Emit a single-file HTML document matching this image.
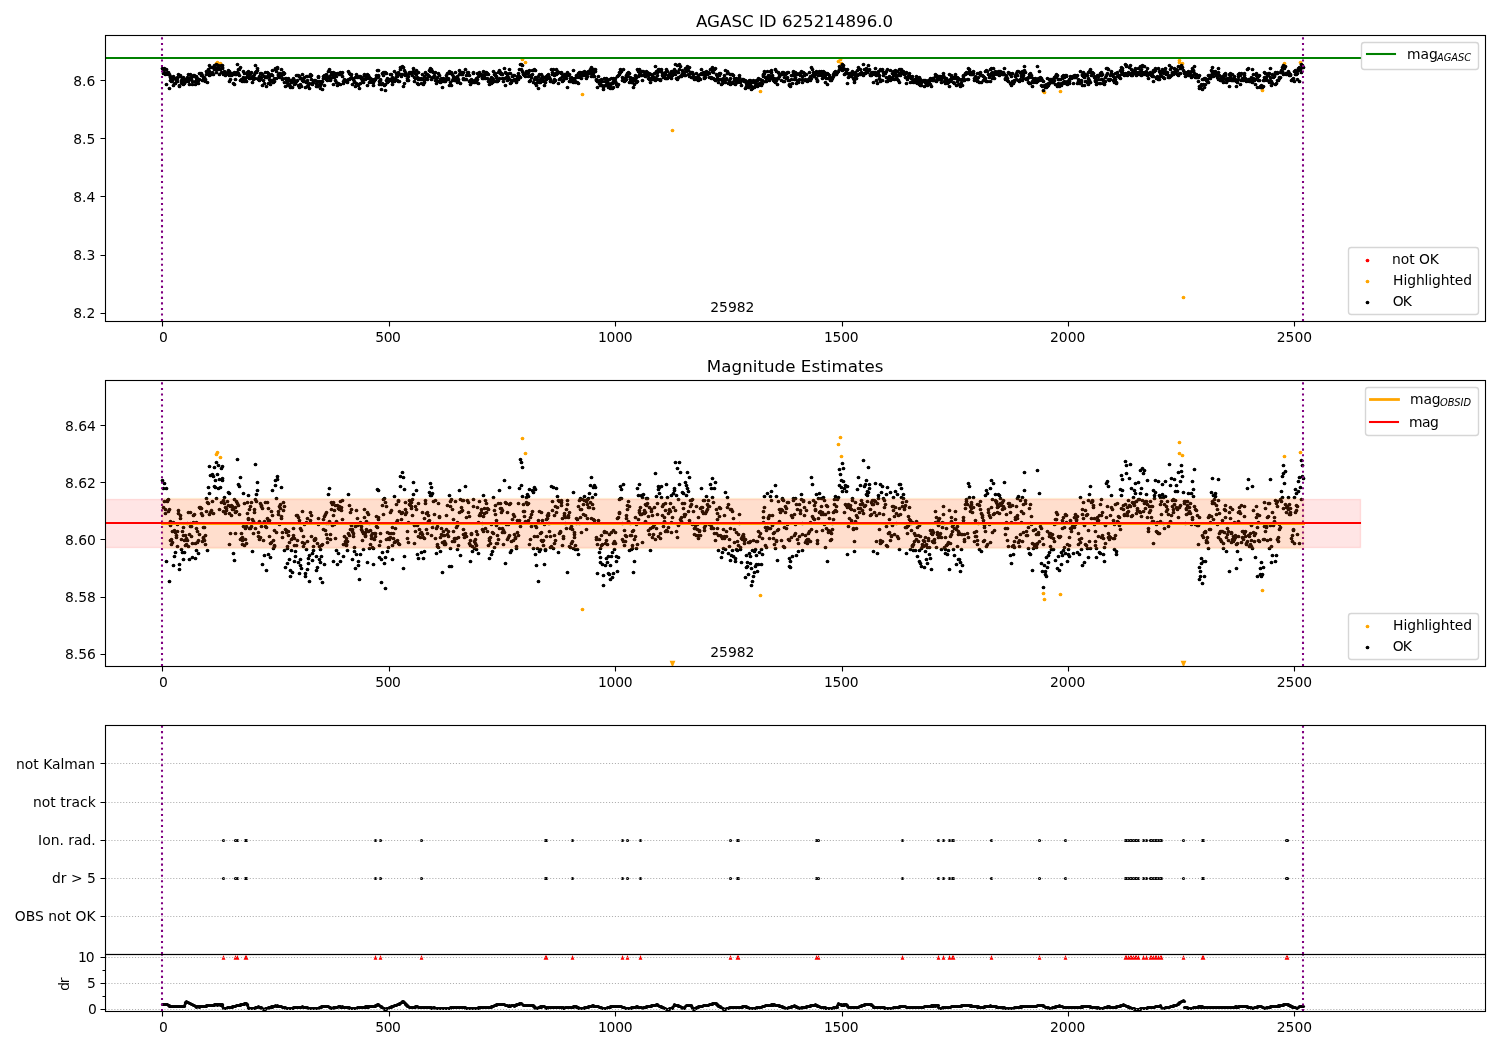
<!DOCTYPE html>
<html lang="en"><head><meta charset="utf-8"><title>AGASC ID 625214896.0 - Magnitude Estimates</title>
<style>
html,body{margin:0;padding:0;background:#fff;}
body{width:1500px;height:1050px;overflow:hidden;}
svg{display:block;}
text{font-family:"DejaVu Sans", "Liberation Sans", sans-serif;font-size:13.889px;fill:#000;}
.t12{font-size:16.667px;}
.sub{font-size:9.9px;font-style:italic;}
</style></head><body>
<svg width="1500" height="1050" viewBox="0 0 1500 1050">
<rect x="0" y="0" width="1500" height="1050" fill="#fff"/>
<clipPath id="c1"><rect x="105.1" y="35.3" width="1379.9" height="285.98"/></clipPath>
<g clip-path="url(#c1)">
<g fill="#ffa500"><circle cx="216.5" cy="63.5" r="1.86"/><circle cx="217.5" cy="62.5" r="1.86"/><circle cx="220.5" cy="63.5" r="1.86"/><circle cx="522.5" cy="59.5" r="1.86"/><circle cx="525.5" cy="62.5" r="1.86"/><circle cx="582.5" cy="94.5" r="1.86"/><circle cx="672.5" cy="130.5" r="1.86"/><circle cx="760.5" cy="91.5" r="1.86"/><circle cx="838.5" cy="61.5" r="1.86"/><circle cx="840.5" cy="59.5" r="1.86"/><circle cx="841.5" cy="63.5" r="1.86"/><circle cx="1043.5" cy="91.5" r="1.86"/><circle cx="1044.5" cy="92.5" r="1.86"/><circle cx="1060.5" cy="91.5" r="1.86"/><circle cx="1179.5" cy="60.5" r="1.86"/><circle cx="1179.5" cy="62.5" r="1.86"/><circle cx="1182.5" cy="63.5" r="1.86"/><circle cx="1183.5" cy="297.5" r="1.86"/><circle cx="1262.5" cy="90.5" r="1.86"/><circle cx="1284.5" cy="63.5" r="1.86"/><circle cx="1300.5" cy="62.5" r="1.86"/></g>
<g fill="#000"><circle cx="162.5" cy="68.5" r="1.86"/><circle cx="163.5" cy="73.5" r="1.86"/><circle cx="163.5" cy="69.5" r="1.86"/><circle cx="164.5" cy="72.5" r="1.86"/><circle cx="164.5" cy="68.5" r="1.86"/><circle cx="165.5" cy="74.5" r="1.86"/><circle cx="166.5" cy="69.5" r="1.86"/><circle cx="166.5" cy="84.5" r="1.86"/><circle cx="167.5" cy="72.5" r="1.86"/><circle cx="168.5" cy="74.5" r="1.86"/><circle cx="168.5" cy="72.5" r="1.86"/><circle cx="169.5" cy="74.5" r="1.86"/><circle cx="169.5" cy="88.5" r="1.86"/><circle cx="170.5" cy="76.5" r="1.86"/><circle cx="170.5" cy="80.5" r="1.86"/><circle cx="170.5" cy="77.5" r="1.86"/><circle cx="171.5" cy="80.5" r="1.86"/><circle cx="171.5" cy="81.5" r="1.86"/><circle cx="172.5" cy="78.5" r="1.86"/><circle cx="172.5" cy="80.5" r="1.86"/><circle cx="173.5" cy="76.5" r="1.86"/><circle cx="173.5" cy="85.5" r="1.86"/><circle cx="174.5" cy="78.5" r="1.86"/><circle cx="174.5" cy="83.5" r="1.86"/><circle cx="175.5" cy="78.5" r="1.86"/><circle cx="175.5" cy="83.5" r="1.86"/><circle cx="176.5" cy="80.5" r="1.86"/><circle cx="176.5" cy="79.5" r="1.86"/><circle cx="177.5" cy="77.5" r="1.86"/><circle cx="177.5" cy="81.5" r="1.86"/><circle cx="177.5" cy="78.5" r="1.86"/><circle cx="178.5" cy="74.5" r="1.86"/><circle cx="179.5" cy="86.5" r="1.86"/><circle cx="179.5" cy="85.5" r="1.86"/><circle cx="180.5" cy="75.5" r="1.86"/><circle cx="180.5" cy="76.5" r="1.86"/><circle cx="181.5" cy="82.5" r="1.86"/><circle cx="181.5" cy="80.5" r="1.86"/><circle cx="182.5" cy="78.5" r="1.86"/><circle cx="182.5" cy="83.5" r="1.86"/><circle cx="183.5" cy="79.5" r="1.86"/><circle cx="183.5" cy="77.5" r="1.86"/><circle cx="183.5" cy="84.5" r="1.86"/><circle cx="184.5" cy="83.5" r="1.86"/><circle cx="184.5" cy="80.5" r="1.86"/><circle cx="185.5" cy="79.5" r="1.86"/><circle cx="185.5" cy="81.5" r="1.86"/><circle cx="186.5" cy="80.5" r="1.86"/><circle cx="186.5" cy="81.5" r="1.86"/><circle cx="187.5" cy="80.5" r="1.86"/><circle cx="187.5" cy="77.5" r="1.86"/><circle cx="188.5" cy="81.5" r="1.86"/><circle cx="188.5" cy="74.5" r="1.86"/><circle cx="189.5" cy="79.5" r="1.86"/><circle cx="189.5" cy="84.5" r="1.86"/><circle cx="190.5" cy="74.5" r="1.86"/><circle cx="190.5" cy="77.5" r="1.86"/><circle cx="191.5" cy="79.5" r="1.86"/><circle cx="191.5" cy="77.5" r="1.86"/><circle cx="192.5" cy="81.5" r="1.86"/><circle cx="192.5" cy="84.5" r="1.86"/><circle cx="193.5" cy="75.5" r="1.86"/><circle cx="193.5" cy="76.5" r="1.86"/><circle cx="194.5" cy="75.5" r="1.86"/><circle cx="195.5" cy="81.5" r="1.86"/><circle cx="195.5" cy="84.5" r="1.86"/><circle cx="196.5" cy="78.5" r="1.86"/><circle cx="196.5" cy="76.5" r="1.86"/><circle cx="196.5" cy="82.5" r="1.86"/><circle cx="197.5" cy="81.5" r="1.86"/><circle cx="197.5" cy="78.5" r="1.86"/><circle cx="198.5" cy="80.5" r="1.86"/><circle cx="198.5" cy="83.5" r="1.86"/><circle cx="199.5" cy="79.5" r="1.86"/><circle cx="199.5" cy="73.5" r="1.86"/><circle cx="200.5" cy="73.5" r="1.86"/><circle cx="201.5" cy="73.5" r="1.86"/><circle cx="201.5" cy="75.5" r="1.86"/><circle cx="202.5" cy="80.5" r="1.86"/><circle cx="202.5" cy="75.5" r="1.86"/><circle cx="203.5" cy="77.5" r="1.86"/><circle cx="203.5" cy="80.5" r="1.86"/><circle cx="203.5" cy="79.5" r="1.86"/><circle cx="204.5" cy="77.5" r="1.86"/><circle cx="204.5" cy="80.5" r="1.86"/><circle cx="205.5" cy="81.5" r="1.86"/><circle cx="205.5" cy="79.5" r="1.86"/><circle cx="206.5" cy="71.5" r="1.86"/><circle cx="206.5" cy="74.5" r="1.86"/><circle cx="207.5" cy="72.5" r="1.86"/><circle cx="207.5" cy="82.5" r="1.86"/><circle cx="208.5" cy="73.5" r="1.86"/><circle cx="208.5" cy="69.5" r="1.86"/><circle cx="209.5" cy="71.5" r="1.86"/><circle cx="209.5" cy="75.5" r="1.86"/><circle cx="209.5" cy="65.5" r="1.86"/><circle cx="210.5" cy="74.5" r="1.86"/><circle cx="210.5" cy="67.5" r="1.86"/><circle cx="211.5" cy="74.5" r="1.86"/><circle cx="212.5" cy="67.5" r="1.86"/><circle cx="212.5" cy="72.5" r="1.86"/><circle cx="213.5" cy="74.5" r="1.86"/><circle cx="213.5" cy="67.5" r="1.86"/><circle cx="214.5" cy="69.5" r="1.86"/><circle cx="214.5" cy="65.5" r="1.86"/><circle cx="215.5" cy="69.5" r="1.86"/><circle cx="215.5" cy="68.5" r="1.86"/><circle cx="216.5" cy="72.5" r="1.86"/><circle cx="216.5" cy="64.5" r="1.86"/><circle cx="217.5" cy="67.5" r="1.86"/><circle cx="218.5" cy="65.5" r="1.86"/><circle cx="218.5" cy="69.5" r="1.86"/><circle cx="219.5" cy="68.5" r="1.86"/><circle cx="219.5" cy="74.5" r="1.86"/><circle cx="220.5" cy="69.5" r="1.86"/><circle cx="221.5" cy="72.5" r="1.86"/><circle cx="221.5" cy="65.5" r="1.86"/><circle cx="222.5" cy="68.5" r="1.86"/><circle cx="222.5" cy="67.5" r="1.86"/><circle cx="222.5" cy="65.5" r="1.86"/><circle cx="223.5" cy="72.5" r="1.86"/><circle cx="223.5" cy="74.5" r="1.86"/><circle cx="224.5" cy="73.5" r="1.86"/><circle cx="224.5" cy="71.5" r="1.86"/><circle cx="225.5" cy="73.5" r="1.86"/><circle cx="225.5" cy="75.5" r="1.86"/><circle cx="226.5" cy="74.5" r="1.86"/><circle cx="227.5" cy="72.5" r="1.86"/><circle cx="228.5" cy="73.5" r="1.86"/><circle cx="228.5" cy="70.5" r="1.86"/><circle cx="229.5" cy="71.5" r="1.86"/><circle cx="229.5" cy="75.5" r="1.86"/><circle cx="229.5" cy="81.5" r="1.86"/><circle cx="230.5" cy="79.5" r="1.86"/><circle cx="230.5" cy="73.5" r="1.86"/><circle cx="231.5" cy="73.5" r="1.86"/><circle cx="231.5" cy="75.5" r="1.86"/><circle cx="232.5" cy="74.5" r="1.86"/><circle cx="232.5" cy="73.5" r="1.86"/><circle cx="233.5" cy="74.5" r="1.86"/><circle cx="233.5" cy="83.5" r="1.86"/><circle cx="234.5" cy="84.5" r="1.86"/><circle cx="234.5" cy="72.5" r="1.86"/><circle cx="235.5" cy="74.5" r="1.86"/><circle cx="235.5" cy="73.5" r="1.86"/><circle cx="235.5" cy="79.5" r="1.86"/><circle cx="236.5" cy="74.5" r="1.86"/><circle cx="236.5" cy="72.5" r="1.86"/><circle cx="237.5" cy="72.5" r="1.86"/><circle cx="237.5" cy="64.5" r="1.86"/><circle cx="238.5" cy="69.5" r="1.86"/><circle cx="238.5" cy="73.5" r="1.86"/><circle cx="239.5" cy="75.5" r="1.86"/><circle cx="239.5" cy="69.5" r="1.86"/><circle cx="240.5" cy="80.5" r="1.86"/><circle cx="240.5" cy="67.5" r="1.86"/><circle cx="241.5" cy="79.5" r="1.86"/><circle cx="241.5" cy="80.5" r="1.86"/><circle cx="242.5" cy="81.5" r="1.86"/><circle cx="242.5" cy="80.5" r="1.86"/><circle cx="242.5" cy="79.5" r="1.86"/><circle cx="243.5" cy="77.5" r="1.86"/><circle cx="243.5" cy="71.5" r="1.86"/><circle cx="244.5" cy="73.5" r="1.86"/><circle cx="244.5" cy="81.5" r="1.86"/><circle cx="245.5" cy="80.5" r="1.86"/><circle cx="245.5" cy="78.5" r="1.86"/><circle cx="246.5" cy="81.5" r="1.86"/><circle cx="246.5" cy="77.5" r="1.86"/><circle cx="247.5" cy="72.5" r="1.86"/><circle cx="247.5" cy="74.5" r="1.86"/><circle cx="248.5" cy="75.5" r="1.86"/><circle cx="248.5" cy="71.5" r="1.86"/><circle cx="248.5" cy="76.5" r="1.86"/><circle cx="249.5" cy="78.5" r="1.86"/><circle cx="249.5" cy="74.5" r="1.86"/><circle cx="250.5" cy="78.5" r="1.86"/><circle cx="250.5" cy="73.5" r="1.86"/><circle cx="251.5" cy="77.5" r="1.86"/><circle cx="251.5" cy="72.5" r="1.86"/><circle cx="252.5" cy="76.5" r="1.86"/><circle cx="252.5" cy="82.5" r="1.86"/><circle cx="253.5" cy="76.5" r="1.86"/><circle cx="253.5" cy="79.5" r="1.86"/><circle cx="254.5" cy="74.5" r="1.86"/><circle cx="255.5" cy="72.5" r="1.86"/><circle cx="255.5" cy="65.5" r="1.86"/><circle cx="255.5" cy="78.5" r="1.86"/><circle cx="256.5" cy="72.5" r="1.86"/><circle cx="256.5" cy="71.5" r="1.86"/><circle cx="257.5" cy="70.5" r="1.86"/><circle cx="257.5" cy="68.5" r="1.86"/><circle cx="258.5" cy="78.5" r="1.86"/><circle cx="258.5" cy="79.5" r="1.86"/><circle cx="259.5" cy="80.5" r="1.86"/><circle cx="259.5" cy="76.5" r="1.86"/><circle cx="260.5" cy="79.5" r="1.86"/><circle cx="260.5" cy="73.5" r="1.86"/><circle cx="261.5" cy="77.5" r="1.86"/><circle cx="261.5" cy="73.5" r="1.86"/><circle cx="262.5" cy="74.5" r="1.86"/><circle cx="262.5" cy="85.5" r="1.86"/><circle cx="263.5" cy="80.5" r="1.86"/><circle cx="264.5" cy="76.5" r="1.86"/><circle cx="264.5" cy="83.5" r="1.86"/><circle cx="265.5" cy="72.5" r="1.86"/><circle cx="265.5" cy="77.5" r="1.86"/><circle cx="266.5" cy="77.5" r="1.86"/><circle cx="266.5" cy="86.5" r="1.86"/><circle cx="267.5" cy="72.5" r="1.86"/><circle cx="267.5" cy="76.5" r="1.86"/><circle cx="268.5" cy="73.5" r="1.86"/><circle cx="268.5" cy="76.5" r="1.86"/><circle cx="268.5" cy="83.5" r="1.86"/><circle cx="269.5" cy="76.5" r="1.86"/><circle cx="269.5" cy="79.5" r="1.86"/><circle cx="270.5" cy="81.5" r="1.86"/><circle cx="270.5" cy="84.5" r="1.86"/><circle cx="271.5" cy="80.5" r="1.86"/><circle cx="271.5" cy="74.5" r="1.86"/><circle cx="272.5" cy="70.5" r="1.86"/><circle cx="272.5" cy="75.5" r="1.86"/><circle cx="273.5" cy="80.5" r="1.86"/><circle cx="273.5" cy="82.5" r="1.86"/><circle cx="274.5" cy="81.5" r="1.86"/><circle cx="274.5" cy="78.5" r="1.86"/><circle cx="275.5" cy="69.5" r="1.86"/><circle cx="275.5" cy="68.5" r="1.86"/><circle cx="276.5" cy="78.5" r="1.86"/><circle cx="276.5" cy="71.5" r="1.86"/><circle cx="277.5" cy="67.5" r="1.86"/><circle cx="277.5" cy="68.5" r="1.86"/><circle cx="278.5" cy="75.5" r="1.86"/><circle cx="278.5" cy="74.5" r="1.86"/><circle cx="279.5" cy="77.5" r="1.86"/><circle cx="279.5" cy="73.5" r="1.86"/><circle cx="280.5" cy="73.5" r="1.86"/><circle cx="281.5" cy="69.5" r="1.86"/><circle cx="281.5" cy="75.5" r="1.86"/><circle cx="282.5" cy="78.5" r="1.86"/><circle cx="282.5" cy="79.5" r="1.86"/><circle cx="283.5" cy="74.5" r="1.86"/><circle cx="283.5" cy="72.5" r="1.86"/><circle cx="284.5" cy="73.5" r="1.86"/><circle cx="284.5" cy="82.5" r="1.86"/><circle cx="285.5" cy="78.5" r="1.86"/><circle cx="285.5" cy="86.5" r="1.86"/><circle cx="286.5" cy="78.5" r="1.86"/><circle cx="286.5" cy="79.5" r="1.86"/><circle cx="287.5" cy="81.5" r="1.86"/><circle cx="287.5" cy="82.5" r="1.86"/><circle cx="287.5" cy="85.5" r="1.86"/><circle cx="288.5" cy="79.5" r="1.86"/><circle cx="288.5" cy="78.5" r="1.86"/><circle cx="289.5" cy="80.5" r="1.86"/><circle cx="289.5" cy="84.5" r="1.86"/><circle cx="290.5" cy="87.5" r="1.86"/><circle cx="290.5" cy="86.5" r="1.86"/><circle cx="291.5" cy="80.5" r="1.86"/><circle cx="291.5" cy="82.5" r="1.86"/><circle cx="292.5" cy="80.5" r="1.86"/><circle cx="292.5" cy="87.5" r="1.86"/><circle cx="293.5" cy="79.5" r="1.86"/><circle cx="293.5" cy="78.5" r="1.86"/><circle cx="294.5" cy="84.5" r="1.86"/><circle cx="294.5" cy="80.5" r="1.86"/><circle cx="294.5" cy="81.5" r="1.86"/><circle cx="295.5" cy="82.5" r="1.86"/><circle cx="295.5" cy="83.5" r="1.86"/><circle cx="296.5" cy="81.5" r="1.86"/><circle cx="296.5" cy="75.5" r="1.86"/><circle cx="297.5" cy="75.5" r="1.86"/><circle cx="297.5" cy="80.5" r="1.86"/><circle cx="298.5" cy="75.5" r="1.86"/><circle cx="298.5" cy="85.5" r="1.86"/><circle cx="299.5" cy="76.5" r="1.86"/><circle cx="299.5" cy="87.5" r="1.86"/><circle cx="300.5" cy="78.5" r="1.86"/><circle cx="300.5" cy="84.5" r="1.86"/><circle cx="300.5" cy="85.5" r="1.86"/><circle cx="301.5" cy="78.5" r="1.86"/><circle cx="301.5" cy="86.5" r="1.86"/><circle cx="302.5" cy="74.5" r="1.86"/><circle cx="302.5" cy="80.5" r="1.86"/><circle cx="303.5" cy="79.5" r="1.86"/><circle cx="303.5" cy="81.5" r="1.86"/><circle cx="304.5" cy="81.5" r="1.86"/><circle cx="304.5" cy="77.5" r="1.86"/><circle cx="305.5" cy="87.5" r="1.86"/><circle cx="306.5" cy="76.5" r="1.86"/><circle cx="306.5" cy="82.5" r="1.86"/><circle cx="307.5" cy="86.5" r="1.86"/><circle cx="307.5" cy="76.5" r="1.86"/><circle cx="307.5" cy="80.5" r="1.86"/><circle cx="308.5" cy="85.5" r="1.86"/><circle cx="308.5" cy="84.5" r="1.86"/><circle cx="309.5" cy="83.5" r="1.86"/><circle cx="309.5" cy="88.5" r="1.86"/><circle cx="310.5" cy="74.5" r="1.86"/><circle cx="310.5" cy="76.5" r="1.86"/><circle cx="311.5" cy="79.5" r="1.86"/><circle cx="311.5" cy="75.5" r="1.86"/><circle cx="312.5" cy="83.5" r="1.86"/><circle cx="312.5" cy="84.5" r="1.86"/><circle cx="313.5" cy="82.5" r="1.86"/><circle cx="313.5" cy="81.5" r="1.86"/><circle cx="314.5" cy="80.5" r="1.86"/><circle cx="315.5" cy="80.5" r="1.86"/><circle cx="316.5" cy="83.5" r="1.86"/><circle cx="316.5" cy="86.5" r="1.86"/><circle cx="317.5" cy="86.5" r="1.86"/><circle cx="317.5" cy="81.5" r="1.86"/><circle cx="318.5" cy="76.5" r="1.86"/><circle cx="318.5" cy="77.5" r="1.86"/><circle cx="319.5" cy="81.5" r="1.86"/><circle cx="319.5" cy="84.5" r="1.86"/><circle cx="320.5" cy="82.5" r="1.86"/><circle cx="320.5" cy="85.5" r="1.86"/><circle cx="320.5" cy="88.5" r="1.86"/><circle cx="321.5" cy="81.5" r="1.86"/><circle cx="321.5" cy="83.5" r="1.86"/><circle cx="322.5" cy="89.5" r="1.86"/><circle cx="322.5" cy="81.5" r="1.86"/><circle cx="323.5" cy="78.5" r="1.86"/><circle cx="323.5" cy="76.5" r="1.86"/><circle cx="324.5" cy="75.5" r="1.86"/><circle cx="324.5" cy="85.5" r="1.86"/><circle cx="325.5" cy="75.5" r="1.86"/><circle cx="325.5" cy="78.5" r="1.86"/><circle cx="326.5" cy="74.5" r="1.86"/><circle cx="326.5" cy="79.5" r="1.86"/><circle cx="326.5" cy="77.5" r="1.86"/><circle cx="327.5" cy="80.5" r="1.86"/><circle cx="328.5" cy="77.5" r="1.86"/><circle cx="328.5" cy="71.5" r="1.86"/><circle cx="329.5" cy="76.5" r="1.86"/><circle cx="329.5" cy="69.5" r="1.86"/><circle cx="330.5" cy="80.5" r="1.86"/><circle cx="330.5" cy="79.5" r="1.86"/><circle cx="331.5" cy="74.5" r="1.86"/><circle cx="331.5" cy="72.5" r="1.86"/><circle cx="332.5" cy="77.5" r="1.86"/><circle cx="332.5" cy="73.5" r="1.86"/><circle cx="333.5" cy="75.5" r="1.86"/><circle cx="333.5" cy="72.5" r="1.86"/><circle cx="333.5" cy="84.5" r="1.86"/><circle cx="334.5" cy="74.5" r="1.86"/><circle cx="334.5" cy="77.5" r="1.86"/><circle cx="335.5" cy="73.5" r="1.86"/><circle cx="335.5" cy="80.5" r="1.86"/><circle cx="336.5" cy="82.5" r="1.86"/><circle cx="336.5" cy="76.5" r="1.86"/><circle cx="337.5" cy="73.5" r="1.86"/><circle cx="337.5" cy="85.5" r="1.86"/><circle cx="338.5" cy="73.5" r="1.86"/><circle cx="338.5" cy="83.5" r="1.86"/><circle cx="339.5" cy="73.5" r="1.86"/><circle cx="339.5" cy="74.5" r="1.86"/><circle cx="340.5" cy="72.5" r="1.86"/><circle cx="340.5" cy="84.5" r="1.86"/><circle cx="341.5" cy="73.5" r="1.86"/><circle cx="341.5" cy="74.5" r="1.86"/><circle cx="342.5" cy="72.5" r="1.86"/><circle cx="342.5" cy="76.5" r="1.86"/><circle cx="343.5" cy="83.5" r="1.86"/><circle cx="343.5" cy="81.5" r="1.86"/><circle cx="344.5" cy="81.5" r="1.86"/><circle cx="344.5" cy="79.5" r="1.86"/><circle cx="345.5" cy="80.5" r="1.86"/><circle cx="346.5" cy="81.5" r="1.86"/><circle cx="346.5" cy="80.5" r="1.86"/><circle cx="347.5" cy="82.5" r="1.86"/><circle cx="347.5" cy="80.5" r="1.86"/><circle cx="348.5" cy="79.5" r="1.86"/><circle cx="348.5" cy="71.5" r="1.86"/><circle cx="349.5" cy="79.5" r="1.86"/><circle cx="349.5" cy="73.5" r="1.86"/><circle cx="350.5" cy="78.5" r="1.86"/><circle cx="350.5" cy="74.5" r="1.86"/><circle cx="351.5" cy="74.5" r="1.86"/><circle cx="351.5" cy="77.5" r="1.86"/><circle cx="352.5" cy="78.5" r="1.86"/><circle cx="352.5" cy="84.5" r="1.86"/><circle cx="353.5" cy="79.5" r="1.86"/><circle cx="354.5" cy="81.5" r="1.86"/><circle cx="354.5" cy="82.5" r="1.86"/><circle cx="355.5" cy="77.5" r="1.86"/><circle cx="355.5" cy="86.5" r="1.86"/><circle cx="356.5" cy="74.5" r="1.86"/><circle cx="356.5" cy="83.5" r="1.86"/><circle cx="357.5" cy="77.5" r="1.86"/><circle cx="357.5" cy="76.5" r="1.86"/><circle cx="358.5" cy="84.5" r="1.86"/><circle cx="358.5" cy="85.5" r="1.86"/><circle cx="359.5" cy="77.5" r="1.86"/><circle cx="359.5" cy="76.5" r="1.86"/><circle cx="359.5" cy="88.5" r="1.86"/><circle cx="360.5" cy="76.5" r="1.86"/><circle cx="360.5" cy="83.5" r="1.86"/><circle cx="361.5" cy="77.5" r="1.86"/><circle cx="361.5" cy="78.5" r="1.86"/><circle cx="362.5" cy="78.5" r="1.86"/><circle cx="362.5" cy="80.5" r="1.86"/><circle cx="363.5" cy="79.5" r="1.86"/><circle cx="363.5" cy="82.5" r="1.86"/><circle cx="364.5" cy="74.5" r="1.86"/><circle cx="364.5" cy="75.5" r="1.86"/><circle cx="365.5" cy="78.5" r="1.86"/><circle cx="365.5" cy="79.5" r="1.86"/><circle cx="366.5" cy="76.5" r="1.86"/><circle cx="366.5" cy="78.5" r="1.86"/><circle cx="367.5" cy="74.5" r="1.86"/><circle cx="367.5" cy="85.5" r="1.86"/><circle cx="368.5" cy="75.5" r="1.86"/><circle cx="368.5" cy="78.5" r="1.86"/><circle cx="369.5" cy="82.5" r="1.86"/><circle cx="369.5" cy="77.5" r="1.86"/><circle cx="370.5" cy="78.5" r="1.86"/><circle cx="370.5" cy="81.5" r="1.86"/><circle cx="371.5" cy="79.5" r="1.86"/><circle cx="371.5" cy="80.5" r="1.86"/><circle cx="372.5" cy="79.5" r="1.86"/><circle cx="372.5" cy="80.5" r="1.86"/><circle cx="372.5" cy="82.5" r="1.86"/><circle cx="373.5" cy="85.5" r="1.86"/><circle cx="373.5" cy="82.5" r="1.86"/><circle cx="374.5" cy="79.5" r="1.86"/><circle cx="374.5" cy="80.5" r="1.86"/><circle cx="375.5" cy="79.5" r="1.86"/><circle cx="376.5" cy="75.5" r="1.86"/><circle cx="376.5" cy="77.5" r="1.86"/><circle cx="377.5" cy="77.5" r="1.86"/><circle cx="377.5" cy="70.5" r="1.86"/><circle cx="378.5" cy="76.5" r="1.86"/><circle cx="378.5" cy="70.5" r="1.86"/><circle cx="378.5" cy="75.5" r="1.86"/><circle cx="379.5" cy="81.5" r="1.86"/><circle cx="379.5" cy="84.5" r="1.86"/><circle cx="380.5" cy="79.5" r="1.86"/><circle cx="380.5" cy="80.5" r="1.86"/><circle cx="381.5" cy="84.5" r="1.86"/><circle cx="381.5" cy="89.5" r="1.86"/><circle cx="382.5" cy="73.5" r="1.86"/><circle cx="382.5" cy="83.5" r="1.86"/><circle cx="383.5" cy="75.5" r="1.86"/><circle cx="383.5" cy="72.5" r="1.86"/><circle cx="384.5" cy="72.5" r="1.86"/><circle cx="384.5" cy="85.5" r="1.86"/><circle cx="385.5" cy="90.5" r="1.86"/><circle cx="385.5" cy="72.5" r="1.86"/><circle cx="385.5" cy="84.5" r="1.86"/><circle cx="386.5" cy="80.5" r="1.86"/><circle cx="386.5" cy="73.5" r="1.86"/><circle cx="387.5" cy="78.5" r="1.86"/><circle cx="387.5" cy="82.5" r="1.86"/><circle cx="388.5" cy="81.5" r="1.86"/><circle cx="388.5" cy="80.5" r="1.86"/><circle cx="389.5" cy="80.5" r="1.86"/><circle cx="389.5" cy="79.5" r="1.86"/><circle cx="390.5" cy="79.5" r="1.86"/><circle cx="390.5" cy="74.5" r="1.86"/><circle cx="391.5" cy="74.5" r="1.86"/><circle cx="391.5" cy="79.5" r="1.86"/><circle cx="392.5" cy="81.5" r="1.86"/><circle cx="392.5" cy="84.5" r="1.86"/><circle cx="392.5" cy="77.5" r="1.86"/><circle cx="393.5" cy="79.5" r="1.86"/><circle cx="393.5" cy="80.5" r="1.86"/><circle cx="394.5" cy="81.5" r="1.86"/><circle cx="394.5" cy="71.5" r="1.86"/><circle cx="395.5" cy="80.5" r="1.86"/><circle cx="395.5" cy="78.5" r="1.86"/><circle cx="396.5" cy="76.5" r="1.86"/><circle cx="396.5" cy="73.5" r="1.86"/><circle cx="397.5" cy="76.5" r="1.86"/><circle cx="397.5" cy="80.5" r="1.86"/><circle cx="398.5" cy="81.5" r="1.86"/><circle cx="398.5" cy="72.5" r="1.86"/><circle cx="399.5" cy="81.5" r="1.86"/><circle cx="399.5" cy="74.5" r="1.86"/><circle cx="400.5" cy="69.5" r="1.86"/><circle cx="400.5" cy="67.5" r="1.86"/><circle cx="401.5" cy="76.5" r="1.86"/><circle cx="401.5" cy="74.5" r="1.86"/><circle cx="402.5" cy="74.5" r="1.86"/><circle cx="402.5" cy="66.5" r="1.86"/><circle cx="403.5" cy="67.5" r="1.86"/><circle cx="403.5" cy="86.5" r="1.86"/><circle cx="404.5" cy="70.5" r="1.86"/><circle cx="404.5" cy="83.5" r="1.86"/><circle cx="405.5" cy="75.5" r="1.86"/><circle cx="405.5" cy="72.5" r="1.86"/><circle cx="405.5" cy="74.5" r="1.86"/><circle cx="406.5" cy="74.5" r="1.86"/><circle cx="407.5" cy="78.5" r="1.86"/><circle cx="407.5" cy="80.5" r="1.86"/><circle cx="408.5" cy="80.5" r="1.86"/><circle cx="408.5" cy="76.5" r="1.86"/><circle cx="409.5" cy="72.5" r="1.86"/><circle cx="409.5" cy="73.5" r="1.86"/><circle cx="410.5" cy="73.5" r="1.86"/><circle cx="410.5" cy="72.5" r="1.86"/><circle cx="411.5" cy="73.5" r="1.86"/><circle cx="411.5" cy="72.5" r="1.86"/><circle cx="412.5" cy="72.5" r="1.86"/><circle cx="412.5" cy="75.5" r="1.86"/><circle cx="413.5" cy="71.5" r="1.86"/><circle cx="413.5" cy="68.5" r="1.86"/><circle cx="414.5" cy="77.5" r="1.86"/><circle cx="414.5" cy="81.5" r="1.86"/><circle cx="415.5" cy="78.5" r="1.86"/><circle cx="415.5" cy="73.5" r="1.86"/><circle cx="416.5" cy="74.5" r="1.86"/><circle cx="416.5" cy="70.5" r="1.86"/><circle cx="417.5" cy="77.5" r="1.86"/><circle cx="417.5" cy="83.5" r="1.86"/><circle cx="418.5" cy="72.5" r="1.86"/><circle cx="418.5" cy="79.5" r="1.86"/><circle cx="418.5" cy="84.5" r="1.86"/><circle cx="419.5" cy="78.5" r="1.86"/><circle cx="420.5" cy="79.5" r="1.86"/><circle cx="421.5" cy="83.5" r="1.86"/><circle cx="421.5" cy="78.5" r="1.86"/><circle cx="422.5" cy="79.5" r="1.86"/><circle cx="422.5" cy="74.5" r="1.86"/><circle cx="423.5" cy="84.5" r="1.86"/><circle cx="423.5" cy="79.5" r="1.86"/><circle cx="424.5" cy="76.5" r="1.86"/><circle cx="424.5" cy="80.5" r="1.86"/><circle cx="424.5" cy="82.5" r="1.86"/><circle cx="425.5" cy="72.5" r="1.86"/><circle cx="426.5" cy="74.5" r="1.86"/><circle cx="426.5" cy="78.5" r="1.86"/><circle cx="427.5" cy="74.5" r="1.86"/><circle cx="427.5" cy="79.5" r="1.86"/><circle cx="428.5" cy="76.5" r="1.86"/><circle cx="428.5" cy="75.5" r="1.86"/><circle cx="429.5" cy="76.5" r="1.86"/><circle cx="429.5" cy="70.5" r="1.86"/><circle cx="430.5" cy="71.5" r="1.86"/><circle cx="430.5" cy="68.5" r="1.86"/><circle cx="431.5" cy="69.5" r="1.86"/><circle cx="431.5" cy="79.5" r="1.86"/><circle cx="431.5" cy="71.5" r="1.86"/><circle cx="432.5" cy="77.5" r="1.86"/><circle cx="432.5" cy="71.5" r="1.86"/><circle cx="433.5" cy="77.5" r="1.86"/><circle cx="433.5" cy="72.5" r="1.86"/><circle cx="434.5" cy="75.5" r="1.86"/><circle cx="435.5" cy="72.5" r="1.86"/><circle cx="435.5" cy="80.5" r="1.86"/><circle cx="436.5" cy="78.5" r="1.86"/><circle cx="436.5" cy="83.5" r="1.86"/><circle cx="437.5" cy="81.5" r="1.86"/><circle cx="437.5" cy="77.5" r="1.86"/><circle cx="438.5" cy="81.5" r="1.86"/><circle cx="438.5" cy="73.5" r="1.86"/><circle cx="439.5" cy="75.5" r="1.86"/><circle cx="440.5" cy="79.5" r="1.86"/><circle cx="440.5" cy="82.5" r="1.86"/><circle cx="441.5" cy="79.5" r="1.86"/><circle cx="441.5" cy="78.5" r="1.86"/><circle cx="442.5" cy="81.5" r="1.86"/><circle cx="442.5" cy="87.5" r="1.86"/><circle cx="443.5" cy="79.5" r="1.86"/><circle cx="443.5" cy="78.5" r="1.86"/><circle cx="444.5" cy="80.5" r="1.86"/><circle cx="444.5" cy="79.5" r="1.86"/><circle cx="444.5" cy="81.5" r="1.86"/><circle cx="445.5" cy="81.5" r="1.86"/><circle cx="446.5" cy="78.5" r="1.86"/><circle cx="446.5" cy="75.5" r="1.86"/><circle cx="447.5" cy="79.5" r="1.86"/><circle cx="447.5" cy="73.5" r="1.86"/><circle cx="448.5" cy="78.5" r="1.86"/><circle cx="448.5" cy="79.5" r="1.86"/><circle cx="449.5" cy="85.5" r="1.86"/><circle cx="449.5" cy="71.5" r="1.86"/><circle cx="450.5" cy="82.5" r="1.86"/><circle cx="450.5" cy="73.5" r="1.86"/><circle cx="450.5" cy="72.5" r="1.86"/><circle cx="451.5" cy="72.5" r="1.86"/><circle cx="451.5" cy="85.5" r="1.86"/><circle cx="452.5" cy="74.5" r="1.86"/><circle cx="452.5" cy="80.5" r="1.86"/><circle cx="453.5" cy="76.5" r="1.86"/><circle cx="453.5" cy="78.5" r="1.86"/><circle cx="454.5" cy="80.5" r="1.86"/><circle cx="455.5" cy="72.5" r="1.86"/><circle cx="455.5" cy="80.5" r="1.86"/><circle cx="456.5" cy="77.5" r="1.86"/><circle cx="456.5" cy="80.5" r="1.86"/><circle cx="457.5" cy="76.5" r="1.86"/><circle cx="457.5" cy="77.5" r="1.86"/><circle cx="457.5" cy="82.5" r="1.86"/><circle cx="458.5" cy="79.5" r="1.86"/><circle cx="458.5" cy="81.5" r="1.86"/><circle cx="459.5" cy="74.5" r="1.86"/><circle cx="459.5" cy="70.5" r="1.86"/><circle cx="460.5" cy="72.5" r="1.86"/><circle cx="460.5" cy="83.5" r="1.86"/><circle cx="461.5" cy="73.5" r="1.86"/><circle cx="461.5" cy="74.5" r="1.86"/><circle cx="462.5" cy="72.5" r="1.86"/><circle cx="462.5" cy="74.5" r="1.86"/><circle cx="463.5" cy="72.5" r="1.86"/><circle cx="463.5" cy="78.5" r="1.86"/><circle cx="463.5" cy="79.5" r="1.86"/><circle cx="464.5" cy="79.5" r="1.86"/><circle cx="465.5" cy="79.5" r="1.86"/><circle cx="465.5" cy="69.5" r="1.86"/><circle cx="466.5" cy="79.5" r="1.86"/><circle cx="466.5" cy="75.5" r="1.86"/><circle cx="467.5" cy="72.5" r="1.86"/><circle cx="468.5" cy="72.5" r="1.86"/><circle cx="468.5" cy="74.5" r="1.86"/><circle cx="469.5" cy="75.5" r="1.86"/><circle cx="469.5" cy="81.5" r="1.86"/><circle cx="470.5" cy="81.5" r="1.86"/><circle cx="470.5" cy="80.5" r="1.86"/><circle cx="470.5" cy="84.5" r="1.86"/><circle cx="471.5" cy="79.5" r="1.86"/><circle cx="472.5" cy="81.5" r="1.86"/><circle cx="472.5" cy="82.5" r="1.86"/><circle cx="473.5" cy="72.5" r="1.86"/><circle cx="473.5" cy="73.5" r="1.86"/><circle cx="474.5" cy="82.5" r="1.86"/><circle cx="474.5" cy="80.5" r="1.86"/><circle cx="475.5" cy="81.5" r="1.86"/><circle cx="475.5" cy="80.5" r="1.86"/><circle cx="476.5" cy="81.5" r="1.86"/><circle cx="476.5" cy="78.5" r="1.86"/><circle cx="476.5" cy="82.5" r="1.86"/><circle cx="477.5" cy="73.5" r="1.86"/><circle cx="477.5" cy="79.5" r="1.86"/><circle cx="478.5" cy="76.5" r="1.86"/><circle cx="478.5" cy="83.5" r="1.86"/><circle cx="479.5" cy="72.5" r="1.86"/><circle cx="479.5" cy="75.5" r="1.86"/><circle cx="480.5" cy="75.5" r="1.86"/><circle cx="481.5" cy="74.5" r="1.86"/><circle cx="482.5" cy="78.5" r="1.86"/><circle cx="482.5" cy="77.5" r="1.86"/><circle cx="483.5" cy="78.5" r="1.86"/><circle cx="483.5" cy="75.5" r="1.86"/><circle cx="483.5" cy="71.5" r="1.86"/><circle cx="484.5" cy="75.5" r="1.86"/><circle cx="484.5" cy="74.5" r="1.86"/><circle cx="485.5" cy="78.5" r="1.86"/><circle cx="485.5" cy="72.5" r="1.86"/><circle cx="486.5" cy="74.5" r="1.86"/><circle cx="486.5" cy="72.5" r="1.86"/><circle cx="487.5" cy="73.5" r="1.86"/><circle cx="487.5" cy="78.5" r="1.86"/><circle cx="488.5" cy="81.5" r="1.86"/><circle cx="488.5" cy="74.5" r="1.86"/><circle cx="489.5" cy="80.5" r="1.86"/><circle cx="489.5" cy="84.5" r="1.86"/><circle cx="490.5" cy="81.5" r="1.86"/><circle cx="490.5" cy="79.5" r="1.86"/><circle cx="491.5" cy="77.5" r="1.86"/><circle cx="491.5" cy="83.5" r="1.86"/><circle cx="492.5" cy="78.5" r="1.86"/><circle cx="492.5" cy="82.5" r="1.86"/><circle cx="493.5" cy="79.5" r="1.86"/><circle cx="493.5" cy="71.5" r="1.86"/><circle cx="494.5" cy="81.5" r="1.86"/><circle cx="494.5" cy="74.5" r="1.86"/><circle cx="495.5" cy="75.5" r="1.86"/><circle cx="495.5" cy="73.5" r="1.86"/><circle cx="496.5" cy="77.5" r="1.86"/><circle cx="496.5" cy="81.5" r="1.86"/><circle cx="496.5" cy="76.5" r="1.86"/><circle cx="497.5" cy="81.5" r="1.86"/><circle cx="497.5" cy="79.5" r="1.86"/><circle cx="498.5" cy="80.5" r="1.86"/><circle cx="498.5" cy="72.5" r="1.86"/><circle cx="499.5" cy="78.5" r="1.86"/><circle cx="499.5" cy="70.5" r="1.86"/><circle cx="500.5" cy="72.5" r="1.86"/><circle cx="500.5" cy="73.5" r="1.86"/><circle cx="501.5" cy="74.5" r="1.86"/><circle cx="501.5" cy="73.5" r="1.86"/><circle cx="502.5" cy="74.5" r="1.86"/><circle cx="502.5" cy="78.5" r="1.86"/><circle cx="503.5" cy="78.5" r="1.86"/><circle cx="503.5" cy="81.5" r="1.86"/><circle cx="504.5" cy="78.5" r="1.86"/><circle cx="504.5" cy="68.5" r="1.86"/><circle cx="505.5" cy="72.5" r="1.86"/><circle cx="505.5" cy="85.5" r="1.86"/><circle cx="506.5" cy="73.5" r="1.86"/><circle cx="506.5" cy="77.5" r="1.86"/><circle cx="507.5" cy="80.5" r="1.86"/><circle cx="507.5" cy="74.5" r="1.86"/><circle cx="508.5" cy="79.5" r="1.86"/><circle cx="508.5" cy="77.5" r="1.86"/><circle cx="509.5" cy="79.5" r="1.86"/><circle cx="509.5" cy="73.5" r="1.86"/><circle cx="509.5" cy="69.5" r="1.86"/><circle cx="510.5" cy="73.5" r="1.86"/><circle cx="510.5" cy="83.5" r="1.86"/><circle cx="511.5" cy="80.5" r="1.86"/><circle cx="511.5" cy="82.5" r="1.86"/><circle cx="512.5" cy="76.5" r="1.86"/><circle cx="513.5" cy="75.5" r="1.86"/><circle cx="513.5" cy="80.5" r="1.86"/><circle cx="514.5" cy="79.5" r="1.86"/><circle cx="514.5" cy="75.5" r="1.86"/><circle cx="515.5" cy="79.5" r="1.86"/><circle cx="515.5" cy="80.5" r="1.86"/><circle cx="516.5" cy="81.5" r="1.86"/><circle cx="516.5" cy="82.5" r="1.86"/><circle cx="517.5" cy="78.5" r="1.86"/><circle cx="517.5" cy="76.5" r="1.86"/><circle cx="518.5" cy="79.5" r="1.86"/><circle cx="518.5" cy="73.5" r="1.86"/><circle cx="519.5" cy="76.5" r="1.86"/><circle cx="519.5" cy="69.5" r="1.86"/><circle cx="520.5" cy="77.5" r="1.86"/><circle cx="520.5" cy="64.5" r="1.86"/><circle cx="521.5" cy="69.5" r="1.86"/><circle cx="521.5" cy="64.5" r="1.86"/><circle cx="522.5" cy="71.5" r="1.86"/><circle cx="522.5" cy="65.5" r="1.86"/><circle cx="523.5" cy="74.5" r="1.86"/><circle cx="523.5" cy="73.5" r="1.86"/><circle cx="524.5" cy="74.5" r="1.86"/><circle cx="524.5" cy="75.5" r="1.86"/><circle cx="525.5" cy="76.5" r="1.86"/><circle cx="526.5" cy="72.5" r="1.86"/><circle cx="526.5" cy="71.5" r="1.86"/><circle cx="527.5" cy="71.5" r="1.86"/><circle cx="527.5" cy="73.5" r="1.86"/><circle cx="528.5" cy="72.5" r="1.86"/><circle cx="528.5" cy="76.5" r="1.86"/><circle cx="528.5" cy="71.5" r="1.86"/><circle cx="529.5" cy="81.5" r="1.86"/><circle cx="529.5" cy="70.5" r="1.86"/><circle cx="530.5" cy="75.5" r="1.86"/><circle cx="530.5" cy="80.5" r="1.86"/><circle cx="531.5" cy="75.5" r="1.86"/><circle cx="531.5" cy="77.5" r="1.86"/><circle cx="532.5" cy="74.5" r="1.86"/><circle cx="532.5" cy="70.5" r="1.86"/><circle cx="533.5" cy="82.5" r="1.86"/><circle cx="533.5" cy="70.5" r="1.86"/><circle cx="534.5" cy="79.5" r="1.86"/><circle cx="534.5" cy="69.5" r="1.86"/><circle cx="535.5" cy="77.5" r="1.86"/><circle cx="535.5" cy="83.5" r="1.86"/><circle cx="535.5" cy="70.5" r="1.86"/><circle cx="536.5" cy="77.5" r="1.86"/><circle cx="536.5" cy="85.5" r="1.86"/><circle cx="537.5" cy="82.5" r="1.86"/><circle cx="537.5" cy="79.5" r="1.86"/><circle cx="538.5" cy="76.5" r="1.86"/><circle cx="538.5" cy="88.5" r="1.86"/><circle cx="539.5" cy="74.5" r="1.86"/><circle cx="539.5" cy="82.5" r="1.86"/><circle cx="540.5" cy="79.5" r="1.86"/><circle cx="540.5" cy="82.5" r="1.86"/><circle cx="541.5" cy="78.5" r="1.86"/><circle cx="541.5" cy="80.5" r="1.86"/><circle cx="541.5" cy="74.5" r="1.86"/><circle cx="542.5" cy="80.5" r="1.86"/><circle cx="542.5" cy="76.5" r="1.86"/><circle cx="543.5" cy="80.5" r="1.86"/><circle cx="543.5" cy="81.5" r="1.86"/><circle cx="544.5" cy="85.5" r="1.86"/><circle cx="544.5" cy="77.5" r="1.86"/><circle cx="545.5" cy="82.5" r="1.86"/><circle cx="546.5" cy="76.5" r="1.86"/><circle cx="546.5" cy="79.5" r="1.86"/><circle cx="547.5" cy="76.5" r="1.86"/><circle cx="547.5" cy="75.5" r="1.86"/><circle cx="548.5" cy="77.5" r="1.86"/><circle cx="548.5" cy="74.5" r="1.86"/><circle cx="548.5" cy="75.5" r="1.86"/><circle cx="549.5" cy="77.5" r="1.86"/><circle cx="549.5" cy="78.5" r="1.86"/><circle cx="550.5" cy="81.5" r="1.86"/><circle cx="550.5" cy="79.5" r="1.86"/><circle cx="551.5" cy="81.5" r="1.86"/><circle cx="551.5" cy="69.5" r="1.86"/><circle cx="552.5" cy="74.5" r="1.86"/><circle cx="552.5" cy="72.5" r="1.86"/><circle cx="553.5" cy="82.5" r="1.86"/><circle cx="553.5" cy="69.5" r="1.86"/><circle cx="554.5" cy="81.5" r="1.86"/><circle cx="554.5" cy="79.5" r="1.86"/><circle cx="554.5" cy="75.5" r="1.86"/><circle cx="555.5" cy="80.5" r="1.86"/><circle cx="555.5" cy="73.5" r="1.86"/><circle cx="556.5" cy="74.5" r="1.86"/><circle cx="556.5" cy="69.5" r="1.86"/><circle cx="557.5" cy="73.5" r="1.86"/><circle cx="557.5" cy="71.5" r="1.86"/><circle cx="558.5" cy="72.5" r="1.86"/><circle cx="558.5" cy="83.5" r="1.86"/><circle cx="559.5" cy="72.5" r="1.86"/><circle cx="559.5" cy="79.5" r="1.86"/><circle cx="560.5" cy="78.5" r="1.86"/><circle cx="561.5" cy="72.5" r="1.86"/><circle cx="561.5" cy="73.5" r="1.86"/><circle cx="562.5" cy="76.5" r="1.86"/><circle cx="562.5" cy="81.5" r="1.86"/><circle cx="563.5" cy="79.5" r="1.86"/><circle cx="563.5" cy="80.5" r="1.86"/><circle cx="564.5" cy="75.5" r="1.86"/><circle cx="564.5" cy="74.5" r="1.86"/><circle cx="565.5" cy="75.5" r="1.86"/><circle cx="565.5" cy="77.5" r="1.86"/><circle cx="566.5" cy="78.5" r="1.86"/><circle cx="566.5" cy="74.5" r="1.86"/><circle cx="567.5" cy="73.5" r="1.86"/><circle cx="567.5" cy="87.5" r="1.86"/><circle cx="567.5" cy="72.5" r="1.86"/><circle cx="568.5" cy="75.5" r="1.86"/><circle cx="569.5" cy="81.5" r="1.86"/><circle cx="569.5" cy="74.5" r="1.86"/><circle cx="570.5" cy="78.5" r="1.86"/><circle cx="570.5" cy="81.5" r="1.86"/><circle cx="571.5" cy="81.5" r="1.86"/><circle cx="571.5" cy="77.5" r="1.86"/><circle cx="572.5" cy="80.5" r="1.86"/><circle cx="572.5" cy="78.5" r="1.86"/><circle cx="573.5" cy="82.5" r="1.86"/><circle cx="573.5" cy="70.5" r="1.86"/><circle cx="574.5" cy="79.5" r="1.86"/><circle cx="574.5" cy="78.5" r="1.86"/><circle cx="575.5" cy="81.5" r="1.86"/><circle cx="575.5" cy="82.5" r="1.86"/><circle cx="576.5" cy="77.5" r="1.86"/><circle cx="576.5" cy="75.5" r="1.86"/><circle cx="577.5" cy="76.5" r="1.86"/><circle cx="577.5" cy="82.5" r="1.86"/><circle cx="578.5" cy="73.5" r="1.86"/><circle cx="578.5" cy="83.5" r="1.86"/><circle cx="579.5" cy="77.5" r="1.86"/><circle cx="579.5" cy="72.5" r="1.86"/><circle cx="580.5" cy="74.5" r="1.86"/><circle cx="580.5" cy="72.5" r="1.86"/><circle cx="580.5" cy="75.5" r="1.86"/><circle cx="581.5" cy="78.5" r="1.86"/><circle cx="581.5" cy="74.5" r="1.86"/><circle cx="582.5" cy="72.5" r="1.86"/><circle cx="583.5" cy="75.5" r="1.86"/><circle cx="583.5" cy="73.5" r="1.86"/><circle cx="584.5" cy="72.5" r="1.86"/><circle cx="584.5" cy="71.5" r="1.86"/><circle cx="585.5" cy="72.5" r="1.86"/><circle cx="585.5" cy="75.5" r="1.86"/><circle cx="586.5" cy="72.5" r="1.86"/><circle cx="586.5" cy="78.5" r="1.86"/><circle cx="587.5" cy="73.5" r="1.86"/><circle cx="587.5" cy="76.5" r="1.86"/><circle cx="587.5" cy="72.5" r="1.86"/><circle cx="588.5" cy="71.5" r="1.86"/><circle cx="588.5" cy="73.5" r="1.86"/><circle cx="589.5" cy="73.5" r="1.86"/><circle cx="589.5" cy="71.5" r="1.86"/><circle cx="590.5" cy="72.5" r="1.86"/><circle cx="590.5" cy="69.5" r="1.86"/><circle cx="591.5" cy="67.5" r="1.86"/><circle cx="591.5" cy="76.5" r="1.86"/><circle cx="592.5" cy="73.5" r="1.86"/><circle cx="592.5" cy="71.5" r="1.86"/><circle cx="593.5" cy="73.5" r="1.86"/><circle cx="593.5" cy="69.5" r="1.86"/><circle cx="593.5" cy="76.5" r="1.86"/><circle cx="594.5" cy="76.5" r="1.86"/><circle cx="594.5" cy="69.5" r="1.86"/><circle cx="595.5" cy="71.5" r="1.86"/><circle cx="595.5" cy="69.5" r="1.86"/><circle cx="596.5" cy="79.5" r="1.86"/><circle cx="596.5" cy="80.5" r="1.86"/><circle cx="597.5" cy="87.5" r="1.86"/><circle cx="597.5" cy="81.5" r="1.86"/><circle cx="598.5" cy="76.5" r="1.86"/><circle cx="599.5" cy="80.5" r="1.86"/><circle cx="599.5" cy="83.5" r="1.86"/><circle cx="600.5" cy="82.5" r="1.86"/><circle cx="600.5" cy="84.5" r="1.86"/><circle cx="600.5" cy="85.5" r="1.86"/><circle cx="601.5" cy="81.5" r="1.86"/><circle cx="601.5" cy="79.5" r="1.86"/><circle cx="602.5" cy="85.5" r="1.86"/><circle cx="602.5" cy="81.5" r="1.86"/><circle cx="603.5" cy="87.5" r="1.86"/><circle cx="603.5" cy="89.5" r="1.86"/><circle cx="604.5" cy="78.5" r="1.86"/><circle cx="605.5" cy="81.5" r="1.86"/><circle cx="605.5" cy="85.5" r="1.86"/><circle cx="606.5" cy="80.5" r="1.86"/><circle cx="606.5" cy="84.5" r="1.86"/><circle cx="606.5" cy="78.5" r="1.86"/><circle cx="607.5" cy="85.5" r="1.86"/><circle cx="607.5" cy="81.5" r="1.86"/><circle cx="608.5" cy="83.5" r="1.86"/><circle cx="608.5" cy="87.5" r="1.86"/><circle cx="609.5" cy="79.5" r="1.86"/><circle cx="609.5" cy="87.5" r="1.86"/><circle cx="610.5" cy="88.5" r="1.86"/><circle cx="610.5" cy="85.5" r="1.86"/><circle cx="611.5" cy="78.5" r="1.86"/><circle cx="611.5" cy="83.5" r="1.86"/><circle cx="612.5" cy="88.5" r="1.86"/><circle cx="612.5" cy="83.5" r="1.86"/><circle cx="613.5" cy="78.5" r="1.86"/><circle cx="613.5" cy="81.5" r="1.86"/><circle cx="613.5" cy="87.5" r="1.86"/><circle cx="614.5" cy="80.5" r="1.86"/><circle cx="614.5" cy="82.5" r="1.86"/><circle cx="615.5" cy="81.5" r="1.86"/><circle cx="615.5" cy="78.5" r="1.86"/><circle cx="616.5" cy="84.5" r="1.86"/><circle cx="616.5" cy="83.5" r="1.86"/><circle cx="617.5" cy="76.5" r="1.86"/><circle cx="617.5" cy="86.5" r="1.86"/><circle cx="618.5" cy="75.5" r="1.86"/><circle cx="618.5" cy="84.5" r="1.86"/><circle cx="619.5" cy="72.5" r="1.86"/><circle cx="619.5" cy="74.5" r="1.86"/><circle cx="620.5" cy="69.5" r="1.86"/><circle cx="620.5" cy="72.5" r="1.86"/><circle cx="621.5" cy="70.5" r="1.86"/><circle cx="621.5" cy="71.5" r="1.86"/><circle cx="622.5" cy="77.5" r="1.86"/><circle cx="622.5" cy="80.5" r="1.86"/><circle cx="623.5" cy="80.5" r="1.86"/><circle cx="623.5" cy="69.5" r="1.86"/><circle cx="624.5" cy="81.5" r="1.86"/><circle cx="624.5" cy="78.5" r="1.86"/><circle cx="625.5" cy="80.5" r="1.86"/><circle cx="625.5" cy="79.5" r="1.86"/><circle cx="626.5" cy="76.5" r="1.86"/><circle cx="626.5" cy="79.5" r="1.86"/><circle cx="626.5" cy="75.5" r="1.86"/><circle cx="627.5" cy="74.5" r="1.86"/><circle cx="627.5" cy="73.5" r="1.86"/><circle cx="628.5" cy="76.5" r="1.86"/><circle cx="628.5" cy="72.5" r="1.86"/><circle cx="629.5" cy="73.5" r="1.86"/><circle cx="629.5" cy="82.5" r="1.86"/><circle cx="630.5" cy="79.5" r="1.86"/><circle cx="630.5" cy="77.5" r="1.86"/><circle cx="631.5" cy="79.5" r="1.86"/><circle cx="631.5" cy="82.5" r="1.86"/><circle cx="632.5" cy="81.5" r="1.86"/><circle cx="632.5" cy="82.5" r="1.86"/><circle cx="632.5" cy="78.5" r="1.86"/><circle cx="633.5" cy="87.5" r="1.86"/><circle cx="633.5" cy="78.5" r="1.86"/><circle cx="634.5" cy="80.5" r="1.86"/><circle cx="634.5" cy="84.5" r="1.86"/><circle cx="635.5" cy="79.5" r="1.86"/><circle cx="635.5" cy="75.5" r="1.86"/><circle cx="636.5" cy="82.5" r="1.86"/><circle cx="636.5" cy="77.5" r="1.86"/><circle cx="637.5" cy="81.5" r="1.86"/><circle cx="637.5" cy="69.5" r="1.86"/><circle cx="638.5" cy="71.5" r="1.86"/><circle cx="638.5" cy="76.5" r="1.86"/><circle cx="639.5" cy="74.5" r="1.86"/><circle cx="639.5" cy="69.5" r="1.86"/><circle cx="640.5" cy="75.5" r="1.86"/><circle cx="640.5" cy="73.5" r="1.86"/><circle cx="641.5" cy="75.5" r="1.86"/><circle cx="641.5" cy="71.5" r="1.86"/><circle cx="642.5" cy="80.5" r="1.86"/><circle cx="642.5" cy="71.5" r="1.86"/><circle cx="643.5" cy="75.5" r="1.86"/><circle cx="643.5" cy="71.5" r="1.86"/><circle cx="644.5" cy="74.5" r="1.86"/><circle cx="645.5" cy="76.5" r="1.86"/><circle cx="645.5" cy="74.5" r="1.86"/><circle cx="645.5" cy="73.5" r="1.86"/><circle cx="646.5" cy="71.5" r="1.86"/><circle cx="646.5" cy="73.5" r="1.86"/><circle cx="647.5" cy="72.5" r="1.86"/><circle cx="647.5" cy="73.5" r="1.86"/><circle cx="648.5" cy="75.5" r="1.86"/><circle cx="648.5" cy="78.5" r="1.86"/><circle cx="649.5" cy="79.5" r="1.86"/><circle cx="649.5" cy="73.5" r="1.86"/><circle cx="650.5" cy="78.5" r="1.86"/><circle cx="650.5" cy="82.5" r="1.86"/><circle cx="651.5" cy="74.5" r="1.86"/><circle cx="652.5" cy="75.5" r="1.86"/><circle cx="652.5" cy="77.5" r="1.86"/><circle cx="652.5" cy="79.5" r="1.86"/><circle cx="653.5" cy="77.5" r="1.86"/><circle cx="653.5" cy="79.5" r="1.86"/><circle cx="654.5" cy="77.5" r="1.86"/><circle cx="654.5" cy="73.5" r="1.86"/><circle cx="655.5" cy="80.5" r="1.86"/><circle cx="655.5" cy="66.5" r="1.86"/><circle cx="656.5" cy="71.5" r="1.86"/><circle cx="656.5" cy="78.5" r="1.86"/><circle cx="657.5" cy="72.5" r="1.86"/><circle cx="657.5" cy="75.5" r="1.86"/><circle cx="658.5" cy="69.5" r="1.86"/><circle cx="658.5" cy="70.5" r="1.86"/><circle cx="658.5" cy="79.5" r="1.86"/><circle cx="659.5" cy="71.5" r="1.86"/><circle cx="659.5" cy="69.5" r="1.86"/><circle cx="660.5" cy="79.5" r="1.86"/><circle cx="660.5" cy="80.5" r="1.86"/><circle cx="661.5" cy="71.5" r="1.86"/><circle cx="661.5" cy="69.5" r="1.86"/><circle cx="662.5" cy="73.5" r="1.86"/><circle cx="662.5" cy="75.5" r="1.86"/><circle cx="663.5" cy="73.5" r="1.86"/><circle cx="663.5" cy="77.5" r="1.86"/><circle cx="664.5" cy="75.5" r="1.86"/><circle cx="664.5" cy="76.5" r="1.86"/><circle cx="665.5" cy="72.5" r="1.86"/><circle cx="665.5" cy="78.5" r="1.86"/><circle cx="665.5" cy="74.5" r="1.86"/><circle cx="666.5" cy="78.5" r="1.86"/><circle cx="666.5" cy="69.5" r="1.86"/><circle cx="667.5" cy="78.5" r="1.86"/><circle cx="667.5" cy="71.5" r="1.86"/><circle cx="668.5" cy="75.5" r="1.86"/><circle cx="668.5" cy="77.5" r="1.86"/><circle cx="669.5" cy="74.5" r="1.86"/><circle cx="670.5" cy="74.5" r="1.86"/><circle cx="670.5" cy="73.5" r="1.86"/><circle cx="671.5" cy="76.5" r="1.86"/><circle cx="671.5" cy="71.5" r="1.86"/><circle cx="671.5" cy="78.5" r="1.86"/><circle cx="672.5" cy="75.5" r="1.86"/><circle cx="673.5" cy="73.5" r="1.86"/><circle cx="673.5" cy="71.5" r="1.86"/><circle cx="674.5" cy="70.5" r="1.86"/><circle cx="674.5" cy="69.5" r="1.86"/><circle cx="675.5" cy="74.5" r="1.86"/><circle cx="675.5" cy="64.5" r="1.86"/><circle cx="676.5" cy="78.5" r="1.86"/><circle cx="676.5" cy="71.5" r="1.86"/><circle cx="677.5" cy="79.5" r="1.86"/><circle cx="677.5" cy="65.5" r="1.86"/><circle cx="678.5" cy="77.5" r="1.86"/><circle cx="678.5" cy="72.5" r="1.86"/><circle cx="679.5" cy="64.5" r="1.86"/><circle cx="679.5" cy="69.5" r="1.86"/><circle cx="680.5" cy="66.5" r="1.86"/><circle cx="680.5" cy="76.5" r="1.86"/><circle cx="681.5" cy="76.5" r="1.86"/><circle cx="681.5" cy="75.5" r="1.86"/><circle cx="682.5" cy="70.5" r="1.86"/><circle cx="682.5" cy="73.5" r="1.86"/><circle cx="683.5" cy="71.5" r="1.86"/><circle cx="683.5" cy="74.5" r="1.86"/><circle cx="684.5" cy="75.5" r="1.86"/><circle cx="684.5" cy="72.5" r="1.86"/><circle cx="685.5" cy="75.5" r="1.86"/><circle cx="685.5" cy="68.5" r="1.86"/><circle cx="686.5" cy="71.5" r="1.86"/><circle cx="686.5" cy="69.5" r="1.86"/><circle cx="687.5" cy="66.5" r="1.86"/><circle cx="687.5" cy="69.5" r="1.86"/><circle cx="688.5" cy="74.5" r="1.86"/><circle cx="688.5" cy="70.5" r="1.86"/><circle cx="689.5" cy="76.5" r="1.86"/><circle cx="689.5" cy="67.5" r="1.86"/><circle cx="690.5" cy="73.5" r="1.86"/><circle cx="690.5" cy="72.5" r="1.86"/><circle cx="691.5" cy="77.5" r="1.86"/><circle cx="691.5" cy="72.5" r="1.86"/><circle cx="691.5" cy="73.5" r="1.86"/><circle cx="692.5" cy="72.5" r="1.86"/><circle cx="692.5" cy="77.5" r="1.86"/><circle cx="693.5" cy="77.5" r="1.86"/><circle cx="693.5" cy="74.5" r="1.86"/><circle cx="694.5" cy="78.5" r="1.86"/><circle cx="694.5" cy="79.5" r="1.86"/><circle cx="695.5" cy="78.5" r="1.86"/><circle cx="695.5" cy="77.5" r="1.86"/><circle cx="696.5" cy="79.5" r="1.86"/><circle cx="696.5" cy="73.5" r="1.86"/><circle cx="697.5" cy="77.5" r="1.86"/><circle cx="697.5" cy="78.5" r="1.86"/><circle cx="698.5" cy="75.5" r="1.86"/><circle cx="698.5" cy="80.5" r="1.86"/><circle cx="698.5" cy="79.5" r="1.86"/><circle cx="699.5" cy="78.5" r="1.86"/><circle cx="700.5" cy="74.5" r="1.86"/><circle cx="700.5" cy="79.5" r="1.86"/><circle cx="701.5" cy="73.5" r="1.86"/><circle cx="701.5" cy="69.5" r="1.86"/><circle cx="702.5" cy="74.5" r="1.86"/><circle cx="702.5" cy="73.5" r="1.86"/><circle cx="703.5" cy="74.5" r="1.86"/><circle cx="703.5" cy="72.5" r="1.86"/><circle cx="704.5" cy="77.5" r="1.86"/><circle cx="704.5" cy="78.5" r="1.86"/><circle cx="704.5" cy="72.5" r="1.86"/><circle cx="705.5" cy="77.5" r="1.86"/><circle cx="705.5" cy="74.5" r="1.86"/><circle cx="706.5" cy="74.5" r="1.86"/><circle cx="706.5" cy="71.5" r="1.86"/><circle cx="707.5" cy="74.5" r="1.86"/><circle cx="707.5" cy="73.5" r="1.86"/><circle cx="708.5" cy="73.5" r="1.86"/><circle cx="708.5" cy="72.5" r="1.86"/><circle cx="709.5" cy="73.5" r="1.86"/><circle cx="709.5" cy="77.5" r="1.86"/><circle cx="710.5" cy="77.5" r="1.86"/><circle cx="710.5" cy="69.5" r="1.86"/><circle cx="711.5" cy="78.5" r="1.86"/><circle cx="711.5" cy="77.5" r="1.86"/><circle cx="711.5" cy="69.5" r="1.86"/><circle cx="712.5" cy="71.5" r="1.86"/><circle cx="712.5" cy="67.5" r="1.86"/><circle cx="713.5" cy="78.5" r="1.86"/><circle cx="713.5" cy="72.5" r="1.86"/><circle cx="714.5" cy="79.5" r="1.86"/><circle cx="714.5" cy="69.5" r="1.86"/><circle cx="715.5" cy="80.5" r="1.86"/><circle cx="715.5" cy="68.5" r="1.86"/><circle cx="716.5" cy="79.5" r="1.86"/><circle cx="716.5" cy="74.5" r="1.86"/><circle cx="717.5" cy="75.5" r="1.86"/><circle cx="717.5" cy="76.5" r="1.86"/><circle cx="717.5" cy="78.5" r="1.86"/><circle cx="718.5" cy="79.5" r="1.86"/><circle cx="718.5" cy="82.5" r="1.86"/><circle cx="719.5" cy="73.5" r="1.86"/><circle cx="719.5" cy="75.5" r="1.86"/><circle cx="720.5" cy="73.5" r="1.86"/><circle cx="720.5" cy="79.5" r="1.86"/><circle cx="721.5" cy="79.5" r="1.86"/><circle cx="721.5" cy="84.5" r="1.86"/><circle cx="722.5" cy="80.5" r="1.86"/><circle cx="722.5" cy="83.5" r="1.86"/><circle cx="723.5" cy="82.5" r="1.86"/><circle cx="723.5" cy="78.5" r="1.86"/><circle cx="724.5" cy="75.5" r="1.86"/><circle cx="724.5" cy="79.5" r="1.86"/><circle cx="724.5" cy="80.5" r="1.86"/><circle cx="725.5" cy="82.5" r="1.86"/><circle cx="725.5" cy="70.5" r="1.86"/><circle cx="726.5" cy="78.5" r="1.86"/><circle cx="726.5" cy="79.5" r="1.86"/><circle cx="727.5" cy="71.5" r="1.86"/><circle cx="727.5" cy="73.5" r="1.86"/><circle cx="728.5" cy="73.5" r="1.86"/><circle cx="728.5" cy="83.5" r="1.86"/><circle cx="729.5" cy="80.5" r="1.86"/><circle cx="729.5" cy="81.5" r="1.86"/><circle cx="730.5" cy="78.5" r="1.86"/><circle cx="730.5" cy="74.5" r="1.86"/><circle cx="730.5" cy="84.5" r="1.86"/><circle cx="731.5" cy="74.5" r="1.86"/><circle cx="731.5" cy="83.5" r="1.86"/><circle cx="732.5" cy="74.5" r="1.86"/><circle cx="732.5" cy="82.5" r="1.86"/><circle cx="733.5" cy="75.5" r="1.86"/><circle cx="733.5" cy="83.5" r="1.86"/><circle cx="734.5" cy="78.5" r="1.86"/><circle cx="734.5" cy="80.5" r="1.86"/><circle cx="735.5" cy="84.5" r="1.86"/><circle cx="736.5" cy="78.5" r="1.86"/><circle cx="736.5" cy="82.5" r="1.86"/><circle cx="737.5" cy="80.5" r="1.86"/><circle cx="737.5" cy="82.5" r="1.86"/><circle cx="738.5" cy="81.5" r="1.86"/><circle cx="738.5" cy="79.5" r="1.86"/><circle cx="739.5" cy="75.5" r="1.86"/><circle cx="739.5" cy="77.5" r="1.86"/><circle cx="740.5" cy="81.5" r="1.86"/><circle cx="740.5" cy="82.5" r="1.86"/><circle cx="741.5" cy="85.5" r="1.86"/><circle cx="741.5" cy="80.5" r="1.86"/><circle cx="742.5" cy="80.5" r="1.86"/><circle cx="742.5" cy="79.5" r="1.86"/><circle cx="743.5" cy="79.5" r="1.86"/><circle cx="743.5" cy="80.5" r="1.86"/><circle cx="744.5" cy="80.5" r="1.86"/><circle cx="744.5" cy="81.5" r="1.86"/><circle cx="745.5" cy="80.5" r="1.86"/><circle cx="745.5" cy="88.5" r="1.86"/><circle cx="746.5" cy="83.5" r="1.86"/><circle cx="746.5" cy="86.5" r="1.86"/><circle cx="747.5" cy="85.5" r="1.86"/><circle cx="748.5" cy="81.5" r="1.86"/><circle cx="748.5" cy="87.5" r="1.86"/><circle cx="749.5" cy="80.5" r="1.86"/><circle cx="749.5" cy="83.5" r="1.86"/><circle cx="750.5" cy="83.5" r="1.86"/><circle cx="750.5" cy="80.5" r="1.86"/><circle cx="750.5" cy="85.5" r="1.86"/><circle cx="751.5" cy="89.5" r="1.86"/><circle cx="751.5" cy="86.5" r="1.86"/><circle cx="752.5" cy="82.5" r="1.86"/><circle cx="752.5" cy="88.5" r="1.86"/><circle cx="753.5" cy="80.5" r="1.86"/><circle cx="753.5" cy="87.5" r="1.86"/><circle cx="754.5" cy="87.5" r="1.86"/><circle cx="754.5" cy="82.5" r="1.86"/><circle cx="755.5" cy="85.5" r="1.86"/><circle cx="755.5" cy="82.5" r="1.86"/><circle cx="756.5" cy="83.5" r="1.86"/><circle cx="756.5" cy="80.5" r="1.86"/><circle cx="756.5" cy="85.5" r="1.86"/><circle cx="757.5" cy="80.5" r="1.86"/><circle cx="757.5" cy="86.5" r="1.86"/><circle cx="758.5" cy="78.5" r="1.86"/><circle cx="758.5" cy="85.5" r="1.86"/><circle cx="759.5" cy="79.5" r="1.86"/><circle cx="759.5" cy="83.5" r="1.86"/><circle cx="760.5" cy="79.5" r="1.86"/><circle cx="761.5" cy="82.5" r="1.86"/><circle cx="761.5" cy="85.5" r="1.86"/><circle cx="762.5" cy="80.5" r="1.86"/><circle cx="762.5" cy="83.5" r="1.86"/><circle cx="763.5" cy="76.5" r="1.86"/><circle cx="763.5" cy="74.5" r="1.86"/><circle cx="763.5" cy="75.5" r="1.86"/><circle cx="764.5" cy="73.5" r="1.86"/><circle cx="764.5" cy="71.5" r="1.86"/><circle cx="765.5" cy="81.5" r="1.86"/><circle cx="765.5" cy="77.5" r="1.86"/><circle cx="766.5" cy="81.5" r="1.86"/><circle cx="766.5" cy="78.5" r="1.86"/><circle cx="767.5" cy="77.5" r="1.86"/><circle cx="767.5" cy="71.5" r="1.86"/><circle cx="768.5" cy="76.5" r="1.86"/><circle cx="768.5" cy="75.5" r="1.86"/><circle cx="769.5" cy="78.5" r="1.86"/><circle cx="769.5" cy="80.5" r="1.86"/><circle cx="769.5" cy="75.5" r="1.86"/><circle cx="770.5" cy="78.5" r="1.86"/><circle cx="770.5" cy="71.5" r="1.86"/><circle cx="771.5" cy="72.5" r="1.86"/><circle cx="771.5" cy="70.5" r="1.86"/><circle cx="772.5" cy="75.5" r="1.86"/><circle cx="772.5" cy="77.5" r="1.86"/><circle cx="773.5" cy="80.5" r="1.86"/><circle cx="773.5" cy="79.5" r="1.86"/><circle cx="774.5" cy="81.5" r="1.86"/><circle cx="774.5" cy="78.5" r="1.86"/><circle cx="775.5" cy="82.5" r="1.86"/><circle cx="775.5" cy="69.5" r="1.86"/><circle cx="776.5" cy="80.5" r="1.86"/><circle cx="776.5" cy="71.5" r="1.86"/><circle cx="777.5" cy="84.5" r="1.86"/><circle cx="777.5" cy="78.5" r="1.86"/><circle cx="778.5" cy="78.5" r="1.86"/><circle cx="778.5" cy="72.5" r="1.86"/><circle cx="779.5" cy="74.5" r="1.86"/><circle cx="779.5" cy="76.5" r="1.86"/><circle cx="780.5" cy="74.5" r="1.86"/><circle cx="781.5" cy="80.5" r="1.86"/><circle cx="781.5" cy="74.5" r="1.86"/><circle cx="782.5" cy="74.5" r="1.86"/><circle cx="782.5" cy="72.5" r="1.86"/><circle cx="783.5" cy="72.5" r="1.86"/><circle cx="783.5" cy="81.5" r="1.86"/><circle cx="784.5" cy="81.5" r="1.86"/><circle cx="784.5" cy="77.5" r="1.86"/><circle cx="785.5" cy="74.5" r="1.86"/><circle cx="785.5" cy="73.5" r="1.86"/><circle cx="786.5" cy="73.5" r="1.86"/><circle cx="786.5" cy="78.5" r="1.86"/><circle cx="787.5" cy="72.5" r="1.86"/><circle cx="787.5" cy="77.5" r="1.86"/><circle cx="788.5" cy="80.5" r="1.86"/><circle cx="788.5" cy="72.5" r="1.86"/><circle cx="789.5" cy="80.5" r="1.86"/><circle cx="789.5" cy="84.5" r="1.86"/><circle cx="789.5" cy="85.5" r="1.86"/><circle cx="790.5" cy="84.5" r="1.86"/><circle cx="790.5" cy="86.5" r="1.86"/><circle cx="791.5" cy="75.5" r="1.86"/><circle cx="791.5" cy="79.5" r="1.86"/><circle cx="792.5" cy="75.5" r="1.86"/><circle cx="792.5" cy="83.5" r="1.86"/><circle cx="793.5" cy="71.5" r="1.86"/><circle cx="793.5" cy="72.5" r="1.86"/><circle cx="794.5" cy="75.5" r="1.86"/><circle cx="794.5" cy="79.5" r="1.86"/><circle cx="795.5" cy="79.5" r="1.86"/><circle cx="795.5" cy="72.5" r="1.86"/><circle cx="795.5" cy="77.5" r="1.86"/><circle cx="796.5" cy="73.5" r="1.86"/><circle cx="796.5" cy="83.5" r="1.86"/><circle cx="797.5" cy="80.5" r="1.86"/><circle cx="797.5" cy="74.5" r="1.86"/><circle cx="798.5" cy="81.5" r="1.86"/><circle cx="798.5" cy="82.5" r="1.86"/><circle cx="799.5" cy="73.5" r="1.86"/><circle cx="799.5" cy="79.5" r="1.86"/><circle cx="800.5" cy="75.5" r="1.86"/><circle cx="800.5" cy="74.5" r="1.86"/><circle cx="801.5" cy="72.5" r="1.86"/><circle cx="801.5" cy="71.5" r="1.86"/><circle cx="802.5" cy="79.5" r="1.86"/><circle cx="802.5" cy="76.5" r="1.86"/><circle cx="802.5" cy="82.5" r="1.86"/><circle cx="803.5" cy="72.5" r="1.86"/><circle cx="804.5" cy="75.5" r="1.86"/><circle cx="804.5" cy="73.5" r="1.86"/><circle cx="805.5" cy="79.5" r="1.86"/><circle cx="805.5" cy="80.5" r="1.86"/><circle cx="806.5" cy="80.5" r="1.86"/><circle cx="806.5" cy="74.5" r="1.86"/><circle cx="807.5" cy="81.5" r="1.86"/><circle cx="807.5" cy="80.5" r="1.86"/><circle cx="808.5" cy="79.5" r="1.86"/><circle cx="808.5" cy="80.5" r="1.86"/><circle cx="809.5" cy="72.5" r="1.86"/><circle cx="809.5" cy="78.5" r="1.86"/><circle cx="810.5" cy="76.5" r="1.86"/><circle cx="810.5" cy="80.5" r="1.86"/><circle cx="811.5" cy="78.5" r="1.86"/><circle cx="811.5" cy="67.5" r="1.86"/><circle cx="812.5" cy="75.5" r="1.86"/><circle cx="812.5" cy="69.5" r="1.86"/><circle cx="813.5" cy="72.5" r="1.86"/><circle cx="813.5" cy="75.5" r="1.86"/><circle cx="814.5" cy="76.5" r="1.86"/><circle cx="814.5" cy="73.5" r="1.86"/><circle cx="815.5" cy="74.5" r="1.86"/><circle cx="815.5" cy="72.5" r="1.86"/><circle cx="816.5" cy="71.5" r="1.86"/><circle cx="816.5" cy="78.5" r="1.86"/><circle cx="817.5" cy="81.5" r="1.86"/><circle cx="817.5" cy="80.5" r="1.86"/><circle cx="818.5" cy="72.5" r="1.86"/><circle cx="818.5" cy="75.5" r="1.86"/><circle cx="819.5" cy="74.5" r="1.86"/><circle cx="819.5" cy="71.5" r="1.86"/><circle cx="820.5" cy="74.5" r="1.86"/><circle cx="821.5" cy="71.5" r="1.86"/><circle cx="821.5" cy="75.5" r="1.86"/><circle cx="821.5" cy="73.5" r="1.86"/><circle cx="822.5" cy="78.5" r="1.86"/><circle cx="822.5" cy="74.5" r="1.86"/><circle cx="823.5" cy="71.5" r="1.86"/><circle cx="823.5" cy="75.5" r="1.86"/><circle cx="824.5" cy="72.5" r="1.86"/><circle cx="824.5" cy="77.5" r="1.86"/><circle cx="825.5" cy="82.5" r="1.86"/><circle cx="825.5" cy="75.5" r="1.86"/><circle cx="826.5" cy="78.5" r="1.86"/><circle cx="826.5" cy="73.5" r="1.86"/><circle cx="827.5" cy="73.5" r="1.86"/><circle cx="827.5" cy="84.5" r="1.86"/><circle cx="828.5" cy="74.5" r="1.86"/><circle cx="828.5" cy="78.5" r="1.86"/><circle cx="829.5" cy="78.5" r="1.86"/><circle cx="829.5" cy="75.5" r="1.86"/><circle cx="830.5" cy="80.5" r="1.86"/><circle cx="830.5" cy="78.5" r="1.86"/><circle cx="831.5" cy="79.5" r="1.86"/><circle cx="831.5" cy="80.5" r="1.86"/><circle cx="832.5" cy="77.5" r="1.86"/><circle cx="832.5" cy="78.5" r="1.86"/><circle cx="833.5" cy="76.5" r="1.86"/><circle cx="833.5" cy="74.5" r="1.86"/><circle cx="834.5" cy="72.5" r="1.86"/><circle cx="834.5" cy="74.5" r="1.86"/><circle cx="834.5" cy="73.5" r="1.86"/><circle cx="835.5" cy="71.5" r="1.86"/><circle cx="835.5" cy="74.5" r="1.86"/><circle cx="836.5" cy="73.5" r="1.86"/><circle cx="836.5" cy="74.5" r="1.86"/><circle cx="837.5" cy="72.5" r="1.86"/><circle cx="838.5" cy="71.5" r="1.86"/><circle cx="839.5" cy="66.5" r="1.86"/><circle cx="839.5" cy="69.5" r="1.86"/><circle cx="840.5" cy="67.5" r="1.86"/><circle cx="841.5" cy="68.5" r="1.86"/><circle cx="841.5" cy="69.5" r="1.86"/><circle cx="842.5" cy="70.5" r="1.86"/><circle cx="842.5" cy="64.5" r="1.86"/><circle cx="843.5" cy="68.5" r="1.86"/><circle cx="843.5" cy="65.5" r="1.86"/><circle cx="844.5" cy="74.5" r="1.86"/><circle cx="844.5" cy="69.5" r="1.86"/><circle cx="845.5" cy="73.5" r="1.86"/><circle cx="845.5" cy="69.5" r="1.86"/><circle cx="846.5" cy="70.5" r="1.86"/><circle cx="846.5" cy="73.5" r="1.86"/><circle cx="847.5" cy="73.5" r="1.86"/><circle cx="847.5" cy="69.5" r="1.86"/><circle cx="847.5" cy="83.5" r="1.86"/><circle cx="848.5" cy="77.5" r="1.86"/><circle cx="848.5" cy="73.5" r="1.86"/><circle cx="849.5" cy="75.5" r="1.86"/><circle cx="849.5" cy="73.5" r="1.86"/><circle cx="850.5" cy="73.5" r="1.86"/><circle cx="851.5" cy="74.5" r="1.86"/><circle cx="851.5" cy="76.5" r="1.86"/><circle cx="852.5" cy="72.5" r="1.86"/><circle cx="852.5" cy="71.5" r="1.86"/><circle cx="853.5" cy="78.5" r="1.86"/><circle cx="854.5" cy="74.5" r="1.86"/><circle cx="854.5" cy="80.5" r="1.86"/><circle cx="854.5" cy="82.5" r="1.86"/><circle cx="855.5" cy="72.5" r="1.86"/><circle cx="855.5" cy="76.5" r="1.86"/><circle cx="856.5" cy="78.5" r="1.86"/><circle cx="856.5" cy="75.5" r="1.86"/><circle cx="857.5" cy="75.5" r="1.86"/><circle cx="857.5" cy="70.5" r="1.86"/><circle cx="858.5" cy="74.5" r="1.86"/><circle cx="858.5" cy="67.5" r="1.86"/><circle cx="859.5" cy="74.5" r="1.86"/><circle cx="860.5" cy="73.5" r="1.86"/><circle cx="860.5" cy="69.5" r="1.86"/><circle cx="860.5" cy="74.5" r="1.86"/><circle cx="861.5" cy="73.5" r="1.86"/><circle cx="861.5" cy="72.5" r="1.86"/><circle cx="862.5" cy="74.5" r="1.86"/><circle cx="862.5" cy="73.5" r="1.86"/><circle cx="863.5" cy="75.5" r="1.86"/><circle cx="863.5" cy="64.5" r="1.86"/><circle cx="864.5" cy="73.5" r="1.86"/><circle cx="864.5" cy="69.5" r="1.86"/><circle cx="865.5" cy="73.5" r="1.86"/><circle cx="865.5" cy="69.5" r="1.86"/><circle cx="866.5" cy="71.5" r="1.86"/><circle cx="866.5" cy="68.5" r="1.86"/><circle cx="867.5" cy="70.5" r="1.86"/><circle cx="867.5" cy="72.5" r="1.86"/><circle cx="867.5" cy="71.5" r="1.86"/><circle cx="868.5" cy="65.5" r="1.86"/><circle cx="868.5" cy="70.5" r="1.86"/><circle cx="869.5" cy="69.5" r="1.86"/><circle cx="870.5" cy="75.5" r="1.86"/><circle cx="870.5" cy="74.5" r="1.86"/><circle cx="871.5" cy="75.5" r="1.86"/><circle cx="871.5" cy="72.5" r="1.86"/><circle cx="872.5" cy="73.5" r="1.86"/><circle cx="872.5" cy="72.5" r="1.86"/><circle cx="873.5" cy="73.5" r="1.86"/><circle cx="873.5" cy="82.5" r="1.86"/><circle cx="873.5" cy="72.5" r="1.86"/><circle cx="874.5" cy="72.5" r="1.86"/><circle cx="874.5" cy="74.5" r="1.86"/><circle cx="875.5" cy="72.5" r="1.86"/><circle cx="875.5" cy="68.5" r="1.86"/><circle cx="876.5" cy="80.5" r="1.86"/><circle cx="876.5" cy="75.5" r="1.86"/><circle cx="877.5" cy="73.5" r="1.86"/><circle cx="877.5" cy="83.5" r="1.86"/><circle cx="878.5" cy="72.5" r="1.86"/><circle cx="878.5" cy="71.5" r="1.86"/><circle cx="879.5" cy="75.5" r="1.86"/><circle cx="879.5" cy="78.5" r="1.86"/><circle cx="880.5" cy="80.5" r="1.86"/><circle cx="880.5" cy="81.5" r="1.86"/><circle cx="880.5" cy="69.5" r="1.86"/><circle cx="881.5" cy="80.5" r="1.86"/><circle cx="881.5" cy="70.5" r="1.86"/><circle cx="882.5" cy="80.5" r="1.86"/><circle cx="882.5" cy="69.5" r="1.86"/><circle cx="883.5" cy="75.5" r="1.86"/><circle cx="883.5" cy="72.5" r="1.86"/><circle cx="884.5" cy="73.5" r="1.86"/><circle cx="884.5" cy="72.5" r="1.86"/><circle cx="885.5" cy="73.5" r="1.86"/><circle cx="886.5" cy="71.5" r="1.86"/><circle cx="886.5" cy="77.5" r="1.86"/><circle cx="886.5" cy="81.5" r="1.86"/><circle cx="887.5" cy="81.5" r="1.86"/><circle cx="887.5" cy="69.5" r="1.86"/><circle cx="888.5" cy="79.5" r="1.86"/><circle cx="889.5" cy="76.5" r="1.86"/><circle cx="889.5" cy="78.5" r="1.86"/><circle cx="890.5" cy="80.5" r="1.86"/><circle cx="890.5" cy="70.5" r="1.86"/><circle cx="891.5" cy="79.5" r="1.86"/><circle cx="892.5" cy="77.5" r="1.86"/><circle cx="892.5" cy="73.5" r="1.86"/><circle cx="893.5" cy="71.5" r="1.86"/><circle cx="893.5" cy="74.5" r="1.86"/><circle cx="893.5" cy="73.5" r="1.86"/><circle cx="894.5" cy="75.5" r="1.86"/><circle cx="894.5" cy="79.5" r="1.86"/><circle cx="895.5" cy="73.5" r="1.86"/><circle cx="895.5" cy="70.5" r="1.86"/><circle cx="896.5" cy="75.5" r="1.86"/><circle cx="896.5" cy="77.5" r="1.86"/><circle cx="897.5" cy="79.5" r="1.86"/><circle cx="897.5" cy="71.5" r="1.86"/><circle cx="898.5" cy="80.5" r="1.86"/><circle cx="898.5" cy="75.5" r="1.86"/><circle cx="899.5" cy="69.5" r="1.86"/><circle cx="899.5" cy="82.5" r="1.86"/><circle cx="899.5" cy="73.5" r="1.86"/><circle cx="900.5" cy="69.5" r="1.86"/><circle cx="900.5" cy="75.5" r="1.86"/><circle cx="901.5" cy="71.5" r="1.86"/><circle cx="901.5" cy="69.5" r="1.86"/><circle cx="902.5" cy="73.5" r="1.86"/><circle cx="902.5" cy="72.5" r="1.86"/><circle cx="903.5" cy="72.5" r="1.86"/><circle cx="903.5" cy="71.5" r="1.86"/><circle cx="904.5" cy="73.5" r="1.86"/><circle cx="904.5" cy="74.5" r="1.86"/><circle cx="905.5" cy="73.5" r="1.86"/><circle cx="905.5" cy="77.5" r="1.86"/><circle cx="906.5" cy="77.5" r="1.86"/><circle cx="906.5" cy="72.5" r="1.86"/><circle cx="906.5" cy="83.5" r="1.86"/><circle cx="907.5" cy="79.5" r="1.86"/><circle cx="907.5" cy="77.5" r="1.86"/><circle cx="908.5" cy="77.5" r="1.86"/><circle cx="908.5" cy="75.5" r="1.86"/><circle cx="909.5" cy="76.5" r="1.86"/><circle cx="909.5" cy="73.5" r="1.86"/><circle cx="910.5" cy="76.5" r="1.86"/><circle cx="910.5" cy="82.5" r="1.86"/><circle cx="911.5" cy="78.5" r="1.86"/><circle cx="911.5" cy="77.5" r="1.86"/><circle cx="912.5" cy="81.5" r="1.86"/><circle cx="912.5" cy="76.5" r="1.86"/><circle cx="913.5" cy="81.5" r="1.86"/><circle cx="913.5" cy="82.5" r="1.86"/><circle cx="914.5" cy="80.5" r="1.86"/><circle cx="914.5" cy="79.5" r="1.86"/><circle cx="915.5" cy="79.5" r="1.86"/><circle cx="915.5" cy="82.5" r="1.86"/><circle cx="916.5" cy="76.5" r="1.86"/><circle cx="916.5" cy="80.5" r="1.86"/><circle cx="917.5" cy="77.5" r="1.86"/><circle cx="917.5" cy="83.5" r="1.86"/><circle cx="918.5" cy="80.5" r="1.86"/><circle cx="918.5" cy="79.5" r="1.86"/><circle cx="919.5" cy="77.5" r="1.86"/><circle cx="919.5" cy="84.5" r="1.86"/><circle cx="919.5" cy="82.5" r="1.86"/><circle cx="920.5" cy="79.5" r="1.86"/><circle cx="920.5" cy="85.5" r="1.86"/><circle cx="921.5" cy="85.5" r="1.86"/><circle cx="921.5" cy="82.5" r="1.86"/><circle cx="922.5" cy="81.5" r="1.86"/><circle cx="923.5" cy="81.5" r="1.86"/><circle cx="923.5" cy="80.5" r="1.86"/><circle cx="924.5" cy="86.5" r="1.86"/><circle cx="924.5" cy="80.5" r="1.86"/><circle cx="925.5" cy="82.5" r="1.86"/><circle cx="925.5" cy="81.5" r="1.86"/><circle cx="925.5" cy="80.5" r="1.86"/><circle cx="926.5" cy="81.5" r="1.86"/><circle cx="926.5" cy="84.5" r="1.86"/><circle cx="927.5" cy="82.5" r="1.86"/><circle cx="927.5" cy="85.5" r="1.86"/><circle cx="928.5" cy="80.5" r="1.86"/><circle cx="929.5" cy="81.5" r="1.86"/><circle cx="929.5" cy="83.5" r="1.86"/><circle cx="930.5" cy="78.5" r="1.86"/><circle cx="930.5" cy="84.5" r="1.86"/><circle cx="931.5" cy="86.5" r="1.86"/><circle cx="931.5" cy="79.5" r="1.86"/><circle cx="932.5" cy="79.5" r="1.86"/><circle cx="932.5" cy="80.5" r="1.86"/><circle cx="932.5" cy="78.5" r="1.86"/><circle cx="933.5" cy="80.5" r="1.86"/><circle cx="933.5" cy="78.5" r="1.86"/><circle cx="934.5" cy="80.5" r="1.86"/><circle cx="935.5" cy="74.5" r="1.86"/><circle cx="935.5" cy="76.5" r="1.86"/><circle cx="936.5" cy="75.5" r="1.86"/><circle cx="936.5" cy="81.5" r="1.86"/><circle cx="937.5" cy="78.5" r="1.86"/><circle cx="937.5" cy="79.5" r="1.86"/><circle cx="938.5" cy="79.5" r="1.86"/><circle cx="938.5" cy="76.5" r="1.86"/><circle cx="938.5" cy="77.5" r="1.86"/><circle cx="939.5" cy="76.5" r="1.86"/><circle cx="939.5" cy="79.5" r="1.86"/><circle cx="940.5" cy="79.5" r="1.86"/><circle cx="940.5" cy="76.5" r="1.86"/><circle cx="941.5" cy="79.5" r="1.86"/><circle cx="941.5" cy="82.5" r="1.86"/><circle cx="942.5" cy="76.5" r="1.86"/><circle cx="942.5" cy="77.5" r="1.86"/><circle cx="943.5" cy="73.5" r="1.86"/><circle cx="943.5" cy="75.5" r="1.86"/><circle cx="944.5" cy="77.5" r="1.86"/><circle cx="944.5" cy="81.5" r="1.86"/><circle cx="945.5" cy="79.5" r="1.86"/><circle cx="945.5" cy="83.5" r="1.86"/><circle cx="945.5" cy="82.5" r="1.86"/><circle cx="946.5" cy="81.5" r="1.86"/><circle cx="946.5" cy="78.5" r="1.86"/><circle cx="947.5" cy="81.5" r="1.86"/><circle cx="947.5" cy="83.5" r="1.86"/><circle cx="948.5" cy="80.5" r="1.86"/><circle cx="948.5" cy="82.5" r="1.86"/><circle cx="949.5" cy="86.5" r="1.86"/><circle cx="949.5" cy="74.5" r="1.86"/><circle cx="950.5" cy="79.5" r="1.86"/><circle cx="950.5" cy="81.5" r="1.86"/><circle cx="951.5" cy="75.5" r="1.86"/><circle cx="951.5" cy="79.5" r="1.86"/><circle cx="951.5" cy="76.5" r="1.86"/><circle cx="952.5" cy="78.5" r="1.86"/><circle cx="952.5" cy="77.5" r="1.86"/><circle cx="953.5" cy="82.5" r="1.86"/><circle cx="953.5" cy="77.5" r="1.86"/><circle cx="954.5" cy="78.5" r="1.86"/><circle cx="954.5" cy="83.5" r="1.86"/><circle cx="955.5" cy="76.5" r="1.86"/><circle cx="955.5" cy="74.5" r="1.86"/><circle cx="956.5" cy="78.5" r="1.86"/><circle cx="956.5" cy="85.5" r="1.86"/><circle cx="957.5" cy="77.5" r="1.86"/><circle cx="957.5" cy="81.5" r="1.86"/><circle cx="958.5" cy="84.5" r="1.86"/><circle cx="958.5" cy="79.5" r="1.86"/><circle cx="958.5" cy="78.5" r="1.86"/><circle cx="959.5" cy="79.5" r="1.86"/><circle cx="959.5" cy="84.5" r="1.86"/><circle cx="960.5" cy="86.5" r="1.86"/><circle cx="960.5" cy="85.5" r="1.86"/><circle cx="961.5" cy="79.5" r="1.86"/><circle cx="961.5" cy="82.5" r="1.86"/><circle cx="962.5" cy="79.5" r="1.86"/><circle cx="962.5" cy="85.5" r="1.86"/><circle cx="963.5" cy="76.5" r="1.86"/><circle cx="963.5" cy="75.5" r="1.86"/><circle cx="964.5" cy="80.5" r="1.86"/><circle cx="964.5" cy="79.5" r="1.86"/><circle cx="965.5" cy="73.5" r="1.86"/><circle cx="965.5" cy="74.5" r="1.86"/><circle cx="966.5" cy="72.5" r="1.86"/><circle cx="967.5" cy="73.5" r="1.86"/><circle cx="967.5" cy="79.5" r="1.86"/><circle cx="968.5" cy="79.5" r="1.86"/><circle cx="968.5" cy="68.5" r="1.86"/><circle cx="969.5" cy="71.5" r="1.86"/><circle cx="969.5" cy="69.5" r="1.86"/><circle cx="970.5" cy="74.5" r="1.86"/><circle cx="970.5" cy="73.5" r="1.86"/><circle cx="971.5" cy="74.5" r="1.86"/><circle cx="971.5" cy="72.5" r="1.86"/><circle cx="971.5" cy="73.5" r="1.86"/><circle cx="972.5" cy="74.5" r="1.86"/><circle cx="973.5" cy="73.5" r="1.86"/><circle cx="973.5" cy="71.5" r="1.86"/><circle cx="974.5" cy="80.5" r="1.86"/><circle cx="974.5" cy="78.5" r="1.86"/><circle cx="975.5" cy="79.5" r="1.86"/><circle cx="975.5" cy="76.5" r="1.86"/><circle cx="976.5" cy="78.5" r="1.86"/><circle cx="976.5" cy="79.5" r="1.86"/><circle cx="977.5" cy="81.5" r="1.86"/><circle cx="977.5" cy="73.5" r="1.86"/><circle cx="977.5" cy="80.5" r="1.86"/><circle cx="978.5" cy="73.5" r="1.86"/><circle cx="978.5" cy="77.5" r="1.86"/><circle cx="979.5" cy="73.5" r="1.86"/><circle cx="979.5" cy="82.5" r="1.86"/><circle cx="980.5" cy="74.5" r="1.86"/><circle cx="980.5" cy="72.5" r="1.86"/><circle cx="981.5" cy="75.5" r="1.86"/><circle cx="981.5" cy="82.5" r="1.86"/><circle cx="982.5" cy="75.5" r="1.86"/><circle cx="983.5" cy="76.5" r="1.86"/><circle cx="983.5" cy="80.5" r="1.86"/><circle cx="984.5" cy="77.5" r="1.86"/><circle cx="984.5" cy="80.5" r="1.86"/><circle cx="985.5" cy="78.5" r="1.86"/><circle cx="985.5" cy="71.5" r="1.86"/><circle cx="986.5" cy="81.5" r="1.86"/><circle cx="986.5" cy="70.5" r="1.86"/><circle cx="987.5" cy="81.5" r="1.86"/><circle cx="987.5" cy="71.5" r="1.86"/><circle cx="988.5" cy="74.5" r="1.86"/><circle cx="989.5" cy="75.5" r="1.86"/><circle cx="989.5" cy="77.5" r="1.86"/><circle cx="990.5" cy="75.5" r="1.86"/><circle cx="990.5" cy="69.5" r="1.86"/><circle cx="990.5" cy="81.5" r="1.86"/><circle cx="991.5" cy="73.5" r="1.86"/><circle cx="991.5" cy="68.5" r="1.86"/><circle cx="992.5" cy="72.5" r="1.86"/><circle cx="992.5" cy="78.5" r="1.86"/><circle cx="993.5" cy="75.5" r="1.86"/><circle cx="993.5" cy="68.5" r="1.86"/><circle cx="994.5" cy="78.5" r="1.86"/><circle cx="994.5" cy="74.5" r="1.86"/><circle cx="995.5" cy="72.5" r="1.86"/><circle cx="995.5" cy="71.5" r="1.86"/><circle cx="996.5" cy="72.5" r="1.86"/><circle cx="997.5" cy="74.5" r="1.86"/><circle cx="997.5" cy="73.5" r="1.86"/><circle cx="998.5" cy="73.5" r="1.86"/><circle cx="998.5" cy="71.5" r="1.86"/><circle cx="999.5" cy="75.5" r="1.86"/><circle cx="999.5" cy="71.5" r="1.86"/><circle cx="1000.5" cy="73.5" r="1.86"/><circle cx="1000.5" cy="71.5" r="1.86"/><circle cx="1001.5" cy="73.5" r="1.86"/><circle cx="1001.5" cy="72.5" r="1.86"/><circle cx="1002.5" cy="72.5" r="1.86"/><circle cx="1002.5" cy="74.5" r="1.86"/><circle cx="1003.5" cy="74.5" r="1.86"/><circle cx="1003.5" cy="73.5" r="1.86"/><circle cx="1003.5" cy="72.5" r="1.86"/><circle cx="1004.5" cy="74.5" r="1.86"/><circle cx="1004.5" cy="68.5" r="1.86"/><circle cx="1005.5" cy="79.5" r="1.86"/><circle cx="1005.5" cy="78.5" r="1.86"/><circle cx="1006.5" cy="75.5" r="1.86"/><circle cx="1006.5" cy="76.5" r="1.86"/><circle cx="1007.5" cy="80.5" r="1.86"/><circle cx="1007.5" cy="78.5" r="1.86"/><circle cx="1008.5" cy="81.5" r="1.86"/><circle cx="1008.5" cy="72.5" r="1.86"/><circle cx="1009.5" cy="73.5" r="1.86"/><circle cx="1010.5" cy="74.5" r="1.86"/><circle cx="1010.5" cy="73.5" r="1.86"/><circle cx="1010.5" cy="83.5" r="1.86"/><circle cx="1011.5" cy="76.5" r="1.86"/><circle cx="1011.5" cy="85.5" r="1.86"/><circle cx="1012.5" cy="73.5" r="1.86"/><circle cx="1012.5" cy="81.5" r="1.86"/><circle cx="1013.5" cy="83.5" r="1.86"/><circle cx="1013.5" cy="81.5" r="1.86"/><circle cx="1014.5" cy="81.5" r="1.86"/><circle cx="1014.5" cy="80.5" r="1.86"/><circle cx="1015.5" cy="76.5" r="1.86"/><circle cx="1015.5" cy="75.5" r="1.86"/><circle cx="1016.5" cy="79.5" r="1.86"/><circle cx="1016.5" cy="73.5" r="1.86"/><circle cx="1017.5" cy="75.5" r="1.86"/><circle cx="1017.5" cy="71.5" r="1.86"/><circle cx="1018.5" cy="80.5" r="1.86"/><circle cx="1018.5" cy="71.5" r="1.86"/><circle cx="1019.5" cy="80.5" r="1.86"/><circle cx="1019.5" cy="81.5" r="1.86"/><circle cx="1020.5" cy="79.5" r="1.86"/><circle cx="1020.5" cy="72.5" r="1.86"/><circle cx="1021.5" cy="76.5" r="1.86"/><circle cx="1021.5" cy="74.5" r="1.86"/><circle cx="1022.5" cy="80.5" r="1.86"/><circle cx="1022.5" cy="71.5" r="1.86"/><circle cx="1023.5" cy="78.5" r="1.86"/><circle cx="1023.5" cy="75.5" r="1.86"/><circle cx="1023.5" cy="73.5" r="1.86"/><circle cx="1024.5" cy="66.5" r="1.86"/><circle cx="1024.5" cy="70.5" r="1.86"/><circle cx="1025.5" cy="72.5" r="1.86"/><circle cx="1026.5" cy="79.5" r="1.86"/><circle cx="1026.5" cy="78.5" r="1.86"/><circle cx="1027.5" cy="79.5" r="1.86"/><circle cx="1028.5" cy="82.5" r="1.86"/><circle cx="1028.5" cy="77.5" r="1.86"/><circle cx="1029.5" cy="74.5" r="1.86"/><circle cx="1029.5" cy="83.5" r="1.86"/><circle cx="1030.5" cy="76.5" r="1.86"/><circle cx="1030.5" cy="73.5" r="1.86"/><circle cx="1030.5" cy="83.5" r="1.86"/><circle cx="1031.5" cy="75.5" r="1.86"/><circle cx="1031.5" cy="77.5" r="1.86"/><circle cx="1032.5" cy="81.5" r="1.86"/><circle cx="1032.5" cy="86.5" r="1.86"/><circle cx="1033.5" cy="82.5" r="1.86"/><circle cx="1033.5" cy="78.5" r="1.86"/><circle cx="1034.5" cy="81.5" r="1.86"/><circle cx="1035.5" cy="78.5" r="1.86"/><circle cx="1035.5" cy="81.5" r="1.86"/><circle cx="1036.5" cy="79.5" r="1.86"/><circle cx="1036.5" cy="81.5" r="1.86"/><circle cx="1036.5" cy="82.5" r="1.86"/><circle cx="1037.5" cy="81.5" r="1.86"/><circle cx="1037.5" cy="66.5" r="1.86"/><circle cx="1038.5" cy="79.5" r="1.86"/><circle cx="1038.5" cy="78.5" r="1.86"/><circle cx="1039.5" cy="80.5" r="1.86"/><circle cx="1039.5" cy="71.5" r="1.86"/><circle cx="1040.5" cy="77.5" r="1.86"/><circle cx="1041.5" cy="78.5" r="1.86"/><circle cx="1041.5" cy="85.5" r="1.86"/><circle cx="1042.5" cy="80.5" r="1.86"/><circle cx="1042.5" cy="86.5" r="1.86"/><circle cx="1043.5" cy="90.5" r="1.86"/><circle cx="1043.5" cy="81.5" r="1.86"/><circle cx="1044.5" cy="85.5" r="1.86"/><circle cx="1045.5" cy="87.5" r="1.86"/><circle cx="1045.5" cy="86.5" r="1.86"/><circle cx="1046.5" cy="87.5" r="1.86"/><circle cx="1046.5" cy="84.5" r="1.86"/><circle cx="1047.5" cy="78.5" r="1.86"/><circle cx="1047.5" cy="86.5" r="1.86"/><circle cx="1048.5" cy="83.5" r="1.86"/><circle cx="1048.5" cy="85.5" r="1.86"/><circle cx="1049.5" cy="79.5" r="1.86"/><circle cx="1049.5" cy="83.5" r="1.86"/><circle cx="1050.5" cy="81.5" r="1.86"/><circle cx="1050.5" cy="79.5" r="1.86"/><circle cx="1051.5" cy="82.5" r="1.86"/><circle cx="1051.5" cy="79.5" r="1.86"/><circle cx="1052.5" cy="79.5" r="1.86"/><circle cx="1052.5" cy="82.5" r="1.86"/><circle cx="1053.5" cy="80.5" r="1.86"/><circle cx="1053.5" cy="82.5" r="1.86"/><circle cx="1054.5" cy="80.5" r="1.86"/><circle cx="1054.5" cy="77.5" r="1.86"/><circle cx="1055.5" cy="76.5" r="1.86"/><circle cx="1055.5" cy="84.5" r="1.86"/><circle cx="1056.5" cy="76.5" r="1.86"/><circle cx="1056.5" cy="77.5" r="1.86"/><circle cx="1056.5" cy="74.5" r="1.86"/><circle cx="1057.5" cy="75.5" r="1.86"/><circle cx="1057.5" cy="86.5" r="1.86"/><circle cx="1058.5" cy="79.5" r="1.86"/><circle cx="1058.5" cy="83.5" r="1.86"/><circle cx="1059.5" cy="79.5" r="1.86"/><circle cx="1059.5" cy="86.5" r="1.86"/><circle cx="1060.5" cy="79.5" r="1.86"/><circle cx="1061.5" cy="85.5" r="1.86"/><circle cx="1061.5" cy="83.5" r="1.86"/><circle cx="1062.5" cy="78.5" r="1.86"/><circle cx="1062.5" cy="76.5" r="1.86"/><circle cx="1062.5" cy="83.5" r="1.86"/><circle cx="1063.5" cy="75.5" r="1.86"/><circle cx="1063.5" cy="82.5" r="1.86"/><circle cx="1064.5" cy="77.5" r="1.86"/><circle cx="1064.5" cy="81.5" r="1.86"/><circle cx="1065.5" cy="75.5" r="1.86"/><circle cx="1065.5" cy="83.5" r="1.86"/><circle cx="1066.5" cy="75.5" r="1.86"/><circle cx="1066.5" cy="76.5" r="1.86"/><circle cx="1067.5" cy="81.5" r="1.86"/><circle cx="1067.5" cy="84.5" r="1.86"/><circle cx="1068.5" cy="82.5" r="1.86"/><circle cx="1068.5" cy="83.5" r="1.86"/><circle cx="1069.5" cy="83.5" r="1.86"/><circle cx="1069.5" cy="79.5" r="1.86"/><circle cx="1069.5" cy="81.5" r="1.86"/><circle cx="1070.5" cy="76.5" r="1.86"/><circle cx="1070.5" cy="78.5" r="1.86"/><circle cx="1071.5" cy="78.5" r="1.86"/><circle cx="1072.5" cy="77.5" r="1.86"/><circle cx="1072.5" cy="76.5" r="1.86"/><circle cx="1073.5" cy="77.5" r="1.86"/><circle cx="1073.5" cy="83.5" r="1.86"/><circle cx="1074.5" cy="75.5" r="1.86"/><circle cx="1074.5" cy="77.5" r="1.86"/><circle cx="1075.5" cy="75.5" r="1.86"/><circle cx="1075.5" cy="77.5" r="1.86"/><circle cx="1076.5" cy="76.5" r="1.86"/><circle cx="1077.5" cy="83.5" r="1.86"/><circle cx="1077.5" cy="75.5" r="1.86"/><circle cx="1078.5" cy="79.5" r="1.86"/><circle cx="1078.5" cy="81.5" r="1.86"/><circle cx="1079.5" cy="80.5" r="1.86"/><circle cx="1079.5" cy="83.5" r="1.86"/><circle cx="1080.5" cy="81.5" r="1.86"/><circle cx="1080.5" cy="71.5" r="1.86"/><circle cx="1081.5" cy="80.5" r="1.86"/><circle cx="1081.5" cy="82.5" r="1.86"/><circle cx="1082.5" cy="74.5" r="1.86"/><circle cx="1082.5" cy="75.5" r="1.86"/><circle cx="1082.5" cy="85.5" r="1.86"/><circle cx="1083.5" cy="72.5" r="1.86"/><circle cx="1083.5" cy="76.5" r="1.86"/><circle cx="1084.5" cy="77.5" r="1.86"/><circle cx="1084.5" cy="85.5" r="1.86"/><circle cx="1085.5" cy="74.5" r="1.86"/><circle cx="1085.5" cy="81.5" r="1.86"/><circle cx="1086.5" cy="81.5" r="1.86"/><circle cx="1086.5" cy="75.5" r="1.86"/><circle cx="1087.5" cy="82.5" r="1.86"/><circle cx="1087.5" cy="75.5" r="1.86"/><circle cx="1088.5" cy="78.5" r="1.86"/><circle cx="1088.5" cy="72.5" r="1.86"/><circle cx="1088.5" cy="84.5" r="1.86"/><circle cx="1089.5" cy="80.5" r="1.86"/><circle cx="1089.5" cy="71.5" r="1.86"/><circle cx="1090.5" cy="82.5" r="1.86"/><circle cx="1090.5" cy="69.5" r="1.86"/><circle cx="1091.5" cy="75.5" r="1.86"/><circle cx="1091.5" cy="72.5" r="1.86"/><circle cx="1092.5" cy="72.5" r="1.86"/><circle cx="1093.5" cy="73.5" r="1.86"/><circle cx="1094.5" cy="76.5" r="1.86"/><circle cx="1094.5" cy="77.5" r="1.86"/><circle cx="1095.5" cy="81.5" r="1.86"/><circle cx="1095.5" cy="80.5" r="1.86"/><circle cx="1095.5" cy="78.5" r="1.86"/><circle cx="1096.5" cy="82.5" r="1.86"/><circle cx="1096.5" cy="84.5" r="1.86"/><circle cx="1097.5" cy="75.5" r="1.86"/><circle cx="1097.5" cy="76.5" r="1.86"/><circle cx="1098.5" cy="79.5" r="1.86"/><circle cx="1098.5" cy="76.5" r="1.86"/><circle cx="1099.5" cy="83.5" r="1.86"/><circle cx="1099.5" cy="75.5" r="1.86"/><circle cx="1100.5" cy="73.5" r="1.86"/><circle cx="1100.5" cy="83.5" r="1.86"/><circle cx="1101.5" cy="75.5" r="1.86"/><circle cx="1101.5" cy="72.5" r="1.86"/><circle cx="1101.5" cy="79.5" r="1.86"/><circle cx="1102.5" cy="74.5" r="1.86"/><circle cx="1102.5" cy="79.5" r="1.86"/><circle cx="1103.5" cy="80.5" r="1.86"/><circle cx="1103.5" cy="83.5" r="1.86"/><circle cx="1104.5" cy="84.5" r="1.86"/><circle cx="1104.5" cy="82.5" r="1.86"/><circle cx="1105.5" cy="81.5" r="1.86"/><circle cx="1105.5" cy="77.5" r="1.86"/><circle cx="1106.5" cy="75.5" r="1.86"/><circle cx="1106.5" cy="68.5" r="1.86"/><circle cx="1107.5" cy="73.5" r="1.86"/><circle cx="1107.5" cy="68.5" r="1.86"/><circle cx="1108.5" cy="69.5" r="1.86"/><circle cx="1108.5" cy="79.5" r="1.86"/><circle cx="1109.5" cy="80.5" r="1.86"/><circle cx="1109.5" cy="79.5" r="1.86"/><circle cx="1110.5" cy="75.5" r="1.86"/><circle cx="1110.5" cy="79.5" r="1.86"/><circle cx="1111.5" cy="71.5" r="1.86"/><circle cx="1111.5" cy="73.5" r="1.86"/><circle cx="1112.5" cy="74.5" r="1.86"/><circle cx="1113.5" cy="76.5" r="1.86"/><circle cx="1113.5" cy="80.5" r="1.86"/><circle cx="1114.5" cy="80.5" r="1.86"/><circle cx="1114.5" cy="77.5" r="1.86"/><circle cx="1114.5" cy="82.5" r="1.86"/><circle cx="1115.5" cy="73.5" r="1.86"/><circle cx="1115.5" cy="79.5" r="1.86"/><circle cx="1116.5" cy="83.5" r="1.86"/><circle cx="1116.5" cy="82.5" r="1.86"/><circle cx="1117.5" cy="76.5" r="1.86"/><circle cx="1117.5" cy="72.5" r="1.86"/><circle cx="1118.5" cy="75.5" r="1.86"/><circle cx="1118.5" cy="76.5" r="1.86"/><circle cx="1119.5" cy="77.5" r="1.86"/><circle cx="1119.5" cy="75.5" r="1.86"/><circle cx="1120.5" cy="78.5" r="1.86"/><circle cx="1120.5" cy="70.5" r="1.86"/><circle cx="1121.5" cy="71.5" r="1.86"/><circle cx="1121.5" cy="74.5" r="1.86"/><circle cx="1121.5" cy="67.5" r="1.86"/><circle cx="1122.5" cy="70.5" r="1.86"/><circle cx="1122.5" cy="68.5" r="1.86"/><circle cx="1123.5" cy="74.5" r="1.86"/><circle cx="1123.5" cy="73.5" r="1.86"/><circle cx="1124.5" cy="75.5" r="1.86"/><circle cx="1125.5" cy="73.5" r="1.86"/><circle cx="1125.5" cy="64.5" r="1.86"/><circle cx="1126.5" cy="66.5" r="1.86"/><circle cx="1126.5" cy="65.5" r="1.86"/><circle cx="1127.5" cy="73.5" r="1.86"/><circle cx="1127.5" cy="75.5" r="1.86"/><circle cx="1127.5" cy="74.5" r="1.86"/><circle cx="1128.5" cy="72.5" r="1.86"/><circle cx="1128.5" cy="74.5" r="1.86"/><circle cx="1129.5" cy="67.5" r="1.86"/><circle cx="1129.5" cy="73.5" r="1.86"/><circle cx="1130.5" cy="73.5" r="1.86"/><circle cx="1130.5" cy="65.5" r="1.86"/><circle cx="1131.5" cy="75.5" r="1.86"/><circle cx="1131.5" cy="69.5" r="1.86"/><circle cx="1132.5" cy="75.5" r="1.86"/><circle cx="1132.5" cy="72.5" r="1.86"/><circle cx="1133.5" cy="72.5" r="1.86"/><circle cx="1133.5" cy="71.5" r="1.86"/><circle cx="1134.5" cy="70.5" r="1.86"/><circle cx="1134.5" cy="72.5" r="1.86"/><circle cx="1134.5" cy="73.5" r="1.86"/><circle cx="1135.5" cy="68.5" r="1.86"/><circle cx="1135.5" cy="71.5" r="1.86"/><circle cx="1136.5" cy="75.5" r="1.86"/><circle cx="1136.5" cy="72.5" r="1.86"/><circle cx="1137.5" cy="74.5" r="1.86"/><circle cx="1138.5" cy="68.5" r="1.86"/><circle cx="1138.5" cy="72.5" r="1.86"/><circle cx="1139.5" cy="72.5" r="1.86"/><circle cx="1139.5" cy="74.5" r="1.86"/><circle cx="1140.5" cy="66.5" r="1.86"/><circle cx="1140.5" cy="74.5" r="1.86"/><circle cx="1140.5" cy="71.5" r="1.86"/><circle cx="1141.5" cy="75.5" r="1.86"/><circle cx="1141.5" cy="69.5" r="1.86"/><circle cx="1142.5" cy="65.5" r="1.86"/><circle cx="1142.5" cy="72.5" r="1.86"/><circle cx="1143.5" cy="74.5" r="1.86"/><circle cx="1143.5" cy="66.5" r="1.86"/><circle cx="1144.5" cy="72.5" r="1.86"/><circle cx="1144.5" cy="66.5" r="1.86"/><circle cx="1145.5" cy="74.5" r="1.86"/><circle cx="1145.5" cy="72.5" r="1.86"/><circle cx="1146.5" cy="71.5" r="1.86"/><circle cx="1146.5" cy="72.5" r="1.86"/><circle cx="1147.5" cy="75.5" r="1.86"/><circle cx="1147.5" cy="73.5" r="1.86"/><circle cx="1147.5" cy="68.5" r="1.86"/><circle cx="1148.5" cy="78.5" r="1.86"/><circle cx="1149.5" cy="74.5" r="1.86"/><circle cx="1149.5" cy="73.5" r="1.86"/><circle cx="1150.5" cy="72.5" r="1.86"/><circle cx="1150.5" cy="74.5" r="1.86"/><circle cx="1151.5" cy="73.5" r="1.86"/><circle cx="1151.5" cy="75.5" r="1.86"/><circle cx="1152.5" cy="73.5" r="1.86"/><circle cx="1152.5" cy="76.5" r="1.86"/><circle cx="1153.5" cy="76.5" r="1.86"/><circle cx="1153.5" cy="81.5" r="1.86"/><circle cx="1153.5" cy="70.5" r="1.86"/><circle cx="1154.5" cy="71.5" r="1.86"/><circle cx="1155.5" cy="68.5" r="1.86"/><circle cx="1155.5" cy="70.5" r="1.86"/><circle cx="1156.5" cy="77.5" r="1.86"/><circle cx="1156.5" cy="78.5" r="1.86"/><circle cx="1157.5" cy="76.5" r="1.86"/><circle cx="1157.5" cy="78.5" r="1.86"/><circle cx="1158.5" cy="79.5" r="1.86"/><circle cx="1158.5" cy="68.5" r="1.86"/><circle cx="1159.5" cy="79.5" r="1.86"/><circle cx="1159.5" cy="71.5" r="1.86"/><circle cx="1160.5" cy="76.5" r="1.86"/><circle cx="1160.5" cy="73.5" r="1.86"/><circle cx="1160.5" cy="71.5" r="1.86"/><circle cx="1161.5" cy="75.5" r="1.86"/><circle cx="1161.5" cy="72.5" r="1.86"/><circle cx="1162.5" cy="71.5" r="1.86"/><circle cx="1162.5" cy="69.5" r="1.86"/><circle cx="1163.5" cy="71.5" r="1.86"/><circle cx="1163.5" cy="77.5" r="1.86"/><circle cx="1164.5" cy="73.5" r="1.86"/><circle cx="1164.5" cy="78.5" r="1.86"/><circle cx="1165.5" cy="68.5" r="1.86"/><circle cx="1165.5" cy="71.5" r="1.86"/><circle cx="1166.5" cy="74.5" r="1.86"/><circle cx="1166.5" cy="73.5" r="1.86"/><circle cx="1167.5" cy="74.5" r="1.86"/><circle cx="1167.5" cy="72.5" r="1.86"/><circle cx="1168.5" cy="75.5" r="1.86"/><circle cx="1168.5" cy="77.5" r="1.86"/><circle cx="1169.5" cy="77.5" r="1.86"/><circle cx="1169.5" cy="65.5" r="1.86"/><circle cx="1170.5" cy="76.5" r="1.86"/><circle cx="1170.5" cy="69.5" r="1.86"/><circle cx="1171.5" cy="67.5" r="1.86"/><circle cx="1171.5" cy="75.5" r="1.86"/><circle cx="1172.5" cy="72.5" r="1.86"/><circle cx="1172.5" cy="73.5" r="1.86"/><circle cx="1173.5" cy="74.5" r="1.86"/><circle cx="1173.5" cy="72.5" r="1.86"/><circle cx="1174.5" cy="73.5" r="1.86"/><circle cx="1174.5" cy="68.5" r="1.86"/><circle cx="1175.5" cy="72.5" r="1.86"/><circle cx="1175.5" cy="70.5" r="1.86"/><circle cx="1176.5" cy="73.5" r="1.86"/><circle cx="1176.5" cy="69.5" r="1.86"/><circle cx="1177.5" cy="74.5" r="1.86"/><circle cx="1177.5" cy="70.5" r="1.86"/><circle cx="1178.5" cy="75.5" r="1.86"/><circle cx="1178.5" cy="66.5" r="1.86"/><circle cx="1179.5" cy="73.5" r="1.86"/><circle cx="1180.5" cy="73.5" r="1.86"/><circle cx="1180.5" cy="68.5" r="1.86"/><circle cx="1181.5" cy="66.5" r="1.86"/><circle cx="1181.5" cy="65.5" r="1.86"/><circle cx="1182.5" cy="67.5" r="1.86"/><circle cx="1183.5" cy="70.5" r="1.86"/><circle cx="1184.5" cy="73.5" r="1.86"/><circle cx="1184.5" cy="72.5" r="1.86"/><circle cx="1185.5" cy="76.5" r="1.86"/><circle cx="1185.5" cy="72.5" r="1.86"/><circle cx="1186.5" cy="75.5" r="1.86"/><circle cx="1186.5" cy="74.5" r="1.86"/><circle cx="1187.5" cy="72.5" r="1.86"/><circle cx="1187.5" cy="73.5" r="1.86"/><circle cx="1188.5" cy="75.5" r="1.86"/><circle cx="1188.5" cy="71.5" r="1.86"/><circle cx="1189.5" cy="73.5" r="1.86"/><circle cx="1189.5" cy="74.5" r="1.86"/><circle cx="1190.5" cy="72.5" r="1.86"/><circle cx="1190.5" cy="75.5" r="1.86"/><circle cx="1191.5" cy="77.5" r="1.86"/><circle cx="1191.5" cy="71.5" r="1.86"/><circle cx="1192.5" cy="68.5" r="1.86"/><circle cx="1192.5" cy="75.5" r="1.86"/><circle cx="1192.5" cy="76.5" r="1.86"/><circle cx="1193.5" cy="71.5" r="1.86"/><circle cx="1193.5" cy="70.5" r="1.86"/><circle cx="1194.5" cy="73.5" r="1.86"/><circle cx="1194.5" cy="66.5" r="1.86"/><circle cx="1195.5" cy="74.5" r="1.86"/><circle cx="1195.5" cy="77.5" r="1.86"/><circle cx="1196.5" cy="74.5" r="1.86"/><circle cx="1196.5" cy="77.5" r="1.86"/><circle cx="1197.5" cy="75.5" r="1.86"/><circle cx="1197.5" cy="77.5" r="1.86"/><circle cx="1198.5" cy="81.5" r="1.86"/><circle cx="1198.5" cy="77.5" r="1.86"/><circle cx="1199.5" cy="86.5" r="1.86"/><circle cx="1199.5" cy="75.5" r="1.86"/><circle cx="1199.5" cy="88.5" r="1.86"/><circle cx="1200.5" cy="86.5" r="1.86"/><circle cx="1200.5" cy="87.5" r="1.86"/><circle cx="1201.5" cy="84.5" r="1.86"/><circle cx="1201.5" cy="85.5" r="1.86"/><circle cx="1202.5" cy="79.5" r="1.86"/><circle cx="1202.5" cy="89.5" r="1.86"/><circle cx="1203.5" cy="79.5" r="1.86"/><circle cx="1203.5" cy="84.5" r="1.86"/><circle cx="1204.5" cy="87.5" r="1.86"/><circle cx="1204.5" cy="78.5" r="1.86"/><circle cx="1205.5" cy="78.5" r="1.86"/><circle cx="1205.5" cy="84.5" r="1.86"/><circle cx="1206.5" cy="80.5" r="1.86"/><circle cx="1207.5" cy="81.5" r="1.86"/><circle cx="1207.5" cy="79.5" r="1.86"/><circle cx="1208.5" cy="82.5" r="1.86"/><circle cx="1208.5" cy="75.5" r="1.86"/><circle cx="1209.5" cy="75.5" r="1.86"/><circle cx="1209.5" cy="78.5" r="1.86"/><circle cx="1210.5" cy="76.5" r="1.86"/><circle cx="1210.5" cy="78.5" r="1.86"/><circle cx="1211.5" cy="75.5" r="1.86"/><circle cx="1211.5" cy="70.5" r="1.86"/><circle cx="1212.5" cy="72.5" r="1.86"/><circle cx="1212.5" cy="67.5" r="1.86"/><circle cx="1212.5" cy="73.5" r="1.86"/><circle cx="1213.5" cy="76.5" r="1.86"/><circle cx="1213.5" cy="71.5" r="1.86"/><circle cx="1214.5" cy="72.5" r="1.86"/><circle cx="1214.5" cy="73.5" r="1.86"/><circle cx="1215.5" cy="71.5" r="1.86"/><circle cx="1216.5" cy="75.5" r="1.86"/><circle cx="1216.5" cy="73.5" r="1.86"/><circle cx="1217.5" cy="74.5" r="1.86"/><circle cx="1217.5" cy="77.5" r="1.86"/><circle cx="1218.5" cy="72.5" r="1.86"/><circle cx="1218.5" cy="68.5" r="1.86"/><circle cx="1218.5" cy="79.5" r="1.86"/><circle cx="1219.5" cy="79.5" r="1.86"/><circle cx="1219.5" cy="75.5" r="1.86"/><circle cx="1220.5" cy="80.5" r="1.86"/><circle cx="1220.5" cy="78.5" r="1.86"/><circle cx="1221.5" cy="78.5" r="1.86"/><circle cx="1221.5" cy="80.5" r="1.86"/><circle cx="1222.5" cy="76.5" r="1.86"/><circle cx="1222.5" cy="78.5" r="1.86"/><circle cx="1223.5" cy="82.5" r="1.86"/><circle cx="1223.5" cy="81.5" r="1.86"/><circle cx="1224.5" cy="78.5" r="1.86"/><circle cx="1224.5" cy="74.5" r="1.86"/><circle cx="1225.5" cy="75.5" r="1.86"/><circle cx="1225.5" cy="74.5" r="1.86"/><circle cx="1225.5" cy="73.5" r="1.86"/><circle cx="1226.5" cy="79.5" r="1.86"/><circle cx="1226.5" cy="82.5" r="1.86"/><circle cx="1227.5" cy="78.5" r="1.86"/><circle cx="1227.5" cy="79.5" r="1.86"/><circle cx="1228.5" cy="78.5" r="1.86"/><circle cx="1228.5" cy="80.5" r="1.86"/><circle cx="1229.5" cy="74.5" r="1.86"/><circle cx="1229.5" cy="86.5" r="1.86"/><circle cx="1230.5" cy="73.5" r="1.86"/><circle cx="1230.5" cy="76.5" r="1.86"/><circle cx="1231.5" cy="80.5" r="1.86"/><circle cx="1231.5" cy="78.5" r="1.86"/><circle cx="1231.5" cy="79.5" r="1.86"/><circle cx="1232.5" cy="74.5" r="1.86"/><circle cx="1232.5" cy="80.5" r="1.86"/><circle cx="1233.5" cy="80.5" r="1.86"/><circle cx="1233.5" cy="79.5" r="1.86"/><circle cx="1234.5" cy="80.5" r="1.86"/><circle cx="1234.5" cy="76.5" r="1.86"/><circle cx="1235.5" cy="79.5" r="1.86"/><circle cx="1236.5" cy="86.5" r="1.86"/><circle cx="1236.5" cy="81.5" r="1.86"/><circle cx="1237.5" cy="82.5" r="1.86"/><circle cx="1237.5" cy="81.5" r="1.86"/><circle cx="1238.5" cy="79.5" r="1.86"/><circle cx="1238.5" cy="76.5" r="1.86"/><circle cx="1238.5" cy="74.5" r="1.86"/><circle cx="1239.5" cy="74.5" r="1.86"/><circle cx="1239.5" cy="73.5" r="1.86"/><circle cx="1240.5" cy="75.5" r="1.86"/><circle cx="1240.5" cy="84.5" r="1.86"/><circle cx="1241.5" cy="73.5" r="1.86"/><circle cx="1241.5" cy="80.5" r="1.86"/><circle cx="1242.5" cy="78.5" r="1.86"/><circle cx="1242.5" cy="79.5" r="1.86"/><circle cx="1243.5" cy="80.5" r="1.86"/><circle cx="1243.5" cy="78.5" r="1.86"/><circle cx="1244.5" cy="75.5" r="1.86"/><circle cx="1244.5" cy="79.5" r="1.86"/><circle cx="1244.5" cy="73.5" r="1.86"/><circle cx="1245.5" cy="78.5" r="1.86"/><circle cx="1245.5" cy="79.5" r="1.86"/><circle cx="1246.5" cy="81.5" r="1.86"/><circle cx="1247.5" cy="80.5" r="1.86"/><circle cx="1247.5" cy="69.5" r="1.86"/><circle cx="1248.5" cy="79.5" r="1.86"/><circle cx="1248.5" cy="68.5" r="1.86"/><circle cx="1249.5" cy="81.5" r="1.86"/><circle cx="1249.5" cy="79.5" r="1.86"/><circle cx="1250.5" cy="79.5" r="1.86"/><circle cx="1250.5" cy="81.5" r="1.86"/><circle cx="1251.5" cy="81.5" r="1.86"/><circle cx="1251.5" cy="80.5" r="1.86"/><circle cx="1251.5" cy="77.5" r="1.86"/><circle cx="1252.5" cy="82.5" r="1.86"/><circle cx="1252.5" cy="69.5" r="1.86"/><circle cx="1253.5" cy="78.5" r="1.86"/><circle cx="1253.5" cy="74.5" r="1.86"/><circle cx="1254.5" cy="79.5" r="1.86"/><circle cx="1254.5" cy="80.5" r="1.86"/><circle cx="1255.5" cy="79.5" r="1.86"/><circle cx="1255.5" cy="84.5" r="1.86"/><circle cx="1256.5" cy="75.5" r="1.86"/><circle cx="1256.5" cy="73.5" r="1.86"/><circle cx="1257.5" cy="87.5" r="1.86"/><circle cx="1257.5" cy="77.5" r="1.86"/><circle cx="1257.5" cy="75.5" r="1.86"/><circle cx="1258.5" cy="80.5" r="1.86"/><circle cx="1258.5" cy="76.5" r="1.86"/><circle cx="1259.5" cy="80.5" r="1.86"/><circle cx="1259.5" cy="75.5" r="1.86"/><circle cx="1260.5" cy="87.5" r="1.86"/><circle cx="1260.5" cy="86.5" r="1.86"/><circle cx="1261.5" cy="87.5" r="1.86"/><circle cx="1261.5" cy="85.5" r="1.86"/><circle cx="1262.5" cy="87.5" r="1.86"/><circle cx="1263.5" cy="86.5" r="1.86"/><circle cx="1263.5" cy="80.5" r="1.86"/><circle cx="1264.5" cy="72.5" r="1.86"/><circle cx="1264.5" cy="80.5" r="1.86"/><circle cx="1264.5" cy="77.5" r="1.86"/><circle cx="1265.5" cy="78.5" r="1.86"/><circle cx="1265.5" cy="73.5" r="1.86"/><circle cx="1266.5" cy="77.5" r="1.86"/><circle cx="1267.5" cy="80.5" r="1.86"/><circle cx="1267.5" cy="75.5" r="1.86"/><circle cx="1268.5" cy="73.5" r="1.86"/><circle cx="1268.5" cy="75.5" r="1.86"/><circle cx="1269.5" cy="73.5" r="1.86"/><circle cx="1269.5" cy="82.5" r="1.86"/><circle cx="1270.5" cy="68.5" r="1.86"/><circle cx="1270.5" cy="77.5" r="1.86"/><circle cx="1270.5" cy="80.5" r="1.86"/><circle cx="1271.5" cy="85.5" r="1.86"/><circle cx="1271.5" cy="81.5" r="1.86"/><circle cx="1272.5" cy="74.5" r="1.86"/><circle cx="1272.5" cy="83.5" r="1.86"/><circle cx="1273.5" cy="77.5" r="1.86"/><circle cx="1274.5" cy="76.5" r="1.86"/><circle cx="1274.5" cy="75.5" r="1.86"/><circle cx="1275.5" cy="72.5" r="1.86"/><circle cx="1275.5" cy="84.5" r="1.86"/><circle cx="1276.5" cy="73.5" r="1.86"/><circle cx="1276.5" cy="83.5" r="1.86"/><circle cx="1277.5" cy="73.5" r="1.86"/><circle cx="1277.5" cy="80.5" r="1.86"/><circle cx="1277.5" cy="72.5" r="1.86"/><circle cx="1278.5" cy="80.5" r="1.86"/><circle cx="1279.5" cy="78.5" r="1.86"/><circle cx="1279.5" cy="77.5" r="1.86"/><circle cx="1280.5" cy="77.5" r="1.86"/><circle cx="1280.5" cy="72.5" r="1.86"/><circle cx="1281.5" cy="70.5" r="1.86"/><circle cx="1281.5" cy="72.5" r="1.86"/><circle cx="1282.5" cy="71.5" r="1.86"/><circle cx="1282.5" cy="67.5" r="1.86"/><circle cx="1283.5" cy="65.5" r="1.86"/><circle cx="1283.5" cy="66.5" r="1.86"/><circle cx="1283.5" cy="74.5" r="1.86"/><circle cx="1284.5" cy="68.5" r="1.86"/><circle cx="1285.5" cy="66.5" r="1.86"/><circle cx="1285.5" cy="73.5" r="1.86"/><circle cx="1286.5" cy="74.5" r="1.86"/><circle cx="1286.5" cy="73.5" r="1.86"/><circle cx="1287.5" cy="73.5" r="1.86"/><circle cx="1288.5" cy="74.5" r="1.86"/><circle cx="1288.5" cy="71.5" r="1.86"/><circle cx="1289.5" cy="73.5" r="1.86"/><circle cx="1289.5" cy="75.5" r="1.86"/><circle cx="1290.5" cy="74.5" r="1.86"/><circle cx="1290.5" cy="75.5" r="1.86"/><circle cx="1291.5" cy="80.5" r="1.86"/><circle cx="1292.5" cy="79.5" r="1.86"/><circle cx="1292.5" cy="80.5" r="1.86"/><circle cx="1293.5" cy="78.5" r="1.86"/><circle cx="1294.5" cy="81.5" r="1.86"/><circle cx="1294.5" cy="71.5" r="1.86"/><circle cx="1295.5" cy="74.5" r="1.86"/><circle cx="1295.5" cy="70.5" r="1.86"/><circle cx="1296.5" cy="71.5" r="1.86"/><circle cx="1296.5" cy="74.5" r="1.86"/><circle cx="1296.5" cy="73.5" r="1.86"/><circle cx="1297.5" cy="79.5" r="1.86"/><circle cx="1297.5" cy="73.5" r="1.86"/><circle cx="1298.5" cy="68.5" r="1.86"/><circle cx="1298.5" cy="70.5" r="1.86"/><circle cx="1299.5" cy="81.5" r="1.86"/><circle cx="1299.5" cy="67.5" r="1.86"/><circle cx="1300.5" cy="69.5" r="1.86"/><circle cx="1301.5" cy="64.5" r="1.86"/><circle cx="1301.5" cy="72.5" r="1.86"/><circle cx="1302.5" cy="65.5" r="1.86"/><circle cx="1302.5" cy="67.5" r="1.86"/><circle cx="1303.5" cy="67.5" r="1.86"/></g>
<path d="M162 321V35" stroke="#800080" stroke-width="2.08" stroke-dasharray="2.0833 3.4375" fill="none"/>
<path d="M1303 321V35" stroke="#800080" stroke-width="2.08" stroke-dasharray="2.0833 3.4375" fill="none"/>
<path d="M105 58H1360" stroke="#008000" stroke-width="2.08" stroke-linecap="square" fill="none"/>
</g>
<text x="732.3" y="312.26" text-anchor="middle" letter-spacing="-0.014">25982</text>
<rect x="105.5" y="35.5" width="1380" height="286" fill="none" stroke="#000" stroke-width="1.11" stroke-linejoin="miter"/>
<text x="163.44" y="342" text-anchor="middle">0</text>
<text x="387.88" y="342" text-anchor="middle" letter-spacing="-0.360">500</text>
<text x="615.21" y="342" text-anchor="middle" letter-spacing="-0.250">1000</text>
<text x="841.23" y="342" text-anchor="middle" letter-spacing="-0.220">1500</text>
<text x="1067.7" y="342" text-anchor="middle">2000</text>
<text x="1294.47" y="342" text-anchor="middle" letter-spacing="0.050">2500</text>
<path d="M162.5 321.5V326.5M389.5 321.5V326.5M615.5 321.5V326.5M842.5 321.5V326.5M1068.5 321.5V326.5M1294.5 321.5V326.5" stroke="#000" stroke-width="1.11" fill="none"/>
<text x="95.37" y="318" text-anchor="end">8.2</text>
<text x="95.37" y="260" text-anchor="end">8.3</text>
<text x="95.37" y="202" text-anchor="end">8.4</text>
<text x="95.37" y="144" text-anchor="end">8.5</text>
<text x="95.37" y="86" text-anchor="end">8.6</text>
<path d="M105.5 313.5H100.5M105.5 255.5H100.5M105.5 196.5H100.5M105.5 138.5H100.5M105.5 80.5H100.5" stroke="#000" stroke-width="1.11" fill="none"/>
<text x="794.59" y="26.97" text-anchor="middle" class="t12">AGASC ID 625214896.0</text>
<rect x="1348.5" y="247.5" width="130" height="67" rx="2.78" ry="2.78" fill="#fff" fill-opacity="0.8" stroke="#ccc" stroke-opacity="0.8" stroke-width="1.39"/>
<circle cx="1367.5" cy="260.5" r="1.86" fill="#f00"/>
<text x="1391.97" y="263.89" letter-spacing="-0.037">not OK</text>
<circle cx="1367.5" cy="281.5" r="1.86" fill="#ffa500"/>
<text x="1393.11" y="284.83" letter-spacing="-0.100">Highlighted</text>
<circle cx="1367.5" cy="302.5" r="1.86" fill="#000"/>
<text x="1392.83" y="305.78" letter-spacing="-0.961">OK</text>
<rect x="1361.5" y="42.5" width="117" height="27" rx="2.78" ry="2.78" fill="#fff" fill-opacity="0.8" stroke="#ccc" stroke-opacity="0.8" stroke-width="1.39"/>
<path d="M1367 54H1395" stroke="#008000" stroke-width="2.08" stroke-linecap="square" fill="none"/>
<text x="1407.04" y="58.8" letter-spacing="-0.062">mag<tspan class="sub" dx="-0.6" dy="2.4">AGASC</tspan></text>
<clipPath id="c2"><rect x="105.1" y="380.3" width="1379.9" height="285.98"/></clipPath>
<g clip-path="url(#c2)">
<g fill="#ffa500"><circle cx="216.5" cy="454.5" r="1.86"/><circle cx="217.5" cy="452.5" r="1.86"/><circle cx="220.5" cy="457.5" r="1.86"/><circle cx="522.5" cy="438.5" r="1.86"/><circle cx="525.5" cy="453.5" r="1.86"/><circle cx="582.5" cy="609.5" r="1.86"/><circle cx="760.5" cy="595.5" r="1.86"/><circle cx="838.5" cy="444.5" r="1.86"/><circle cx="840.5" cy="437.5" r="1.86"/><circle cx="841.5" cy="456.5" r="1.86"/><circle cx="1043.5" cy="593.5" r="1.86"/><circle cx="1044.5" cy="599.5" r="1.86"/><circle cx="1060.5" cy="594.5" r="1.86"/><circle cx="1179.5" cy="442.5" r="1.86"/><circle cx="1179.5" cy="453.5" r="1.86"/><circle cx="1182.5" cy="455.5" r="1.86"/><circle cx="1262.5" cy="590.5" r="1.86"/><circle cx="1284.5" cy="456.5" r="1.86"/><circle cx="1300.5" cy="452.5" r="1.86"/></g>
<g fill="#000"><circle cx="162.5" cy="480.5" r="1.86"/><circle cx="163.5" cy="507.5" r="1.86"/><circle cx="163.5" cy="488.5" r="1.86"/><circle cx="164.5" cy="501.5" r="1.86"/><circle cx="164.5" cy="483.5" r="1.86"/><circle cx="165.5" cy="513.5" r="1.86"/><circle cx="165.5" cy="509.5" r="1.86"/><circle cx="166.5" cy="488.5" r="1.86"/><circle cx="166.5" cy="561.5" r="1.86"/><circle cx="167.5" cy="500.5" r="1.86"/><circle cx="167.5" cy="501.5" r="1.86"/><circle cx="168.5" cy="511.5" r="1.86"/><circle cx="168.5" cy="499.5" r="1.86"/><circle cx="169.5" cy="509.5" r="1.86"/><circle cx="169.5" cy="581.5" r="1.86"/><circle cx="170.5" cy="521.5" r="1.86"/><circle cx="170.5" cy="540.5" r="1.86"/><circle cx="170.5" cy="525.5" r="1.86"/><circle cx="171.5" cy="539.5" r="1.86"/><circle cx="171.5" cy="544.5" r="1.86"/><circle cx="172.5" cy="531.5" r="1.86"/><circle cx="172.5" cy="542.5" r="1.86"/><circle cx="173.5" cy="522.5" r="1.86"/><circle cx="173.5" cy="565.5" r="1.86"/><circle cx="174.5" cy="530.5" r="1.86"/><circle cx="174.5" cy="556.5" r="1.86"/><circle cx="175.5" cy="532.5" r="1.86"/><circle cx="175.5" cy="552.5" r="1.86"/><circle cx="176.5" cy="537.5" r="1.86"/><circle cx="176.5" cy="535.5" r="1.86"/><circle cx="177.5" cy="524.5" r="1.86"/><circle cx="177.5" cy="546.5" r="1.86"/><circle cx="177.5" cy="531.5" r="1.86"/><circle cx="178.5" cy="510.5" r="1.86"/><circle cx="178.5" cy="513.5" r="1.86"/><circle cx="179.5" cy="569.5" r="1.86"/><circle cx="179.5" cy="564.5" r="1.86"/><circle cx="180.5" cy="515.5" r="1.86"/><circle cx="180.5" cy="518.5" r="1.86"/><circle cx="181.5" cy="549.5" r="1.86"/><circle cx="181.5" cy="539.5" r="1.86"/><circle cx="182.5" cy="531.5" r="1.86"/><circle cx="182.5" cy="552.5" r="1.86"/><circle cx="183.5" cy="535.5" r="1.86"/><circle cx="183.5" cy="527.5" r="1.86"/><circle cx="183.5" cy="559.5" r="1.86"/><circle cx="184.5" cy="552.5" r="1.86"/><circle cx="184.5" cy="540.5" r="1.86"/><circle cx="185.5" cy="535.5" r="1.86"/><circle cx="185.5" cy="545.5" r="1.86"/><circle cx="186.5" cy="538.5" r="1.86"/><circle cx="186.5" cy="544.5" r="1.86"/><circle cx="187.5" cy="540.5" r="1.86"/><circle cx="187.5" cy="523.5" r="1.86"/><circle cx="188.5" cy="546.5" r="1.86"/><circle cx="188.5" cy="512.5" r="1.86"/><circle cx="189.5" cy="534.5" r="1.86"/><circle cx="189.5" cy="559.5" r="1.86"/><circle cx="190.5" cy="512.5" r="1.86"/><circle cx="190.5" cy="526.5" r="1.86"/><circle cx="190.5" cy="523.5" r="1.86"/><circle cx="191.5" cy="536.5" r="1.86"/><circle cx="191.5" cy="526.5" r="1.86"/><circle cx="192.5" cy="543.5" r="1.86"/><circle cx="192.5" cy="557.5" r="1.86"/><circle cx="193.5" cy="515.5" r="1.86"/><circle cx="193.5" cy="522.5" r="1.86"/><circle cx="194.5" cy="514.5" r="1.86"/><circle cx="195.5" cy="543.5" r="1.86"/><circle cx="195.5" cy="558.5" r="1.86"/><circle cx="196.5" cy="528.5" r="1.86"/><circle cx="196.5" cy="522.5" r="1.86"/><circle cx="196.5" cy="550.5" r="1.86"/><circle cx="197.5" cy="542.5" r="1.86"/><circle cx="197.5" cy="531.5" r="1.86"/><circle cx="198.5" cy="540.5" r="1.86"/><circle cx="198.5" cy="553.5" r="1.86"/><circle cx="199.5" cy="534.5" r="1.86"/><circle cx="199.5" cy="507.5" r="1.86"/><circle cx="200.5" cy="508.5" r="1.86"/><circle cx="200.5" cy="507.5" r="1.86"/><circle cx="201.5" cy="508.5" r="1.86"/><circle cx="201.5" cy="513.5" r="1.86"/><circle cx="202.5" cy="541.5" r="1.86"/><circle cx="202.5" cy="515.5" r="1.86"/><circle cx="203.5" cy="527.5" r="1.86"/><circle cx="203.5" cy="538.5" r="1.86"/><circle cx="203.5" cy="537.5" r="1.86"/><circle cx="204.5" cy="527.5" r="1.86"/><circle cx="204.5" cy="540.5" r="1.86"/><circle cx="205.5" cy="544.5" r="1.86"/><circle cx="205.5" cy="535.5" r="1.86"/><circle cx="206.5" cy="498.5" r="1.86"/><circle cx="206.5" cy="511.5" r="1.86"/><circle cx="207.5" cy="502.5" r="1.86"/><circle cx="207.5" cy="550.5" r="1.86"/><circle cx="208.5" cy="503.5" r="1.86"/><circle cx="208.5" cy="487.5" r="1.86"/><circle cx="209.5" cy="493.5" r="1.86"/><circle cx="209.5" cy="514.5" r="1.86"/><circle cx="209.5" cy="466.5" r="1.86"/><circle cx="210.5" cy="512.5" r="1.86"/><circle cx="210.5" cy="475.5" r="1.86"/><circle cx="211.5" cy="510.5" r="1.86"/><circle cx="212.5" cy="474.5" r="1.86"/><circle cx="212.5" cy="501.5" r="1.86"/><circle cx="213.5" cy="513.5" r="1.86"/><circle cx="213.5" cy="476.5" r="1.86"/><circle cx="214.5" cy="486.5" r="1.86"/><circle cx="214.5" cy="467.5" r="1.86"/><circle cx="215.5" cy="487.5" r="1.86"/><circle cx="215.5" cy="480.5" r="1.86"/><circle cx="216.5" cy="498.5" r="1.86"/><circle cx="216.5" cy="462.5" r="1.86"/><circle cx="217.5" cy="474.5" r="1.86"/><circle cx="218.5" cy="465.5" r="1.86"/><circle cx="218.5" cy="488.5" r="1.86"/><circle cx="219.5" cy="479.5" r="1.86"/><circle cx="219.5" cy="509.5" r="1.86"/><circle cx="220.5" cy="487.5" r="1.86"/><circle cx="221.5" cy="502.5" r="1.86"/><circle cx="221.5" cy="468.5" r="1.86"/><circle cx="222.5" cy="480.5" r="1.86"/><circle cx="222.5" cy="478.5" r="1.86"/><circle cx="222.5" cy="466.5" r="1.86"/><circle cx="223.5" cy="500.5" r="1.86"/><circle cx="223.5" cy="511.5" r="1.86"/><circle cx="224.5" cy="503.5" r="1.86"/><circle cx="224.5" cy="497.5" r="1.86"/><circle cx="225.5" cy="507.5" r="1.86"/><circle cx="225.5" cy="513.5" r="1.86"/><circle cx="226.5" cy="510.5" r="1.86"/><circle cx="226.5" cy="508.5" r="1.86"/><circle cx="227.5" cy="501.5" r="1.86"/><circle cx="228.5" cy="505.5" r="1.86"/><circle cx="228.5" cy="492.5" r="1.86"/><circle cx="229.5" cy="493.5" r="1.86"/><circle cx="229.5" cy="513.5" r="1.86"/><circle cx="229.5" cy="544.5" r="1.86"/><circle cx="230.5" cy="533.5" r="1.86"/><circle cx="230.5" cy="506.5" r="1.86"/><circle cx="231.5" cy="505.5" r="1.86"/><circle cx="231.5" cy="515.5" r="1.86"/><circle cx="232.5" cy="509.5" r="1.86"/><circle cx="232.5" cy="506.5" r="1.86"/><circle cx="233.5" cy="509.5" r="1.86"/><circle cx="233.5" cy="553.5" r="1.86"/><circle cx="234.5" cy="560.5" r="1.86"/><circle cx="234.5" cy="499.5" r="1.86"/><circle cx="235.5" cy="512.5" r="1.86"/><circle cx="235.5" cy="507.5" r="1.86"/><circle cx="235.5" cy="533.5" r="1.86"/><circle cx="236.5" cy="511.5" r="1.86"/><circle cx="236.5" cy="501.5" r="1.86"/><circle cx="237.5" cy="503.5" r="1.86"/><circle cx="237.5" cy="459.5" r="1.86"/><circle cx="238.5" cy="484.5" r="1.86"/><circle cx="238.5" cy="505.5" r="1.86"/><circle cx="239.5" cy="514.5" r="1.86"/><circle cx="239.5" cy="486.5" r="1.86"/><circle cx="240.5" cy="539.5" r="1.86"/><circle cx="240.5" cy="477.5" r="1.86"/><circle cx="241.5" cy="533.5" r="1.86"/><circle cx="241.5" cy="538.5" r="1.86"/><circle cx="242.5" cy="544.5" r="1.86"/><circle cx="242.5" cy="540.5" r="1.86"/><circle cx="242.5" cy="537.5" r="1.86"/><circle cx="243.5" cy="526.5" r="1.86"/><circle cx="243.5" cy="493.5" r="1.86"/><circle cx="244.5" cy="503.5" r="1.86"/><circle cx="244.5" cy="545.5" r="1.86"/><circle cx="245.5" cy="539.5" r="1.86"/><circle cx="245.5" cy="528.5" r="1.86"/><circle cx="246.5" cy="543.5" r="1.86"/><circle cx="246.5" cy="526.5" r="1.86"/><circle cx="247.5" cy="502.5" r="1.86"/><circle cx="247.5" cy="513.5" r="1.86"/><circle cx="248.5" cy="518.5" r="1.86"/><circle cx="248.5" cy="495.5" r="1.86"/><circle cx="248.5" cy="519.5" r="1.86"/><circle cx="249.5" cy="528.5" r="1.86"/><circle cx="249.5" cy="509.5" r="1.86"/><circle cx="250.5" cy="528.5" r="1.86"/><circle cx="250.5" cy="506.5" r="1.86"/><circle cx="251.5" cy="526.5" r="1.86"/><circle cx="251.5" cy="502.5" r="1.86"/><circle cx="252.5" cy="519.5" r="1.86"/><circle cx="252.5" cy="551.5" r="1.86"/><circle cx="253.5" cy="521.5" r="1.86"/><circle cx="253.5" cy="533.5" r="1.86"/><circle cx="254.5" cy="512.5" r="1.86"/><circle cx="254.5" cy="509.5" r="1.86"/><circle cx="255.5" cy="499.5" r="1.86"/><circle cx="255.5" cy="464.5" r="1.86"/><circle cx="255.5" cy="528.5" r="1.86"/><circle cx="256.5" cy="501.5" r="1.86"/><circle cx="256.5" cy="494.5" r="1.86"/><circle cx="257.5" cy="490.5" r="1.86"/><circle cx="257.5" cy="482.5" r="1.86"/><circle cx="258.5" cy="532.5" r="1.86"/><circle cx="258.5" cy="536.5" r="1.86"/><circle cx="259.5" cy="539.5" r="1.86"/><circle cx="259.5" cy="521.5" r="1.86"/><circle cx="260.5" cy="537.5" r="1.86"/><circle cx="260.5" cy="503.5" r="1.86"/><circle cx="261.5" cy="526.5" r="1.86"/><circle cx="261.5" cy="506.5" r="1.86"/><circle cx="261.5" cy="505.5" r="1.86"/><circle cx="262.5" cy="508.5" r="1.86"/><circle cx="262.5" cy="564.5" r="1.86"/><circle cx="263.5" cy="540.5" r="1.86"/><circle cx="264.5" cy="521.5" r="1.86"/><circle cx="264.5" cy="555.5" r="1.86"/><circle cx="265.5" cy="502.5" r="1.86"/><circle cx="265.5" cy="526.5" r="1.86"/><circle cx="266.5" cy="527.5" r="1.86"/><circle cx="266.5" cy="570.5" r="1.86"/><circle cx="267.5" cy="502.5" r="1.86"/><circle cx="267.5" cy="518.5" r="1.86"/><circle cx="268.5" cy="508.5" r="1.86"/><circle cx="268.5" cy="520.5" r="1.86"/><circle cx="268.5" cy="554.5" r="1.86"/><circle cx="269.5" cy="520.5" r="1.86"/><circle cx="269.5" cy="536.5" r="1.86"/><circle cx="270.5" cy="543.5" r="1.86"/><circle cx="270.5" cy="557.5" r="1.86"/><circle cx="271.5" cy="542.5" r="1.86"/><circle cx="271.5" cy="511.5" r="1.86"/><circle cx="272.5" cy="490.5" r="1.86"/><circle cx="272.5" cy="515.5" r="1.86"/><circle cx="273.5" cy="540.5" r="1.86"/><circle cx="273.5" cy="548.5" r="1.86"/><circle cx="274.5" cy="545.5" r="1.86"/><circle cx="274.5" cy="530.5" r="1.86"/><circle cx="274.5" cy="546.5" r="1.86"/><circle cx="275.5" cy="485.5" r="1.86"/><circle cx="275.5" cy="480.5" r="1.86"/><circle cx="276.5" cy="532.5" r="1.86"/><circle cx="276.5" cy="498.5" r="1.86"/><circle cx="277.5" cy="476.5" r="1.86"/><circle cx="277.5" cy="479.5" r="1.86"/><circle cx="278.5" cy="514.5" r="1.86"/><circle cx="278.5" cy="511.5" r="1.86"/><circle cx="279.5" cy="524.5" r="1.86"/><circle cx="279.5" cy="506.5" r="1.86"/><circle cx="280.5" cy="508.5" r="1.86"/><circle cx="280.5" cy="504.5" r="1.86"/><circle cx="281.5" cy="487.5" r="1.86"/><circle cx="281.5" cy="518.5" r="1.86"/><circle cx="281.5" cy="516.5" r="1.86"/><circle cx="282.5" cy="532.5" r="1.86"/><circle cx="282.5" cy="537.5" r="1.86"/><circle cx="283.5" cy="510.5" r="1.86"/><circle cx="283.5" cy="502.5" r="1.86"/><circle cx="284.5" cy="506.5" r="1.86"/><circle cx="284.5" cy="550.5" r="1.86"/><circle cx="285.5" cy="529.5" r="1.86"/><circle cx="285.5" cy="567.5" r="1.86"/><circle cx="286.5" cy="530.5" r="1.86"/><circle cx="286.5" cy="532.5" r="1.86"/><circle cx="287.5" cy="546.5" r="1.86"/><circle cx="287.5" cy="548.5" r="1.86"/><circle cx="287.5" cy="563.5" r="1.86"/><circle cx="288.5" cy="535.5" r="1.86"/><circle cx="288.5" cy="531.5" r="1.86"/><circle cx="289.5" cy="542.5" r="1.86"/><circle cx="289.5" cy="559.5" r="1.86"/><circle cx="290.5" cy="576.5" r="1.86"/><circle cx="290.5" cy="570.5" r="1.86"/><circle cx="291.5" cy="539.5" r="1.86"/><circle cx="291.5" cy="550.5" r="1.86"/><circle cx="292.5" cy="538.5" r="1.86"/><circle cx="292.5" cy="572.5" r="1.86"/><circle cx="293.5" cy="535.5" r="1.86"/><circle cx="293.5" cy="528.5" r="1.86"/><circle cx="294.5" cy="561.5" r="1.86"/><circle cx="294.5" cy="538.5" r="1.86"/><circle cx="294.5" cy="545.5" r="1.86"/><circle cx="295.5" cy="551.5" r="1.86"/><circle cx="295.5" cy="556.5" r="1.86"/><circle cx="296.5" cy="545.5" r="1.86"/><circle cx="296.5" cy="515.5" r="1.86"/><circle cx="297.5" cy="515.5" r="1.86"/><circle cx="297.5" cy="540.5" r="1.86"/><circle cx="298.5" cy="517.5" r="1.86"/><circle cx="298.5" cy="562.5" r="1.86"/><circle cx="299.5" cy="520.5" r="1.86"/><circle cx="299.5" cy="573.5" r="1.86"/><circle cx="300.5" cy="528.5" r="1.86"/><circle cx="300.5" cy="559.5" r="1.86"/><circle cx="300.5" cy="565.5" r="1.86"/><circle cx="301.5" cy="530.5" r="1.86"/><circle cx="301.5" cy="568.5" r="1.86"/><circle cx="302.5" cy="511.5" r="1.86"/><circle cx="302.5" cy="542.5" r="1.86"/><circle cx="303.5" cy="536.5" r="1.86"/><circle cx="303.5" cy="546.5" r="1.86"/><circle cx="304.5" cy="543.5" r="1.86"/><circle cx="304.5" cy="524.5" r="1.86"/><circle cx="305.5" cy="573.5" r="1.86"/><circle cx="305.5" cy="576.5" r="1.86"/><circle cx="306.5" cy="522.5" r="1.86"/><circle cx="306.5" cy="549.5" r="1.86"/><circle cx="307.5" cy="569.5" r="1.86"/><circle cx="307.5" cy="518.5" r="1.86"/><circle cx="307.5" cy="541.5" r="1.86"/><circle cx="308.5" cy="563.5" r="1.86"/><circle cx="308.5" cy="558.5" r="1.86"/><circle cx="309.5" cy="555.5" r="1.86"/><circle cx="309.5" cy="581.5" r="1.86"/><circle cx="310.5" cy="512.5" r="1.86"/><circle cx="310.5" cy="520.5" r="1.86"/><circle cx="311.5" cy="536.5" r="1.86"/><circle cx="311.5" cy="515.5" r="1.86"/><circle cx="312.5" cy="553.5" r="1.86"/><circle cx="312.5" cy="560.5" r="1.86"/><circle cx="313.5" cy="550.5" r="1.86"/><circle cx="313.5" cy="546.5" r="1.86"/><circle cx="314.5" cy="540.5" r="1.86"/><circle cx="314.5" cy="539.5" r="1.86"/><circle cx="315.5" cy="538.5" r="1.86"/><circle cx="315.5" cy="539.5" r="1.86"/><circle cx="316.5" cy="556.5" r="1.86"/><circle cx="316.5" cy="570.5" r="1.86"/><circle cx="317.5" cy="567.5" r="1.86"/><circle cx="317.5" cy="543.5" r="1.86"/><circle cx="318.5" cy="518.5" r="1.86"/><circle cx="318.5" cy="524.5" r="1.86"/><circle cx="319.5" cy="546.5" r="1.86"/><circle cx="319.5" cy="559.5" r="1.86"/><circle cx="320.5" cy="549.5" r="1.86"/><circle cx="320.5" cy="562.5" r="1.86"/><circle cx="320.5" cy="578.5" r="1.86"/><circle cx="321.5" cy="545.5" r="1.86"/><circle cx="321.5" cy="556.5" r="1.86"/><circle cx="322.5" cy="582.5" r="1.86"/><circle cx="322.5" cy="544.5" r="1.86"/><circle cx="323.5" cy="529.5" r="1.86"/><circle cx="323.5" cy="519.5" r="1.86"/><circle cx="324.5" cy="516.5" r="1.86"/><circle cx="324.5" cy="564.5" r="1.86"/><circle cx="325.5" cy="514.5" r="1.86"/><circle cx="325.5" cy="530.5" r="1.86"/><circle cx="326.5" cy="512.5" r="1.86"/><circle cx="326.5" cy="534.5" r="1.86"/><circle cx="326.5" cy="523.5" r="1.86"/><circle cx="327.5" cy="542.5" r="1.86"/><circle cx="327.5" cy="538.5" r="1.86"/><circle cx="328.5" cy="523.5" r="1.86"/><circle cx="328.5" cy="494.5" r="1.86"/><circle cx="329.5" cy="521.5" r="1.86"/><circle cx="329.5" cy="488.5" r="1.86"/><circle cx="330.5" cy="539.5" r="1.86"/><circle cx="330.5" cy="534.5" r="1.86"/><circle cx="331.5" cy="509.5" r="1.86"/><circle cx="331.5" cy="502.5" r="1.86"/><circle cx="332.5" cy="525.5" r="1.86"/><circle cx="332.5" cy="504.5" r="1.86"/><circle cx="333.5" cy="515.5" r="1.86"/><circle cx="333.5" cy="502.5" r="1.86"/><circle cx="333.5" cy="561.5" r="1.86"/><circle cx="334.5" cy="510.5" r="1.86"/><circle cx="334.5" cy="524.5" r="1.86"/><circle cx="335.5" cy="505.5" r="1.86"/><circle cx="335.5" cy="538.5" r="1.86"/><circle cx="336.5" cy="550.5" r="1.86"/><circle cx="336.5" cy="521.5" r="1.86"/><circle cx="337.5" cy="505.5" r="1.86"/><circle cx="337.5" cy="564.5" r="1.86"/><circle cx="338.5" cy="508.5" r="1.86"/><circle cx="338.5" cy="553.5" r="1.86"/><circle cx="339.5" cy="508.5" r="1.86"/><circle cx="339.5" cy="506.5" r="1.86"/><circle cx="339.5" cy="509.5" r="1.86"/><circle cx="340.5" cy="501.5" r="1.86"/><circle cx="340.5" cy="561.5" r="1.86"/><circle cx="341.5" cy="507.5" r="1.86"/><circle cx="341.5" cy="510.5" r="1.86"/><circle cx="342.5" cy="500.5" r="1.86"/><circle cx="342.5" cy="519.5" r="1.86"/><circle cx="343.5" cy="556.5" r="1.86"/><circle cx="343.5" cy="544.5" r="1.86"/><circle cx="344.5" cy="544.5" r="1.86"/><circle cx="344.5" cy="536.5" r="1.86"/><circle cx="345.5" cy="541.5" r="1.86"/><circle cx="346.5" cy="544.5" r="1.86"/><circle cx="346.5" cy="545.5" r="1.86"/><circle cx="346.5" cy="538.5" r="1.86"/><circle cx="347.5" cy="550.5" r="1.86"/><circle cx="347.5" cy="541.5" r="1.86"/><circle cx="348.5" cy="533.5" r="1.86"/><circle cx="348.5" cy="494.5" r="1.86"/><circle cx="349.5" cy="535.5" r="1.86"/><circle cx="349.5" cy="505.5" r="1.86"/><circle cx="350.5" cy="529.5" r="1.86"/><circle cx="350.5" cy="512.5" r="1.86"/><circle cx="351.5" cy="509.5" r="1.86"/><circle cx="351.5" cy="525.5" r="1.86"/><circle cx="352.5" cy="529.5" r="1.86"/><circle cx="352.5" cy="559.5" r="1.86"/><circle cx="352.5" cy="531.5" r="1.86"/><circle cx="353.5" cy="536.5" r="1.86"/><circle cx="353.5" cy="533.5" r="1.86"/><circle cx="354.5" cy="547.5" r="1.86"/><circle cx="354.5" cy="551.5" r="1.86"/><circle cx="355.5" cy="526.5" r="1.86"/><circle cx="355.5" cy="568.5" r="1.86"/><circle cx="356.5" cy="510.5" r="1.86"/><circle cx="356.5" cy="554.5" r="1.86"/><circle cx="357.5" cy="525.5" r="1.86"/><circle cx="357.5" cy="518.5" r="1.86"/><circle cx="358.5" cy="561.5" r="1.86"/><circle cx="358.5" cy="565.5" r="1.86"/><circle cx="359.5" cy="524.5" r="1.86"/><circle cx="359.5" cy="523.5" r="1.86"/><circle cx="359.5" cy="579.5" r="1.86"/><circle cx="360.5" cy="522.5" r="1.86"/><circle cx="360.5" cy="554.5" r="1.86"/><circle cx="361.5" cy="526.5" r="1.86"/><circle cx="361.5" cy="529.5" r="1.86"/><circle cx="362.5" cy="531.5" r="1.86"/><circle cx="362.5" cy="540.5" r="1.86"/><circle cx="363.5" cy="533.5" r="1.86"/><circle cx="363.5" cy="549.5" r="1.86"/><circle cx="364.5" cy="509.5" r="1.86"/><circle cx="364.5" cy="517.5" r="1.86"/><circle cx="365.5" cy="532.5" r="1.86"/><circle cx="365.5" cy="535.5" r="1.86"/><circle cx="365.5" cy="536.5" r="1.86"/><circle cx="366.5" cy="521.5" r="1.86"/><circle cx="366.5" cy="529.5" r="1.86"/><circle cx="367.5" cy="512.5" r="1.86"/><circle cx="367.5" cy="562.5" r="1.86"/><circle cx="368.5" cy="514.5" r="1.86"/><circle cx="368.5" cy="531.5" r="1.86"/><circle cx="369.5" cy="548.5" r="1.86"/><circle cx="369.5" cy="523.5" r="1.86"/><circle cx="370.5" cy="530.5" r="1.86"/><circle cx="370.5" cy="544.5" r="1.86"/><circle cx="371.5" cy="535.5" r="1.86"/><circle cx="371.5" cy="538.5" r="1.86"/><circle cx="372.5" cy="533.5" r="1.86"/><circle cx="372.5" cy="538.5" r="1.86"/><circle cx="372.5" cy="547.5" r="1.86"/><circle cx="373.5" cy="564.5" r="1.86"/><circle cx="373.5" cy="548.5" r="1.86"/><circle cx="374.5" cy="533.5" r="1.86"/><circle cx="374.5" cy="539.5" r="1.86"/><circle cx="375.5" cy="533.5" r="1.86"/><circle cx="375.5" cy="536.5" r="1.86"/><circle cx="376.5" cy="516.5" r="1.86"/><circle cx="376.5" cy="526.5" r="1.86"/><circle cx="377.5" cy="527.5" r="1.86"/><circle cx="377.5" cy="489.5" r="1.86"/><circle cx="378.5" cy="519.5" r="1.86"/><circle cx="378.5" cy="490.5" r="1.86"/><circle cx="378.5" cy="517.5" r="1.86"/><circle cx="379.5" cy="545.5" r="1.86"/><circle cx="379.5" cy="557.5" r="1.86"/><circle cx="380.5" cy="533.5" r="1.86"/><circle cx="380.5" cy="541.5" r="1.86"/><circle cx="381.5" cy="559.5" r="1.86"/><circle cx="381.5" cy="582.5" r="1.86"/><circle cx="382.5" cy="505.5" r="1.86"/><circle cx="382.5" cy="552.5" r="1.86"/><circle cx="383.5" cy="514.5" r="1.86"/><circle cx="383.5" cy="499.5" r="1.86"/><circle cx="384.5" cy="498.5" r="1.86"/><circle cx="384.5" cy="563.5" r="1.86"/><circle cx="385.5" cy="588.5" r="1.86"/><circle cx="385.5" cy="502.5" r="1.86"/><circle cx="385.5" cy="557.5" r="1.86"/><circle cx="386.5" cy="539.5" r="1.86"/><circle cx="386.5" cy="506.5" r="1.86"/><circle cx="387.5" cy="532.5" r="1.86"/><circle cx="387.5" cy="551.5" r="1.86"/><circle cx="388.5" cy="547.5" r="1.86"/><circle cx="388.5" cy="538.5" r="1.86"/><circle cx="389.5" cy="539.5" r="1.86"/><circle cx="389.5" cy="533.5" r="1.86"/><circle cx="390.5" cy="537.5" r="1.86"/><circle cx="390.5" cy="512.5" r="1.86"/><circle cx="391.5" cy="510.5" r="1.86"/><circle cx="391.5" cy="533.5" r="1.86"/><circle cx="392.5" cy="545.5" r="1.86"/><circle cx="392.5" cy="559.5" r="1.86"/><circle cx="392.5" cy="527.5" r="1.86"/><circle cx="393.5" cy="533.5" r="1.86"/><circle cx="393.5" cy="538.5" r="1.86"/><circle cx="394.5" cy="542.5" r="1.86"/><circle cx="394.5" cy="496.5" r="1.86"/><circle cx="395.5" cy="541.5" r="1.86"/><circle cx="395.5" cy="528.5" r="1.86"/><circle cx="396.5" cy="522.5" r="1.86"/><circle cx="396.5" cy="504.5" r="1.86"/><circle cx="397.5" cy="520.5" r="1.86"/><circle cx="397.5" cy="540.5" r="1.86"/><circle cx="398.5" cy="543.5" r="1.86"/><circle cx="398.5" cy="500.5" r="1.86"/><circle cx="398.5" cy="501.5" r="1.86"/><circle cx="399.5" cy="544.5" r="1.86"/><circle cx="399.5" cy="511.5" r="1.86"/><circle cx="400.5" cy="486.5" r="1.86"/><circle cx="400.5" cy="476.5" r="1.86"/><circle cx="401.5" cy="519.5" r="1.86"/><circle cx="401.5" cy="513.5" r="1.86"/><circle cx="402.5" cy="512.5" r="1.86"/><circle cx="402.5" cy="472.5" r="1.86"/><circle cx="403.5" cy="477.5" r="1.86"/><circle cx="403.5" cy="568.5" r="1.86"/><circle cx="404.5" cy="489.5" r="1.86"/><circle cx="404.5" cy="556.5" r="1.86"/><circle cx="405.5" cy="514.5" r="1.86"/><circle cx="405.5" cy="502.5" r="1.86"/><circle cx="405.5" cy="509.5" r="1.86"/><circle cx="406.5" cy="512.5" r="1.86"/><circle cx="407.5" cy="531.5" r="1.86"/><circle cx="407.5" cy="538.5" r="1.86"/><circle cx="408.5" cy="542.5" r="1.86"/><circle cx="408.5" cy="522.5" r="1.86"/><circle cx="409.5" cy="500.5" r="1.86"/><circle cx="409.5" cy="504.5" r="1.86"/><circle cx="410.5" cy="505.5" r="1.86"/><circle cx="410.5" cy="501.5" r="1.86"/><circle cx="411.5" cy="506.5" r="1.86"/><circle cx="411.5" cy="502.5" r="1.86"/><circle cx="411.5" cy="508.5" r="1.86"/><circle cx="412.5" cy="499.5" r="1.86"/><circle cx="412.5" cy="515.5" r="1.86"/><circle cx="413.5" cy="494.5" r="1.86"/><circle cx="413.5" cy="482.5" r="1.86"/><circle cx="414.5" cy="525.5" r="1.86"/><circle cx="414.5" cy="543.5" r="1.86"/><circle cx="415.5" cy="531.5" r="1.86"/><circle cx="415.5" cy="506.5" r="1.86"/><circle cx="416.5" cy="509.5" r="1.86"/><circle cx="416.5" cy="490.5" r="1.86"/><circle cx="417.5" cy="525.5" r="1.86"/><circle cx="417.5" cy="554.5" r="1.86"/><circle cx="418.5" cy="503.5" r="1.86"/><circle cx="418.5" cy="536.5" r="1.86"/><circle cx="418.5" cy="558.5" r="1.86"/><circle cx="419.5" cy="529.5" r="1.86"/><circle cx="420.5" cy="537.5" r="1.86"/><circle cx="420.5" cy="533.5" r="1.86"/><circle cx="421.5" cy="552.5" r="1.86"/><circle cx="421.5" cy="532.5" r="1.86"/><circle cx="422.5" cy="534.5" r="1.86"/><circle cx="422.5" cy="512.5" r="1.86"/><circle cx="423.5" cy="558.5" r="1.86"/><circle cx="423.5" cy="537.5" r="1.86"/><circle cx="424.5" cy="518.5" r="1.86"/><circle cx="424.5" cy="538.5" r="1.86"/><circle cx="424.5" cy="551.5" r="1.86"/><circle cx="425.5" cy="503.5" r="1.86"/><circle cx="425.5" cy="500.5" r="1.86"/><circle cx="426.5" cy="513.5" r="1.86"/><circle cx="426.5" cy="529.5" r="1.86"/><circle cx="427.5" cy="512.5" r="1.86"/><circle cx="427.5" cy="533.5" r="1.86"/><circle cx="428.5" cy="521.5" r="1.86"/><circle cx="428.5" cy="515.5" r="1.86"/><circle cx="429.5" cy="520.5" r="1.86"/><circle cx="429.5" cy="492.5" r="1.86"/><circle cx="430.5" cy="495.5" r="1.86"/><circle cx="430.5" cy="483.5" r="1.86"/><circle cx="431.5" cy="487.5" r="1.86"/><circle cx="431.5" cy="535.5" r="1.86"/><circle cx="431.5" cy="495.5" r="1.86"/><circle cx="432.5" cy="527.5" r="1.86"/><circle cx="432.5" cy="493.5" r="1.86"/><circle cx="433.5" cy="523.5" r="1.86"/><circle cx="433.5" cy="501.5" r="1.86"/><circle cx="434.5" cy="514.5" r="1.86"/><circle cx="435.5" cy="500.5" r="1.86"/><circle cx="435.5" cy="538.5" r="1.86"/><circle cx="436.5" cy="528.5" r="1.86"/><circle cx="436.5" cy="553.5" r="1.86"/><circle cx="437.5" cy="546.5" r="1.86"/><circle cx="437.5" cy="544.5" r="1.86"/><circle cx="437.5" cy="526.5" r="1.86"/><circle cx="438.5" cy="547.5" r="1.86"/><circle cx="438.5" cy="503.5" r="1.86"/><circle cx="439.5" cy="517.5" r="1.86"/><circle cx="439.5" cy="516.5" r="1.86"/><circle cx="440.5" cy="537.5" r="1.86"/><circle cx="440.5" cy="551.5" r="1.86"/><circle cx="441.5" cy="534.5" r="1.86"/><circle cx="441.5" cy="528.5" r="1.86"/><circle cx="442.5" cy="542.5" r="1.86"/><circle cx="442.5" cy="572.5" r="1.86"/><circle cx="443.5" cy="535.5" r="1.86"/><circle cx="443.5" cy="531.5" r="1.86"/><circle cx="444.5" cy="541.5" r="1.86"/><circle cx="444.5" cy="535.5" r="1.86"/><circle cx="444.5" cy="544.5" r="1.86"/><circle cx="445.5" cy="543.5" r="1.86"/><circle cx="445.5" cy="544.5" r="1.86"/><circle cx="446.5" cy="529.5" r="1.86"/><circle cx="446.5" cy="515.5" r="1.86"/><circle cx="447.5" cy="534.5" r="1.86"/><circle cx="447.5" cy="505.5" r="1.86"/><circle cx="448.5" cy="531.5" r="1.86"/><circle cx="448.5" cy="536.5" r="1.86"/><circle cx="449.5" cy="566.5" r="1.86"/><circle cx="449.5" cy="495.5" r="1.86"/><circle cx="450.5" cy="548.5" r="1.86"/><circle cx="450.5" cy="506.5" r="1.86"/><circle cx="450.5" cy="501.5" r="1.86"/><circle cx="451.5" cy="499.5" r="1.86"/><circle cx="451.5" cy="566.5" r="1.86"/><circle cx="452.5" cy="509.5" r="1.86"/><circle cx="452.5" cy="541.5" r="1.86"/><circle cx="453.5" cy="519.5" r="1.86"/><circle cx="453.5" cy="531.5" r="1.86"/><circle cx="454.5" cy="538.5" r="1.86"/><circle cx="454.5" cy="541.5" r="1.86"/><circle cx="455.5" cy="501.5" r="1.86"/><circle cx="455.5" cy="538.5" r="1.86"/><circle cx="456.5" cy="527.5" r="1.86"/><circle cx="456.5" cy="538.5" r="1.86"/><circle cx="457.5" cy="522.5" r="1.86"/><circle cx="457.5" cy="525.5" r="1.86"/><circle cx="457.5" cy="549.5" r="1.86"/><circle cx="458.5" cy="537.5" r="1.86"/><circle cx="458.5" cy="545.5" r="1.86"/><circle cx="459.5" cy="512.5" r="1.86"/><circle cx="459.5" cy="490.5" r="1.86"/><circle cx="460.5" cy="499.5" r="1.86"/><circle cx="460.5" cy="555.5" r="1.86"/><circle cx="461.5" cy="507.5" r="1.86"/><circle cx="461.5" cy="511.5" r="1.86"/><circle cx="462.5" cy="500.5" r="1.86"/><circle cx="462.5" cy="510.5" r="1.86"/><circle cx="463.5" cy="500.5" r="1.86"/><circle cx="463.5" cy="529.5" r="1.86"/><circle cx="463.5" cy="534.5" r="1.86"/><circle cx="464.5" cy="534.5" r="1.86"/><circle cx="464.5" cy="537.5" r="1.86"/><circle cx="465.5" cy="533.5" r="1.86"/><circle cx="465.5" cy="486.5" r="1.86"/><circle cx="466.5" cy="536.5" r="1.86"/><circle cx="466.5" cy="517.5" r="1.86"/><circle cx="467.5" cy="500.5" r="1.86"/><circle cx="468.5" cy="502.5" r="1.86"/><circle cx="468.5" cy="512.5" r="1.86"/><circle cx="469.5" cy="516.5" r="1.86"/><circle cx="469.5" cy="543.5" r="1.86"/><circle cx="470.5" cy="545.5" r="1.86"/><circle cx="470.5" cy="540.5" r="1.86"/><circle cx="470.5" cy="561.5" r="1.86"/><circle cx="471.5" cy="533.5" r="1.86"/><circle cx="471.5" cy="534.5" r="1.86"/><circle cx="472.5" cy="546.5" r="1.86"/><circle cx="472.5" cy="551.5" r="1.86"/><circle cx="473.5" cy="499.5" r="1.86"/><circle cx="473.5" cy="506.5" r="1.86"/><circle cx="474.5" cy="548.5" r="1.86"/><circle cx="474.5" cy="541.5" r="1.86"/><circle cx="475.5" cy="543.5" r="1.86"/><circle cx="475.5" cy="539.5" r="1.86"/><circle cx="476.5" cy="545.5" r="1.86"/><circle cx="476.5" cy="531.5" r="1.86"/><circle cx="476.5" cy="549.5" r="1.86"/><circle cx="477.5" cy="507.5" r="1.86"/><circle cx="477.5" cy="534.5" r="1.86"/><circle cx="478.5" cy="522.5" r="1.86"/><circle cx="478.5" cy="553.5" r="1.86"/><circle cx="479.5" cy="501.5" r="1.86"/><circle cx="479.5" cy="515.5" r="1.86"/><circle cx="480.5" cy="515.5" r="1.86"/><circle cx="480.5" cy="513.5" r="1.86"/><circle cx="481.5" cy="512.5" r="1.86"/><circle cx="481.5" cy="509.5" r="1.86"/><circle cx="482.5" cy="529.5" r="1.86"/><circle cx="482.5" cy="523.5" r="1.86"/><circle cx="483.5" cy="531.5" r="1.86"/><circle cx="483.5" cy="516.5" r="1.86"/><circle cx="483.5" cy="495.5" r="1.86"/><circle cx="484.5" cy="513.5" r="1.86"/><circle cx="484.5" cy="508.5" r="1.86"/><circle cx="485.5" cy="528.5" r="1.86"/><circle cx="485.5" cy="500.5" r="1.86"/><circle cx="486.5" cy="512.5" r="1.86"/><circle cx="486.5" cy="503.5" r="1.86"/><circle cx="487.5" cy="508.5" r="1.86"/><circle cx="487.5" cy="531.5" r="1.86"/><circle cx="488.5" cy="545.5" r="1.86"/><circle cx="488.5" cy="509.5" r="1.86"/><circle cx="489.5" cy="540.5" r="1.86"/><circle cx="489.5" cy="538.5" r="1.86"/><circle cx="489.5" cy="558.5" r="1.86"/><circle cx="490.5" cy="543.5" r="1.86"/><circle cx="490.5" cy="537.5" r="1.86"/><circle cx="491.5" cy="524.5" r="1.86"/><circle cx="491.5" cy="554.5" r="1.86"/><circle cx="492.5" cy="532.5" r="1.86"/><circle cx="492.5" cy="551.5" r="1.86"/><circle cx="493.5" cy="533.5" r="1.86"/><circle cx="493.5" cy="497.5" r="1.86"/><circle cx="494.5" cy="547.5" r="1.86"/><circle cx="494.5" cy="510.5" r="1.86"/><circle cx="495.5" cy="514.5" r="1.86"/><circle cx="495.5" cy="505.5" r="1.86"/><circle cx="496.5" cy="525.5" r="1.86"/><circle cx="496.5" cy="543.5" r="1.86"/><circle cx="496.5" cy="520.5" r="1.86"/><circle cx="497.5" cy="543.5" r="1.86"/><circle cx="497.5" cy="535.5" r="1.86"/><circle cx="498.5" cy="539.5" r="1.86"/><circle cx="498.5" cy="503.5" r="1.86"/><circle cx="499.5" cy="528.5" r="1.86"/><circle cx="499.5" cy="490.5" r="1.86"/><circle cx="500.5" cy="503.5" r="1.86"/><circle cx="500.5" cy="508.5" r="1.86"/><circle cx="501.5" cy="512.5" r="1.86"/><circle cx="501.5" cy="508.5" r="1.86"/><circle cx="502.5" cy="510.5" r="1.86"/><circle cx="502.5" cy="532.5" r="1.86"/><circle cx="502.5" cy="528.5" r="1.86"/><circle cx="503.5" cy="530.5" r="1.86"/><circle cx="503.5" cy="544.5" r="1.86"/><circle cx="504.5" cy="532.5" r="1.86"/><circle cx="504.5" cy="480.5" r="1.86"/><circle cx="505.5" cy="502.5" r="1.86"/><circle cx="505.5" cy="563.5" r="1.86"/><circle cx="506.5" cy="503.5" r="1.86"/><circle cx="506.5" cy="524.5" r="1.86"/><circle cx="507.5" cy="539.5" r="1.86"/><circle cx="507.5" cy="512.5" r="1.86"/><circle cx="508.5" cy="537.5" r="1.86"/><circle cx="508.5" cy="524.5" r="1.86"/><circle cx="509.5" cy="535.5" r="1.86"/><circle cx="509.5" cy="504.5" r="1.86"/><circle cx="509.5" cy="487.5" r="1.86"/><circle cx="510.5" cy="503.5" r="1.86"/><circle cx="510.5" cy="552.5" r="1.86"/><circle cx="511.5" cy="541.5" r="1.86"/><circle cx="511.5" cy="550.5" r="1.86"/><circle cx="512.5" cy="519.5" r="1.86"/><circle cx="513.5" cy="514.5" r="1.86"/><circle cx="513.5" cy="540.5" r="1.86"/><circle cx="514.5" cy="534.5" r="1.86"/><circle cx="514.5" cy="516.5" r="1.86"/><circle cx="515.5" cy="537.5" r="1.86"/><circle cx="515.5" cy="538.5" r="1.86"/><circle cx="516.5" cy="546.5" r="1.86"/><circle cx="516.5" cy="548.5" r="1.86"/><circle cx="517.5" cy="532.5" r="1.86"/><circle cx="517.5" cy="520.5" r="1.86"/><circle cx="518.5" cy="535.5" r="1.86"/><circle cx="518.5" cy="503.5" r="1.86"/><circle cx="519.5" cy="520.5" r="1.86"/><circle cx="519.5" cy="488.5" r="1.86"/><circle cx="520.5" cy="526.5" r="1.86"/><circle cx="520.5" cy="459.5" r="1.86"/><circle cx="521.5" cy="485.5" r="1.86"/><circle cx="521.5" cy="462.5" r="1.86"/><circle cx="522.5" cy="496.5" r="1.86"/><circle cx="522.5" cy="467.5" r="1.86"/><circle cx="523.5" cy="511.5" r="1.86"/><circle cx="523.5" cy="504.5" r="1.86"/><circle cx="524.5" cy="511.5" r="1.86"/><circle cx="524.5" cy="516.5" r="1.86"/><circle cx="525.5" cy="521.5" r="1.86"/><circle cx="526.5" cy="502.5" r="1.86"/><circle cx="526.5" cy="497.5" r="1.86"/><circle cx="527.5" cy="494.5" r="1.86"/><circle cx="527.5" cy="504.5" r="1.86"/><circle cx="528.5" cy="503.5" r="1.86"/><circle cx="528.5" cy="520.5" r="1.86"/><circle cx="528.5" cy="496.5" r="1.86"/><circle cx="529.5" cy="544.5" r="1.86"/><circle cx="529.5" cy="489.5" r="1.86"/><circle cx="530.5" cy="517.5" r="1.86"/><circle cx="530.5" cy="539.5" r="1.86"/><circle cx="531.5" cy="514.5" r="1.86"/><circle cx="531.5" cy="526.5" r="1.86"/><circle cx="532.5" cy="511.5" r="1.86"/><circle cx="532.5" cy="490.5" r="1.86"/><circle cx="533.5" cy="548.5" r="1.86"/><circle cx="533.5" cy="492.5" r="1.86"/><circle cx="534.5" cy="536.5" r="1.86"/><circle cx="534.5" cy="487.5" r="1.86"/><circle cx="535.5" cy="525.5" r="1.86"/><circle cx="535.5" cy="554.5" r="1.86"/><circle cx="535.5" cy="489.5" r="1.86"/><circle cx="536.5" cy="527.5" r="1.86"/><circle cx="536.5" cy="565.5" r="1.86"/><circle cx="537.5" cy="548.5" r="1.86"/><circle cx="537.5" cy="536.5" r="1.86"/><circle cx="538.5" cy="520.5" r="1.86"/><circle cx="538.5" cy="581.5" r="1.86"/><circle cx="539.5" cy="511.5" r="1.86"/><circle cx="539.5" cy="551.5" r="1.86"/><circle cx="540.5" cy="533.5" r="1.86"/><circle cx="540.5" cy="549.5" r="1.86"/><circle cx="541.5" cy="532.5" r="1.86"/><circle cx="541.5" cy="540.5" r="1.86"/><circle cx="541.5" cy="512.5" r="1.86"/><circle cx="542.5" cy="541.5" r="1.86"/><circle cx="542.5" cy="520.5" r="1.86"/><circle cx="543.5" cy="540.5" r="1.86"/><circle cx="543.5" cy="545.5" r="1.86"/><circle cx="544.5" cy="564.5" r="1.86"/><circle cx="544.5" cy="524.5" r="1.86"/><circle cx="545.5" cy="549.5" r="1.86"/><circle cx="545.5" cy="550.5" r="1.86"/><circle cx="546.5" cy="519.5" r="1.86"/><circle cx="546.5" cy="536.5" r="1.86"/><circle cx="547.5" cy="518.5" r="1.86"/><circle cx="547.5" cy="515.5" r="1.86"/><circle cx="548.5" cy="523.5" r="1.86"/><circle cx="548.5" cy="513.5" r="1.86"/><circle cx="548.5" cy="515.5" r="1.86"/><circle cx="549.5" cy="523.5" r="1.86"/><circle cx="549.5" cy="531.5" r="1.86"/><circle cx="550.5" cy="547.5" r="1.86"/><circle cx="550.5" cy="536.5" r="1.86"/><circle cx="551.5" cy="546.5" r="1.86"/><circle cx="551.5" cy="486.5" r="1.86"/><circle cx="552.5" cy="510.5" r="1.86"/><circle cx="552.5" cy="501.5" r="1.86"/><circle cx="553.5" cy="548.5" r="1.86"/><circle cx="553.5" cy="487.5" r="1.86"/><circle cx="554.5" cy="543.5" r="1.86"/><circle cx="554.5" cy="535.5" r="1.86"/><circle cx="554.5" cy="515.5" r="1.86"/><circle cx="555.5" cy="540.5" r="1.86"/><circle cx="555.5" cy="506.5" r="1.86"/><circle cx="556.5" cy="512.5" r="1.86"/><circle cx="556.5" cy="488.5" r="1.86"/><circle cx="557.5" cy="507.5" r="1.86"/><circle cx="557.5" cy="496.5" r="1.86"/><circle cx="558.5" cy="500.5" r="1.86"/><circle cx="558.5" cy="552.5" r="1.86"/><circle cx="559.5" cy="501.5" r="1.86"/><circle cx="559.5" cy="533.5" r="1.86"/><circle cx="560.5" cy="531.5" r="1.86"/><circle cx="560.5" cy="532.5" r="1.86"/><circle cx="561.5" cy="502.5" r="1.86"/><circle cx="561.5" cy="500.5" r="1.86"/><circle cx="561.5" cy="505.5" r="1.86"/><circle cx="562.5" cy="518.5" r="1.86"/><circle cx="562.5" cy="545.5" r="1.86"/><circle cx="563.5" cy="536.5" r="1.86"/><circle cx="563.5" cy="538.5" r="1.86"/><circle cx="564.5" cy="515.5" r="1.86"/><circle cx="564.5" cy="513.5" r="1.86"/><circle cx="565.5" cy="517.5" r="1.86"/><circle cx="565.5" cy="523.5" r="1.86"/><circle cx="566.5" cy="528.5" r="1.86"/><circle cx="566.5" cy="509.5" r="1.86"/><circle cx="567.5" cy="504.5" r="1.86"/><circle cx="567.5" cy="572.5" r="1.86"/><circle cx="567.5" cy="500.5" r="1.86"/><circle cx="568.5" cy="517.5" r="1.86"/><circle cx="568.5" cy="515.5" r="1.86"/><circle cx="569.5" cy="546.5" r="1.86"/><circle cx="569.5" cy="512.5" r="1.86"/><circle cx="570.5" cy="528.5" r="1.86"/><circle cx="570.5" cy="547.5" r="1.86"/><circle cx="571.5" cy="543.5" r="1.86"/><circle cx="571.5" cy="526.5" r="1.86"/><circle cx="572.5" cy="541.5" r="1.86"/><circle cx="572.5" cy="529.5" r="1.86"/><circle cx="573.5" cy="548.5" r="1.86"/><circle cx="573.5" cy="492.5" r="1.86"/><circle cx="574.5" cy="537.5" r="1.86"/><circle cx="574.5" cy="534.5" r="1.86"/><circle cx="574.5" cy="532.5" r="1.86"/><circle cx="575.5" cy="545.5" r="1.86"/><circle cx="575.5" cy="549.5" r="1.86"/><circle cx="576.5" cy="523.5" r="1.86"/><circle cx="576.5" cy="518.5" r="1.86"/><circle cx="577.5" cy="519.5" r="1.86"/><circle cx="577.5" cy="549.5" r="1.86"/><circle cx="578.5" cy="506.5" r="1.86"/><circle cx="578.5" cy="554.5" r="1.86"/><circle cx="579.5" cy="523.5" r="1.86"/><circle cx="579.5" cy="500.5" r="1.86"/><circle cx="580.5" cy="509.5" r="1.86"/><circle cx="580.5" cy="498.5" r="1.86"/><circle cx="580.5" cy="517.5" r="1.86"/><circle cx="581.5" cy="532.5" r="1.86"/><circle cx="581.5" cy="509.5" r="1.86"/><circle cx="582.5" cy="499.5" r="1.86"/><circle cx="583.5" cy="514.5" r="1.86"/><circle cx="583.5" cy="504.5" r="1.86"/><circle cx="584.5" cy="500.5" r="1.86"/><circle cx="584.5" cy="496.5" r="1.86"/><circle cx="585.5" cy="500.5" r="1.86"/><circle cx="585.5" cy="515.5" r="1.86"/><circle cx="586.5" cy="501.5" r="1.86"/><circle cx="586.5" cy="529.5" r="1.86"/><circle cx="587.5" cy="504.5" r="1.86"/><circle cx="587.5" cy="518.5" r="1.86"/><circle cx="587.5" cy="499.5" r="1.86"/><circle cx="588.5" cy="498.5" r="1.86"/><circle cx="588.5" cy="507.5" r="1.86"/><circle cx="589.5" cy="507.5" r="1.86"/><circle cx="589.5" cy="493.5" r="1.86"/><circle cx="590.5" cy="502.5" r="1.86"/><circle cx="590.5" cy="485.5" r="1.86"/><circle cx="591.5" cy="477.5" r="1.86"/><circle cx="591.5" cy="518.5" r="1.86"/><circle cx="592.5" cy="504.5" r="1.86"/><circle cx="592.5" cy="497.5" r="1.86"/><circle cx="593.5" cy="508.5" r="1.86"/><circle cx="593.5" cy="487.5" r="1.86"/><circle cx="593.5" cy="519.5" r="1.86"/><circle cx="594.5" cy="520.5" r="1.86"/><circle cx="594.5" cy="485.5" r="1.86"/><circle cx="595.5" cy="494.5" r="1.86"/><circle cx="595.5" cy="487.5" r="1.86"/><circle cx="596.5" cy="537.5" r="1.86"/><circle cx="596.5" cy="539.5" r="1.86"/><circle cx="597.5" cy="573.5" r="1.86"/><circle cx="597.5" cy="544.5" r="1.86"/><circle cx="598.5" cy="522.5" r="1.86"/><circle cx="598.5" cy="520.5" r="1.86"/><circle cx="599.5" cy="539.5" r="1.86"/><circle cx="599.5" cy="552.5" r="1.86"/><circle cx="600.5" cy="548.5" r="1.86"/><circle cx="600.5" cy="557.5" r="1.86"/><circle cx="600.5" cy="562.5" r="1.86"/><circle cx="601.5" cy="545.5" r="1.86"/><circle cx="601.5" cy="535.5" r="1.86"/><circle cx="602.5" cy="564.5" r="1.86"/><circle cx="602.5" cy="544.5" r="1.86"/><circle cx="603.5" cy="575.5" r="1.86"/><circle cx="603.5" cy="585.5" r="1.86"/><circle cx="604.5" cy="531.5" r="1.86"/><circle cx="604.5" cy="532.5" r="1.86"/><circle cx="605.5" cy="543.5" r="1.86"/><circle cx="605.5" cy="565.5" r="1.86"/><circle cx="606.5" cy="540.5" r="1.86"/><circle cx="606.5" cy="558.5" r="1.86"/><circle cx="606.5" cy="532.5" r="1.86"/><circle cx="607.5" cy="562.5" r="1.86"/><circle cx="607.5" cy="544.5" r="1.86"/><circle cx="608.5" cy="556.5" r="1.86"/><circle cx="608.5" cy="573.5" r="1.86"/><circle cx="609.5" cy="534.5" r="1.86"/><circle cx="609.5" cy="574.5" r="1.86"/><circle cx="610.5" cy="579.5" r="1.86"/><circle cx="610.5" cy="565.5" r="1.86"/><circle cx="611.5" cy="532.5" r="1.86"/><circle cx="611.5" cy="556.5" r="1.86"/><circle cx="612.5" cy="577.5" r="1.86"/><circle cx="612.5" cy="552.5" r="1.86"/><circle cx="613.5" cy="530.5" r="1.86"/><circle cx="613.5" cy="543.5" r="1.86"/><circle cx="613.5" cy="573.5" r="1.86"/><circle cx="614.5" cy="541.5" r="1.86"/><circle cx="614.5" cy="549.5" r="1.86"/><circle cx="615.5" cy="543.5" r="1.86"/><circle cx="615.5" cy="532.5" r="1.86"/><circle cx="616.5" cy="561.5" r="1.86"/><circle cx="616.5" cy="556.5" r="1.86"/><circle cx="617.5" cy="518.5" r="1.86"/><circle cx="617.5" cy="571.5" r="1.86"/><circle cx="618.5" cy="517.5" r="1.86"/><circle cx="618.5" cy="557.5" r="1.86"/><circle cx="619.5" cy="499.5" r="1.86"/><circle cx="619.5" cy="512.5" r="1.86"/><circle cx="619.5" cy="513.5" r="1.86"/><circle cx="620.5" cy="486.5" r="1.86"/><circle cx="620.5" cy="498.5" r="1.86"/><circle cx="621.5" cy="489.5" r="1.86"/><circle cx="621.5" cy="498.5" r="1.86"/><circle cx="622.5" cy="523.5" r="1.86"/><circle cx="622.5" cy="539.5" r="1.86"/><circle cx="623.5" cy="541.5" r="1.86"/><circle cx="623.5" cy="484.5" r="1.86"/><circle cx="624.5" cy="545.5" r="1.86"/><circle cx="624.5" cy="530.5" r="1.86"/><circle cx="625.5" cy="541.5" r="1.86"/><circle cx="625.5" cy="535.5" r="1.86"/><circle cx="626.5" cy="518.5" r="1.86"/><circle cx="626.5" cy="536.5" r="1.86"/><circle cx="626.5" cy="515.5" r="1.86"/><circle cx="627.5" cy="509.5" r="1.86"/><circle cx="627.5" cy="505.5" r="1.86"/><circle cx="628.5" cy="521.5" r="1.86"/><circle cx="628.5" cy="501.5" r="1.86"/><circle cx="629.5" cy="506.5" r="1.86"/><circle cx="629.5" cy="550.5" r="1.86"/><circle cx="630.5" cy="535.5" r="1.86"/><circle cx="630.5" cy="523.5" r="1.86"/><circle cx="631.5" cy="535.5" r="1.86"/><circle cx="631.5" cy="549.5" r="1.86"/><circle cx="632.5" cy="545.5" r="1.86"/><circle cx="632.5" cy="548.5" r="1.86"/><circle cx="632.5" cy="531.5" r="1.86"/><circle cx="633.5" cy="572.5" r="1.86"/><circle cx="633.5" cy="530.5" r="1.86"/><circle cx="634.5" cy="539.5" r="1.86"/><circle cx="634.5" cy="561.5" r="1.86"/><circle cx="635.5" cy="536.5" r="1.86"/><circle cx="635.5" cy="517.5" r="1.86"/><circle cx="636.5" cy="548.5" r="1.86"/><circle cx="636.5" cy="524.5" r="1.86"/><circle cx="637.5" cy="544.5" r="1.86"/><circle cx="637.5" cy="488.5" r="1.86"/><circle cx="638.5" cy="495.5" r="1.86"/><circle cx="638.5" cy="519.5" r="1.86"/><circle cx="639.5" cy="512.5" r="1.86"/><circle cx="639.5" cy="510.5" r="1.86"/><circle cx="639.5" cy="484.5" r="1.86"/><circle cx="640.5" cy="514.5" r="1.86"/><circle cx="640.5" cy="507.5" r="1.86"/><circle cx="641.5" cy="514.5" r="1.86"/><circle cx="641.5" cy="495.5" r="1.86"/><circle cx="642.5" cy="542.5" r="1.86"/><circle cx="642.5" cy="497.5" r="1.86"/><circle cx="643.5" cy="513.5" r="1.86"/><circle cx="643.5" cy="494.5" r="1.86"/><circle cx="644.5" cy="513.5" r="1.86"/><circle cx="644.5" cy="510.5" r="1.86"/><circle cx="645.5" cy="521.5" r="1.86"/><circle cx="645.5" cy="512.5" r="1.86"/><circle cx="645.5" cy="504.5" r="1.86"/><circle cx="646.5" cy="498.5" r="1.86"/><circle cx="646.5" cy="505.5" r="1.86"/><circle cx="647.5" cy="498.5" r="1.86"/><circle cx="647.5" cy="503.5" r="1.86"/><circle cx="648.5" cy="516.5" r="1.86"/><circle cx="648.5" cy="530.5" r="1.86"/><circle cx="649.5" cy="534.5" r="1.86"/><circle cx="649.5" cy="507.5" r="1.86"/><circle cx="650.5" cy="528.5" r="1.86"/><circle cx="650.5" cy="550.5" r="1.86"/><circle cx="651.5" cy="509.5" r="1.86"/><circle cx="651.5" cy="511.5" r="1.86"/><circle cx="652.5" cy="515.5" r="1.86"/><circle cx="652.5" cy="527.5" r="1.86"/><circle cx="652.5" cy="537.5" r="1.86"/><circle cx="653.5" cy="526.5" r="1.86"/><circle cx="653.5" cy="534.5" r="1.86"/><circle cx="654.5" cy="524.5" r="1.86"/><circle cx="654.5" cy="507.5" r="1.86"/><circle cx="655.5" cy="539.5" r="1.86"/><circle cx="655.5" cy="473.5" r="1.86"/><circle cx="656.5" cy="496.5" r="1.86"/><circle cx="656.5" cy="528.5" r="1.86"/><circle cx="657.5" cy="503.5" r="1.86"/><circle cx="657.5" cy="514.5" r="1.86"/><circle cx="658.5" cy="486.5" r="1.86"/><circle cx="658.5" cy="489.5" r="1.86"/><circle cx="658.5" cy="536.5" r="1.86"/><circle cx="659.5" cy="493.5" r="1.86"/><circle cx="659.5" cy="487.5" r="1.86"/><circle cx="660.5" cy="533.5" r="1.86"/><circle cx="660.5" cy="538.5" r="1.86"/><circle cx="661.5" cy="497.5" r="1.86"/><circle cx="661.5" cy="486.5" r="1.86"/><circle cx="662.5" cy="506.5" r="1.86"/><circle cx="662.5" cy="515.5" r="1.86"/><circle cx="663.5" cy="504.5" r="1.86"/><circle cx="663.5" cy="526.5" r="1.86"/><circle cx="664.5" cy="517.5" r="1.86"/><circle cx="664.5" cy="521.5" r="1.86"/><circle cx="665.5" cy="503.5" r="1.86"/><circle cx="665.5" cy="531.5" r="1.86"/><circle cx="665.5" cy="510.5" r="1.86"/><circle cx="666.5" cy="530.5" r="1.86"/><circle cx="666.5" cy="484.5" r="1.86"/><circle cx="667.5" cy="531.5" r="1.86"/><circle cx="667.5" cy="497.5" r="1.86"/><circle cx="668.5" cy="513.5" r="1.86"/><circle cx="668.5" cy="527.5" r="1.86"/><circle cx="669.5" cy="509.5" r="1.86"/><circle cx="669.5" cy="510.5" r="1.86"/><circle cx="670.5" cy="511.5" r="1.86"/><circle cx="670.5" cy="503.5" r="1.86"/><circle cx="671.5" cy="522.5" r="1.86"/><circle cx="671.5" cy="495.5" r="1.86"/><circle cx="671.5" cy="532.5" r="1.86"/><circle cx="672.5" cy="517.5" r="1.86"/><circle cx="673.5" cy="507.5" r="1.86"/><circle cx="673.5" cy="493.5" r="1.86"/><circle cx="674.5" cy="490.5" r="1.86"/><circle cx="674.5" cy="488.5" r="1.86"/><circle cx="675.5" cy="510.5" r="1.86"/><circle cx="675.5" cy="462.5" r="1.86"/><circle cx="676.5" cy="531.5" r="1.86"/><circle cx="676.5" cy="495.5" r="1.86"/><circle cx="677.5" cy="537.5" r="1.86"/><circle cx="677.5" cy="468.5" r="1.86"/><circle cx="678.5" cy="524.5" r="1.86"/><circle cx="678.5" cy="525.5" r="1.86"/><circle cx="678.5" cy="499.5" r="1.86"/><circle cx="679.5" cy="462.5" r="1.86"/><circle cx="679.5" cy="484.5" r="1.86"/><circle cx="680.5" cy="472.5" r="1.86"/><circle cx="680.5" cy="519.5" r="1.86"/><circle cx="681.5" cy="521.5" r="1.86"/><circle cx="681.5" cy="517.5" r="1.86"/><circle cx="682.5" cy="492.5" r="1.86"/><circle cx="682.5" cy="503.5" r="1.86"/><circle cx="683.5" cy="493.5" r="1.86"/><circle cx="683.5" cy="508.5" r="1.86"/><circle cx="684.5" cy="516.5" r="1.86"/><circle cx="684.5" cy="503.5" r="1.86"/><circle cx="684.5" cy="514.5" r="1.86"/><circle cx="685.5" cy="514.5" r="1.86"/><circle cx="685.5" cy="482.5" r="1.86"/><circle cx="686.5" cy="495.5" r="1.86"/><circle cx="686.5" cy="485.5" r="1.86"/><circle cx="687.5" cy="472.5" r="1.86"/><circle cx="687.5" cy="488.5" r="1.86"/><circle cx="688.5" cy="511.5" r="1.86"/><circle cx="688.5" cy="491.5" r="1.86"/><circle cx="689.5" cy="520.5" r="1.86"/><circle cx="689.5" cy="477.5" r="1.86"/><circle cx="690.5" cy="506.5" r="1.86"/><circle cx="690.5" cy="500.5" r="1.86"/><circle cx="691.5" cy="523.5" r="1.86"/><circle cx="691.5" cy="500.5" r="1.86"/><circle cx="691.5" cy="504.5" r="1.86"/><circle cx="692.5" cy="499.5" r="1.86"/><circle cx="692.5" cy="524.5" r="1.86"/><circle cx="693.5" cy="523.5" r="1.86"/><circle cx="693.5" cy="511.5" r="1.86"/><circle cx="694.5" cy="528.5" r="1.86"/><circle cx="694.5" cy="534.5" r="1.86"/><circle cx="695.5" cy="528.5" r="1.86"/><circle cx="695.5" cy="525.5" r="1.86"/><circle cx="696.5" cy="535.5" r="1.86"/><circle cx="696.5" cy="506.5" r="1.86"/><circle cx="697.5" cy="524.5" r="1.86"/><circle cx="697.5" cy="529.5" r="1.86"/><circle cx="698.5" cy="517.5" r="1.86"/><circle cx="698.5" cy="538.5" r="1.86"/><circle cx="698.5" cy="535.5" r="1.86"/><circle cx="699.5" cy="531.5" r="1.86"/><circle cx="699.5" cy="530.5" r="1.86"/><circle cx="700.5" cy="508.5" r="1.86"/><circle cx="700.5" cy="535.5" r="1.86"/><circle cx="701.5" cy="507.5" r="1.86"/><circle cx="701.5" cy="488.5" r="1.86"/><circle cx="702.5" cy="511.5" r="1.86"/><circle cx="702.5" cy="507.5" r="1.86"/><circle cx="703.5" cy="513.5" r="1.86"/><circle cx="703.5" cy="500.5" r="1.86"/><circle cx="704.5" cy="527.5" r="1.86"/><circle cx="704.5" cy="530.5" r="1.86"/><circle cx="704.5" cy="500.5" r="1.86"/><circle cx="705.5" cy="525.5" r="1.86"/><circle cx="705.5" cy="513.5" r="1.86"/><circle cx="706.5" cy="511.5" r="1.86"/><circle cx="706.5" cy="496.5" r="1.86"/><circle cx="707.5" cy="509.5" r="1.86"/><circle cx="707.5" cy="504.5" r="1.86"/><circle cx="708.5" cy="506.5" r="1.86"/><circle cx="708.5" cy="500.5" r="1.86"/><circle cx="709.5" cy="506.5" r="1.86"/><circle cx="709.5" cy="524.5" r="1.86"/><circle cx="710.5" cy="524.5" r="1.86"/><circle cx="710.5" cy="484.5" r="1.86"/><circle cx="711.5" cy="528.5" r="1.86"/><circle cx="711.5" cy="526.5" r="1.86"/><circle cx="711.5" cy="488.5" r="1.86"/><circle cx="712.5" cy="497.5" r="1.86"/><circle cx="712.5" cy="478.5" r="1.86"/><circle cx="713.5" cy="528.5" r="1.86"/><circle cx="713.5" cy="502.5" r="1.86"/><circle cx="714.5" cy="533.5" r="1.86"/><circle cx="714.5" cy="488.5" r="1.86"/><circle cx="715.5" cy="540.5" r="1.86"/><circle cx="715.5" cy="482.5" r="1.86"/><circle cx="716.5" cy="533.5" r="1.86"/><circle cx="716.5" cy="509.5" r="1.86"/><circle cx="717.5" cy="513.5" r="1.86"/><circle cx="717.5" cy="519.5" r="1.86"/><circle cx="717.5" cy="528.5" r="1.86"/><circle cx="718.5" cy="535.5" r="1.86"/><circle cx="718.5" cy="550.5" r="1.86"/><circle cx="719.5" cy="507.5" r="1.86"/><circle cx="719.5" cy="516.5" r="1.86"/><circle cx="720.5" cy="508.5" r="1.86"/><circle cx="720.5" cy="535.5" r="1.86"/><circle cx="721.5" cy="536.5" r="1.86"/><circle cx="721.5" cy="557.5" r="1.86"/><circle cx="722.5" cy="538.5" r="1.86"/><circle cx="722.5" cy="552.5" r="1.86"/><circle cx="723.5" cy="548.5" r="1.86"/><circle cx="723.5" cy="529.5" r="1.86"/><circle cx="724.5" cy="515.5" r="1.86"/><circle cx="724.5" cy="536.5" r="1.86"/><circle cx="724.5" cy="538.5" r="1.86"/><circle cx="725.5" cy="549.5" r="1.86"/><circle cx="725.5" cy="492.5" r="1.86"/><circle cx="726.5" cy="531.5" r="1.86"/><circle cx="726.5" cy="536.5" r="1.86"/><circle cx="727.5" cy="497.5" r="1.86"/><circle cx="727.5" cy="507.5" r="1.86"/><circle cx="728.5" cy="504.5" r="1.86"/><circle cx="728.5" cy="553.5" r="1.86"/><circle cx="729.5" cy="539.5" r="1.86"/><circle cx="729.5" cy="546.5" r="1.86"/><circle cx="730.5" cy="528.5" r="1.86"/><circle cx="730.5" cy="509.5" r="1.86"/><circle cx="730.5" cy="560.5" r="1.86"/><circle cx="731.5" cy="509.5" r="1.86"/><circle cx="731.5" cy="555.5" r="1.86"/><circle cx="732.5" cy="511.5" r="1.86"/><circle cx="732.5" cy="550.5" r="1.86"/><circle cx="733.5" cy="518.5" r="1.86"/><circle cx="733.5" cy="556.5" r="1.86"/><circle cx="734.5" cy="529.5" r="1.86"/><circle cx="734.5" cy="542.5" r="1.86"/><circle cx="735.5" cy="558.5" r="1.86"/><circle cx="735.5" cy="561.5" r="1.86"/><circle cx="736.5" cy="532.5" r="1.86"/><circle cx="736.5" cy="549.5" r="1.86"/><circle cx="737.5" cy="541.5" r="1.86"/><circle cx="737.5" cy="550.5" r="1.86"/><circle cx="738.5" cy="545.5" r="1.86"/><circle cx="738.5" cy="534.5" r="1.86"/><circle cx="739.5" cy="514.5" r="1.86"/><circle cx="739.5" cy="523.5" r="1.86"/><circle cx="740.5" cy="547.5" r="1.86"/><circle cx="740.5" cy="549.5" r="1.86"/><circle cx="741.5" cy="562.5" r="1.86"/><circle cx="741.5" cy="538.5" r="1.86"/><circle cx="742.5" cy="539.5" r="1.86"/><circle cx="742.5" cy="536.5" r="1.86"/><circle cx="743.5" cy="536.5" r="1.86"/><circle cx="743.5" cy="534.5" r="1.86"/><circle cx="743.5" cy="537.5" r="1.86"/><circle cx="744.5" cy="540.5" r="1.86"/><circle cx="744.5" cy="543.5" r="1.86"/><circle cx="745.5" cy="539.5" r="1.86"/><circle cx="745.5" cy="577.5" r="1.86"/><circle cx="746.5" cy="555.5" r="1.86"/><circle cx="746.5" cy="567.5" r="1.86"/><circle cx="747.5" cy="566.5" r="1.86"/><circle cx="747.5" cy="562.5" r="1.86"/><circle cx="748.5" cy="542.5" r="1.86"/><circle cx="748.5" cy="574.5" r="1.86"/><circle cx="749.5" cy="542.5" r="1.86"/><circle cx="749.5" cy="553.5" r="1.86"/><circle cx="750.5" cy="556.5" r="1.86"/><circle cx="750.5" cy="541.5" r="1.86"/><circle cx="750.5" cy="563.5" r="1.86"/><circle cx="751.5" cy="585.5" r="1.86"/><circle cx="751.5" cy="568.5" r="1.86"/><circle cx="752.5" cy="550.5" r="1.86"/><circle cx="752.5" cy="581.5" r="1.86"/><circle cx="753.5" cy="540.5" r="1.86"/><circle cx="753.5" cy="576.5" r="1.86"/><circle cx="754.5" cy="572.5" r="1.86"/><circle cx="754.5" cy="551.5" r="1.86"/><circle cx="755.5" cy="566.5" r="1.86"/><circle cx="755.5" cy="549.5" r="1.86"/><circle cx="756.5" cy="555.5" r="1.86"/><circle cx="756.5" cy="541.5" r="1.86"/><circle cx="756.5" cy="564.5" r="1.86"/><circle cx="757.5" cy="541.5" r="1.86"/><circle cx="757.5" cy="571.5" r="1.86"/><circle cx="758.5" cy="531.5" r="1.86"/><circle cx="758.5" cy="564.5" r="1.86"/><circle cx="759.5" cy="536.5" r="1.86"/><circle cx="759.5" cy="552.5" r="1.86"/><circle cx="760.5" cy="533.5" r="1.86"/><circle cx="761.5" cy="549.5" r="1.86"/><circle cx="761.5" cy="564.5" r="1.86"/><circle cx="762.5" cy="538.5" r="1.86"/><circle cx="762.5" cy="554.5" r="1.86"/><circle cx="763.5" cy="522.5" r="1.86"/><circle cx="763.5" cy="511.5" r="1.86"/><circle cx="763.5" cy="517.5" r="1.86"/><circle cx="764.5" cy="507.5" r="1.86"/><circle cx="764.5" cy="496.5" r="1.86"/><circle cx="765.5" cy="545.5" r="1.86"/><circle cx="765.5" cy="527.5" r="1.86"/><circle cx="766.5" cy="547.5" r="1.86"/><circle cx="766.5" cy="530.5" r="1.86"/><circle cx="767.5" cy="527.5" r="1.86"/><circle cx="767.5" cy="493.5" r="1.86"/><circle cx="768.5" cy="518.5" r="1.86"/><circle cx="768.5" cy="517.5" r="1.86"/><circle cx="769.5" cy="528.5" r="1.86"/><circle cx="769.5" cy="538.5" r="1.86"/><circle cx="769.5" cy="515.5" r="1.86"/><circle cx="770.5" cy="528.5" r="1.86"/><circle cx="770.5" cy="496.5" r="1.86"/><circle cx="771.5" cy="500.5" r="1.86"/><circle cx="771.5" cy="491.5" r="1.86"/><circle cx="772.5" cy="515.5" r="1.86"/><circle cx="772.5" cy="525.5" r="1.86"/><circle cx="773.5" cy="538.5" r="1.86"/><circle cx="773.5" cy="533.5" r="1.86"/><circle cx="774.5" cy="544.5" r="1.86"/><circle cx="774.5" cy="532.5" r="1.86"/><circle cx="775.5" cy="548.5" r="1.86"/><circle cx="775.5" cy="485.5" r="1.86"/><circle cx="776.5" cy="540.5" r="1.86"/><circle cx="776.5" cy="541.5" r="1.86"/><circle cx="776.5" cy="496.5" r="1.86"/><circle cx="777.5" cy="560.5" r="1.86"/><circle cx="777.5" cy="530.5" r="1.86"/><circle cx="778.5" cy="529.5" r="1.86"/><circle cx="778.5" cy="501.5" r="1.86"/><circle cx="779.5" cy="509.5" r="1.86"/><circle cx="779.5" cy="521.5" r="1.86"/><circle cx="780.5" cy="509.5" r="1.86"/><circle cx="780.5" cy="512.5" r="1.86"/><circle cx="781.5" cy="540.5" r="1.86"/><circle cx="781.5" cy="509.5" r="1.86"/><circle cx="782.5" cy="510.5" r="1.86"/><circle cx="782.5" cy="499.5" r="1.86"/><circle cx="782.5" cy="498.5" r="1.86"/><circle cx="783.5" cy="500.5" r="1.86"/><circle cx="783.5" cy="546.5" r="1.86"/><circle cx="784.5" cy="547.5" r="1.86"/><circle cx="784.5" cy="527.5" r="1.86"/><circle cx="785.5" cy="512.5" r="1.86"/><circle cx="785.5" cy="506.5" r="1.86"/><circle cx="786.5" cy="508.5" r="1.86"/><circle cx="786.5" cy="528.5" r="1.86"/><circle cx="787.5" cy="502.5" r="1.86"/><circle cx="787.5" cy="524.5" r="1.86"/><circle cx="788.5" cy="539.5" r="1.86"/><circle cx="788.5" cy="502.5" r="1.86"/><circle cx="789.5" cy="540.5" r="1.86"/><circle cx="789.5" cy="558.5" r="1.86"/><circle cx="789.5" cy="566.5" r="1.86"/><circle cx="790.5" cy="561.5" r="1.86"/><circle cx="790.5" cy="567.5" r="1.86"/><circle cx="791.5" cy="515.5" r="1.86"/><circle cx="791.5" cy="537.5" r="1.86"/><circle cx="792.5" cy="517.5" r="1.86"/><circle cx="792.5" cy="556.5" r="1.86"/><circle cx="793.5" cy="498.5" r="1.86"/><circle cx="793.5" cy="500.5" r="1.86"/><circle cx="794.5" cy="514.5" r="1.86"/><circle cx="794.5" cy="535.5" r="1.86"/><circle cx="795.5" cy="533.5" r="1.86"/><circle cx="795.5" cy="498.5" r="1.86"/><circle cx="795.5" cy="524.5" r="1.86"/><circle cx="796.5" cy="504.5" r="1.86"/><circle cx="796.5" cy="555.5" r="1.86"/><circle cx="797.5" cy="539.5" r="1.86"/><circle cx="797.5" cy="509.5" r="1.86"/><circle cx="798.5" cy="543.5" r="1.86"/><circle cx="798.5" cy="551.5" r="1.86"/><circle cx="799.5" cy="504.5" r="1.86"/><circle cx="799.5" cy="536.5" r="1.86"/><circle cx="800.5" cy="513.5" r="1.86"/><circle cx="800.5" cy="510.5" r="1.86"/><circle cx="801.5" cy="499.5" r="1.86"/><circle cx="801.5" cy="494.5" r="1.86"/><circle cx="802.5" cy="534.5" r="1.86"/><circle cx="802.5" cy="523.5" r="1.86"/><circle cx="802.5" cy="550.5" r="1.86"/><circle cx="803.5" cy="500.5" r="1.86"/><circle cx="803.5" cy="501.5" r="1.86"/><circle cx="804.5" cy="515.5" r="1.86"/><circle cx="804.5" cy="507.5" r="1.86"/><circle cx="805.5" cy="535.5" r="1.86"/><circle cx="805.5" cy="542.5" r="1.86"/><circle cx="806.5" cy="540.5" r="1.86"/><circle cx="806.5" cy="510.5" r="1.86"/><circle cx="807.5" cy="543.5" r="1.86"/><circle cx="807.5" cy="539.5" r="1.86"/><circle cx="808.5" cy="533.5" r="1.86"/><circle cx="808.5" cy="540.5" r="1.86"/><circle cx="808.5" cy="539.5" r="1.86"/><circle cx="809.5" cy="502.5" r="1.86"/><circle cx="809.5" cy="531.5" r="1.86"/><circle cx="810.5" cy="522.5" r="1.86"/><circle cx="810.5" cy="541.5" r="1.86"/><circle cx="811.5" cy="529.5" r="1.86"/><circle cx="811.5" cy="477.5" r="1.86"/><circle cx="812.5" cy="516.5" r="1.86"/><circle cx="812.5" cy="484.5" r="1.86"/><circle cx="813.5" cy="500.5" r="1.86"/><circle cx="813.5" cy="518.5" r="1.86"/><circle cx="814.5" cy="519.5" r="1.86"/><circle cx="814.5" cy="505.5" r="1.86"/><circle cx="815.5" cy="510.5" r="1.86"/><circle cx="815.5" cy="502.5" r="1.86"/><circle cx="815.5" cy="509.5" r="1.86"/><circle cx="816.5" cy="494.5" r="1.86"/><circle cx="816.5" cy="531.5" r="1.86"/><circle cx="817.5" cy="543.5" r="1.86"/><circle cx="817.5" cy="540.5" r="1.86"/><circle cx="818.5" cy="498.5" r="1.86"/><circle cx="818.5" cy="518.5" r="1.86"/><circle cx="819.5" cy="512.5" r="1.86"/><circle cx="819.5" cy="493.5" r="1.86"/><circle cx="820.5" cy="512.5" r="1.86"/><circle cx="820.5" cy="511.5" r="1.86"/><circle cx="821.5" cy="498.5" r="1.86"/><circle cx="821.5" cy="514.5" r="1.86"/><circle cx="821.5" cy="506.5" r="1.86"/><circle cx="822.5" cy="530.5" r="1.86"/><circle cx="822.5" cy="512.5" r="1.86"/><circle cx="823.5" cy="497.5" r="1.86"/><circle cx="823.5" cy="514.5" r="1.86"/><circle cx="824.5" cy="500.5" r="1.86"/><circle cx="824.5" cy="524.5" r="1.86"/><circle cx="825.5" cy="547.5" r="1.86"/><circle cx="825.5" cy="514.5" r="1.86"/><circle cx="826.5" cy="528.5" r="1.86"/><circle cx="826.5" cy="505.5" r="1.86"/><circle cx="827.5" cy="506.5" r="1.86"/><circle cx="827.5" cy="561.5" r="1.86"/><circle cx="828.5" cy="512.5" r="1.86"/><circle cx="828.5" cy="532.5" r="1.86"/><circle cx="828.5" cy="530.5" r="1.86"/><circle cx="829.5" cy="531.5" r="1.86"/><circle cx="829.5" cy="518.5" r="1.86"/><circle cx="830.5" cy="540.5" r="1.86"/><circle cx="830.5" cy="531.5" r="1.86"/><circle cx="831.5" cy="533.5" r="1.86"/><circle cx="831.5" cy="539.5" r="1.86"/><circle cx="832.5" cy="523.5" r="1.86"/><circle cx="832.5" cy="529.5" r="1.86"/><circle cx="833.5" cy="519.5" r="1.86"/><circle cx="833.5" cy="512.5" r="1.86"/><circle cx="834.5" cy="499.5" r="1.86"/><circle cx="834.5" cy="511.5" r="1.86"/><circle cx="834.5" cy="504.5" r="1.86"/><circle cx="835.5" cy="496.5" r="1.86"/><circle cx="835.5" cy="510.5" r="1.86"/><circle cx="836.5" cy="506.5" r="1.86"/><circle cx="836.5" cy="511.5" r="1.86"/><circle cx="837.5" cy="499.5" r="1.86"/><circle cx="838.5" cy="497.5" r="1.86"/><circle cx="839.5" cy="469.5" r="1.86"/><circle cx="839.5" cy="485.5" r="1.86"/><circle cx="840.5" cy="474.5" r="1.86"/><circle cx="841.5" cy="480.5" r="1.86"/><circle cx="841.5" cy="487.5" r="1.86"/><circle cx="842.5" cy="491.5" r="1.86"/><circle cx="842.5" cy="463.5" r="1.86"/><circle cx="843.5" cy="481.5" r="1.86"/><circle cx="843.5" cy="468.5" r="1.86"/><circle cx="844.5" cy="512.5" r="1.86"/><circle cx="844.5" cy="488.5" r="1.86"/><circle cx="845.5" cy="504.5" r="1.86"/><circle cx="845.5" cy="485.5" r="1.86"/><circle cx="846.5" cy="491.5" r="1.86"/><circle cx="846.5" cy="505.5" r="1.86"/><circle cx="847.5" cy="507.5" r="1.86"/><circle cx="847.5" cy="486.5" r="1.86"/><circle cx="847.5" cy="554.5" r="1.86"/><circle cx="848.5" cy="526.5" r="1.86"/><circle cx="848.5" cy="504.5" r="1.86"/><circle cx="849.5" cy="518.5" r="1.86"/><circle cx="849.5" cy="507.5" r="1.86"/><circle cx="850.5" cy="508.5" r="1.86"/><circle cx="850.5" cy="505.5" r="1.86"/><circle cx="851.5" cy="509.5" r="1.86"/><circle cx="851.5" cy="520.5" r="1.86"/><circle cx="852.5" cy="500.5" r="1.86"/><circle cx="852.5" cy="498.5" r="1.86"/><circle cx="853.5" cy="529.5" r="1.86"/><circle cx="853.5" cy="528.5" r="1.86"/><circle cx="854.5" cy="510.5" r="1.86"/><circle cx="854.5" cy="541.5" r="1.86"/><circle cx="854.5" cy="551.5" r="1.86"/><circle cx="855.5" cy="502.5" r="1.86"/><circle cx="855.5" cy="521.5" r="1.86"/><circle cx="856.5" cy="528.5" r="1.86"/><circle cx="856.5" cy="515.5" r="1.86"/><circle cx="857.5" cy="517.5" r="1.86"/><circle cx="857.5" cy="489.5" r="1.86"/><circle cx="858.5" cy="508.5" r="1.86"/><circle cx="858.5" cy="477.5" r="1.86"/><circle cx="859.5" cy="512.5" r="1.86"/><circle cx="860.5" cy="504.5" r="1.86"/><circle cx="860.5" cy="485.5" r="1.86"/><circle cx="860.5" cy="508.5" r="1.86"/><circle cx="861.5" cy="504.5" r="1.86"/><circle cx="861.5" cy="500.5" r="1.86"/><circle cx="862.5" cy="510.5" r="1.86"/><circle cx="862.5" cy="503.5" r="1.86"/><circle cx="863.5" cy="513.5" r="1.86"/><circle cx="863.5" cy="460.5" r="1.86"/><circle cx="864.5" cy="506.5" r="1.86"/><circle cx="864.5" cy="486.5" r="1.86"/><circle cx="865.5" cy="505.5" r="1.86"/><circle cx="865.5" cy="484.5" r="1.86"/><circle cx="866.5" cy="494.5" r="1.86"/><circle cx="866.5" cy="480.5" r="1.86"/><circle cx="867.5" cy="491.5" r="1.86"/><circle cx="867.5" cy="501.5" r="1.86"/><circle cx="867.5" cy="495.5" r="1.86"/><circle cx="868.5" cy="467.5" r="1.86"/><circle cx="868.5" cy="492.5" r="1.86"/><circle cx="869.5" cy="488.5" r="1.86"/><circle cx="869.5" cy="484.5" r="1.86"/><circle cx="870.5" cy="515.5" r="1.86"/><circle cx="870.5" cy="509.5" r="1.86"/><circle cx="871.5" cy="514.5" r="1.86"/><circle cx="871.5" cy="502.5" r="1.86"/><circle cx="872.5" cy="504.5" r="1.86"/><circle cx="872.5" cy="500.5" r="1.86"/><circle cx="873.5" cy="504.5" r="1.86"/><circle cx="873.5" cy="551.5" r="1.86"/><circle cx="873.5" cy="500.5" r="1.86"/><circle cx="874.5" cy="500.5" r="1.86"/><circle cx="874.5" cy="512.5" r="1.86"/><circle cx="875.5" cy="501.5" r="1.86"/><circle cx="875.5" cy="483.5" r="1.86"/><circle cx="876.5" cy="541.5" r="1.86"/><circle cx="876.5" cy="515.5" r="1.86"/><circle cx="877.5" cy="503.5" r="1.86"/><circle cx="877.5" cy="553.5" r="1.86"/><circle cx="878.5" cy="498.5" r="1.86"/><circle cx="878.5" cy="495.5" r="1.86"/><circle cx="879.5" cy="513.5" r="1.86"/><circle cx="879.5" cy="529.5" r="1.86"/><circle cx="880.5" cy="540.5" r="1.86"/><circle cx="880.5" cy="543.5" r="1.86"/><circle cx="880.5" cy="484.5" r="1.86"/><circle cx="881.5" cy="542.5" r="1.86"/><circle cx="881.5" cy="492.5" r="1.86"/><circle cx="882.5" cy="541.5" r="1.86"/><circle cx="882.5" cy="486.5" r="1.86"/><circle cx="883.5" cy="514.5" r="1.86"/><circle cx="883.5" cy="498.5" r="1.86"/><circle cx="884.5" cy="507.5" r="1.86"/><circle cx="884.5" cy="500.5" r="1.86"/><circle cx="885.5" cy="504.5" r="1.86"/><circle cx="886.5" cy="494.5" r="1.86"/><circle cx="886.5" cy="526.5" r="1.86"/><circle cx="886.5" cy="545.5" r="1.86"/><circle cx="887.5" cy="546.5" r="1.86"/><circle cx="887.5" cy="487.5" r="1.86"/><circle cx="888.5" cy="533.5" r="1.86"/><circle cx="889.5" cy="519.5" r="1.86"/><circle cx="889.5" cy="532.5" r="1.86"/><circle cx="890.5" cy="540.5" r="1.86"/><circle cx="890.5" cy="492.5" r="1.86"/><circle cx="891.5" cy="535.5" r="1.86"/><circle cx="891.5" cy="536.5" r="1.86"/><circle cx="892.5" cy="525.5" r="1.86"/><circle cx="892.5" cy="506.5" r="1.86"/><circle cx="893.5" cy="497.5" r="1.86"/><circle cx="893.5" cy="510.5" r="1.86"/><circle cx="893.5" cy="506.5" r="1.86"/><circle cx="894.5" cy="516.5" r="1.86"/><circle cx="894.5" cy="534.5" r="1.86"/><circle cx="895.5" cy="507.5" r="1.86"/><circle cx="895.5" cy="491.5" r="1.86"/><circle cx="896.5" cy="513.5" r="1.86"/><circle cx="896.5" cy="523.5" r="1.86"/><circle cx="897.5" cy="536.5" r="1.86"/><circle cx="897.5" cy="494.5" r="1.86"/><circle cx="898.5" cy="538.5" r="1.86"/><circle cx="898.5" cy="515.5" r="1.86"/><circle cx="899.5" cy="484.5" r="1.86"/><circle cx="899.5" cy="549.5" r="1.86"/><circle cx="899.5" cy="508.5" r="1.86"/><circle cx="900.5" cy="484.5" r="1.86"/><circle cx="900.5" cy="514.5" r="1.86"/><circle cx="901.5" cy="497.5" r="1.86"/><circle cx="901.5" cy="488.5" r="1.86"/><circle cx="902.5" cy="506.5" r="1.86"/><circle cx="902.5" cy="502.5" r="1.86"/><circle cx="903.5" cy="498.5" r="1.86"/><circle cx="903.5" cy="494.5" r="1.86"/><circle cx="904.5" cy="507.5" r="1.86"/><circle cx="904.5" cy="509.5" r="1.86"/><circle cx="905.5" cy="505.5" r="1.86"/><circle cx="905.5" cy="527.5" r="1.86"/><circle cx="906.5" cy="527.5" r="1.86"/><circle cx="906.5" cy="501.5" r="1.86"/><circle cx="906.5" cy="553.5" r="1.86"/><circle cx="907.5" cy="533.5" r="1.86"/><circle cx="907.5" cy="526.5" r="1.86"/><circle cx="908.5" cy="525.5" r="1.86"/><circle cx="908.5" cy="516.5" r="1.86"/><circle cx="909.5" cy="519.5" r="1.86"/><circle cx="909.5" cy="507.5" r="1.86"/><circle cx="910.5" cy="520.5" r="1.86"/><circle cx="910.5" cy="549.5" r="1.86"/><circle cx="911.5" cy="530.5" r="1.86"/><circle cx="911.5" cy="523.5" r="1.86"/><circle cx="912.5" cy="546.5" r="1.86"/><circle cx="912.5" cy="522.5" r="1.86"/><circle cx="912.5" cy="545.5" r="1.86"/><circle cx="913.5" cy="544.5" r="1.86"/><circle cx="913.5" cy="550.5" r="1.86"/><circle cx="914.5" cy="541.5" r="1.86"/><circle cx="914.5" cy="533.5" r="1.86"/><circle cx="915.5" cy="535.5" r="1.86"/><circle cx="915.5" cy="550.5" r="1.86"/><circle cx="916.5" cy="521.5" r="1.86"/><circle cx="916.5" cy="539.5" r="1.86"/><circle cx="917.5" cy="527.5" r="1.86"/><circle cx="917.5" cy="556.5" r="1.86"/><circle cx="918.5" cy="541.5" r="1.86"/><circle cx="918.5" cy="535.5" r="1.86"/><circle cx="919.5" cy="525.5" r="1.86"/><circle cx="919.5" cy="561.5" r="1.86"/><circle cx="919.5" cy="550.5" r="1.86"/><circle cx="920.5" cy="536.5" r="1.86"/><circle cx="920.5" cy="563.5" r="1.86"/><circle cx="921.5" cy="566.5" r="1.86"/><circle cx="921.5" cy="548.5" r="1.86"/><circle cx="922.5" cy="544.5" r="1.86"/><circle cx="922.5" cy="546.5" r="1.86"/><circle cx="923.5" cy="546.5" r="1.86"/><circle cx="923.5" cy="540.5" r="1.86"/><circle cx="924.5" cy="567.5" r="1.86"/><circle cx="924.5" cy="541.5" r="1.86"/><circle cx="925.5" cy="551.5" r="1.86"/><circle cx="925.5" cy="545.5" r="1.86"/><circle cx="925.5" cy="537.5" r="1.86"/><circle cx="926.5" cy="544.5" r="1.86"/><circle cx="926.5" cy="559.5" r="1.86"/><circle cx="927.5" cy="547.5" r="1.86"/><circle cx="927.5" cy="563.5" r="1.86"/><circle cx="928.5" cy="540.5" r="1.86"/><circle cx="928.5" cy="538.5" r="1.86"/><circle cx="929.5" cy="547.5" r="1.86"/><circle cx="929.5" cy="554.5" r="1.86"/><circle cx="930.5" cy="530.5" r="1.86"/><circle cx="930.5" cy="558.5" r="1.86"/><circle cx="931.5" cy="569.5" r="1.86"/><circle cx="931.5" cy="533.5" r="1.86"/><circle cx="932.5" cy="534.5" r="1.86"/><circle cx="932.5" cy="541.5" r="1.86"/><circle cx="932.5" cy="530.5" r="1.86"/><circle cx="933.5" cy="542.5" r="1.86"/><circle cx="933.5" cy="532.5" r="1.86"/><circle cx="934.5" cy="539.5" r="1.86"/><circle cx="934.5" cy="542.5" r="1.86"/><circle cx="935.5" cy="511.5" r="1.86"/><circle cx="935.5" cy="522.5" r="1.86"/><circle cx="936.5" cy="517.5" r="1.86"/><circle cx="936.5" cy="547.5" r="1.86"/><circle cx="937.5" cy="532.5" r="1.86"/><circle cx="937.5" cy="534.5" r="1.86"/><circle cx="938.5" cy="537.5" r="1.86"/><circle cx="938.5" cy="520.5" r="1.86"/><circle cx="938.5" cy="525.5" r="1.86"/><circle cx="939.5" cy="518.5" r="1.86"/><circle cx="939.5" cy="535.5" r="1.86"/><circle cx="940.5" cy="533.5" r="1.86"/><circle cx="940.5" cy="523.5" r="1.86"/><circle cx="941.5" cy="537.5" r="1.86"/><circle cx="941.5" cy="549.5" r="1.86"/><circle cx="942.5" cy="522.5" r="1.86"/><circle cx="942.5" cy="527.5" r="1.86"/><circle cx="943.5" cy="506.5" r="1.86"/><circle cx="943.5" cy="514.5" r="1.86"/><circle cx="944.5" cy="523.5" r="1.86"/><circle cx="944.5" cy="547.5" r="1.86"/><circle cx="945.5" cy="537.5" r="1.86"/><circle cx="945.5" cy="553.5" r="1.86"/><circle cx="945.5" cy="549.5" r="1.86"/><circle cx="946.5" cy="545.5" r="1.86"/><circle cx="946.5" cy="528.5" r="1.86"/><circle cx="947.5" cy="544.5" r="1.86"/><circle cx="947.5" cy="554.5" r="1.86"/><circle cx="948.5" cy="542.5" r="1.86"/><circle cx="948.5" cy="550.5" r="1.86"/><circle cx="949.5" cy="569.5" r="1.86"/><circle cx="949.5" cy="510.5" r="1.86"/><circle cx="950.5" cy="536.5" r="1.86"/><circle cx="950.5" cy="543.5" r="1.86"/><circle cx="951.5" cy="517.5" r="1.86"/><circle cx="951.5" cy="534.5" r="1.86"/><circle cx="951.5" cy="521.5" r="1.86"/><circle cx="952.5" cy="531.5" r="1.86"/><circle cx="952.5" cy="526.5" r="1.86"/><circle cx="953.5" cy="549.5" r="1.86"/><circle cx="953.5" cy="524.5" r="1.86"/><circle cx="954.5" cy="528.5" r="1.86"/><circle cx="954.5" cy="555.5" r="1.86"/><circle cx="955.5" cy="519.5" r="1.86"/><circle cx="955.5" cy="511.5" r="1.86"/><circle cx="956.5" cy="529.5" r="1.86"/><circle cx="956.5" cy="564.5" r="1.86"/><circle cx="957.5" cy="526.5" r="1.86"/><circle cx="957.5" cy="546.5" r="1.86"/><circle cx="958.5" cy="559.5" r="1.86"/><circle cx="958.5" cy="534.5" r="1.86"/><circle cx="958.5" cy="531.5" r="1.86"/><circle cx="959.5" cy="533.5" r="1.86"/><circle cx="959.5" cy="559.5" r="1.86"/><circle cx="960.5" cy="571.5" r="1.86"/><circle cx="960.5" cy="562.5" r="1.86"/><circle cx="961.5" cy="534.5" r="1.86"/><circle cx="961.5" cy="549.5" r="1.86"/><circle cx="962.5" cy="534.5" r="1.86"/><circle cx="962.5" cy="565.5" r="1.86"/><circle cx="963.5" cy="520.5" r="1.86"/><circle cx="963.5" cy="517.5" r="1.86"/><circle cx="964.5" cy="541.5" r="1.86"/><circle cx="964.5" cy="539.5" r="1.86"/><circle cx="964.5" cy="534.5" r="1.86"/><circle cx="965.5" cy="504.5" r="1.86"/><circle cx="965.5" cy="508.5" r="1.86"/><circle cx="966.5" cy="501.5" r="1.86"/><circle cx="966.5" cy="499.5" r="1.86"/><circle cx="967.5" cy="504.5" r="1.86"/><circle cx="967.5" cy="533.5" r="1.86"/><circle cx="968.5" cy="537.5" r="1.86"/><circle cx="968.5" cy="483.5" r="1.86"/><circle cx="969.5" cy="497.5" r="1.86"/><circle cx="969.5" cy="486.5" r="1.86"/><circle cx="970.5" cy="511.5" r="1.86"/><circle cx="970.5" cy="506.5" r="1.86"/><circle cx="971.5" cy="508.5" r="1.86"/><circle cx="971.5" cy="502.5" r="1.86"/><circle cx="971.5" cy="504.5" r="1.86"/><circle cx="972.5" cy="512.5" r="1.86"/><circle cx="973.5" cy="507.5" r="1.86"/><circle cx="973.5" cy="497.5" r="1.86"/><circle cx="974.5" cy="541.5" r="1.86"/><circle cx="974.5" cy="532.5" r="1.86"/><circle cx="975.5" cy="536.5" r="1.86"/><circle cx="975.5" cy="520.5" r="1.86"/><circle cx="976.5" cy="531.5" r="1.86"/><circle cx="976.5" cy="536.5" r="1.86"/><circle cx="977.5" cy="544.5" r="1.86"/><circle cx="977.5" cy="504.5" r="1.86"/><circle cx="977.5" cy="540.5" r="1.86"/><circle cx="978.5" cy="504.5" r="1.86"/><circle cx="978.5" cy="523.5" r="1.86"/><circle cx="979.5" cy="505.5" r="1.86"/><circle cx="979.5" cy="549.5" r="1.86"/><circle cx="980.5" cy="509.5" r="1.86"/><circle cx="980.5" cy="501.5" r="1.86"/><circle cx="981.5" cy="513.5" r="1.86"/><circle cx="981.5" cy="551.5" r="1.86"/><circle cx="982.5" cy="515.5" r="1.86"/><circle cx="982.5" cy="517.5" r="1.86"/><circle cx="983.5" cy="520.5" r="1.86"/><circle cx="983.5" cy="541.5" r="1.86"/><circle cx="984.5" cy="525.5" r="1.86"/><circle cx="984.5" cy="527.5" r="1.86"/><circle cx="984.5" cy="540.5" r="1.86"/><circle cx="985.5" cy="531.5" r="1.86"/><circle cx="985.5" cy="495.5" r="1.86"/><circle cx="986.5" cy="546.5" r="1.86"/><circle cx="986.5" cy="490.5" r="1.86"/><circle cx="987.5" cy="544.5" r="1.86"/><circle cx="987.5" cy="493.5" r="1.86"/><circle cx="988.5" cy="509.5" r="1.86"/><circle cx="988.5" cy="512.5" r="1.86"/><circle cx="989.5" cy="515.5" r="1.86"/><circle cx="989.5" cy="524.5" r="1.86"/><circle cx="990.5" cy="517.5" r="1.86"/><circle cx="990.5" cy="488.5" r="1.86"/><circle cx="990.5" cy="542.5" r="1.86"/><circle cx="991.5" cy="507.5" r="1.86"/><circle cx="991.5" cy="480.5" r="1.86"/><circle cx="992.5" cy="499.5" r="1.86"/><circle cx="992.5" cy="532.5" r="1.86"/><circle cx="993.5" cy="514.5" r="1.86"/><circle cx="993.5" cy="483.5" r="1.86"/><circle cx="994.5" cy="530.5" r="1.86"/><circle cx="994.5" cy="513.5" r="1.86"/><circle cx="995.5" cy="500.5" r="1.86"/><circle cx="995.5" cy="494.5" r="1.86"/><circle cx="996.5" cy="501.5" r="1.86"/><circle cx="996.5" cy="502.5" r="1.86"/><circle cx="997.5" cy="512.5" r="1.86"/><circle cx="997.5" cy="504.5" r="1.86"/><circle cx="997.5" cy="507.5" r="1.86"/><circle cx="998.5" cy="506.5" r="1.86"/><circle cx="998.5" cy="494.5" r="1.86"/><circle cx="999.5" cy="513.5" r="1.86"/><circle cx="999.5" cy="495.5" r="1.86"/><circle cx="1000.5" cy="503.5" r="1.86"/><circle cx="1000.5" cy="498.5" r="1.86"/><circle cx="1001.5" cy="505.5" r="1.86"/><circle cx="1001.5" cy="503.5" r="1.86"/><circle cx="1002.5" cy="502.5" r="1.86"/><circle cx="1002.5" cy="509.5" r="1.86"/><circle cx="1003.5" cy="508.5" r="1.86"/><circle cx="1003.5" cy="506.5" r="1.86"/><circle cx="1003.5" cy="500.5" r="1.86"/><circle cx="1004.5" cy="508.5" r="1.86"/><circle cx="1004.5" cy="482.5" r="1.86"/><circle cx="1005.5" cy="534.5" r="1.86"/><circle cx="1005.5" cy="528.5" r="1.86"/><circle cx="1006.5" cy="514.5" r="1.86"/><circle cx="1006.5" cy="522.5" r="1.86"/><circle cx="1007.5" cy="540.5" r="1.86"/><circle cx="1007.5" cy="528.5" r="1.86"/><circle cx="1008.5" cy="546.5" r="1.86"/><circle cx="1008.5" cy="503.5" r="1.86"/><circle cx="1009.5" cy="503.5" r="1.86"/><circle cx="1009.5" cy="506.5" r="1.86"/><circle cx="1010.5" cy="512.5" r="1.86"/><circle cx="1010.5" cy="506.5" r="1.86"/><circle cx="1010.5" cy="555.5" r="1.86"/><circle cx="1011.5" cy="522.5" r="1.86"/><circle cx="1011.5" cy="563.5" r="1.86"/><circle cx="1012.5" cy="505.5" r="1.86"/><circle cx="1012.5" cy="546.5" r="1.86"/><circle cx="1013.5" cy="554.5" r="1.86"/><circle cx="1013.5" cy="545.5" r="1.86"/><circle cx="1014.5" cy="547.5" r="1.86"/><circle cx="1014.5" cy="541.5" r="1.86"/><circle cx="1015.5" cy="519.5" r="1.86"/><circle cx="1015.5" cy="517.5" r="1.86"/><circle cx="1016.5" cy="537.5" r="1.86"/><circle cx="1016.5" cy="506.5" r="1.86"/><circle cx="1017.5" cy="518.5" r="1.86"/><circle cx="1017.5" cy="498.5" r="1.86"/><circle cx="1017.5" cy="515.5" r="1.86"/><circle cx="1018.5" cy="542.5" r="1.86"/><circle cx="1018.5" cy="496.5" r="1.86"/><circle cx="1019.5" cy="540.5" r="1.86"/><circle cx="1019.5" cy="546.5" r="1.86"/><circle cx="1020.5" cy="534.5" r="1.86"/><circle cx="1020.5" cy="500.5" r="1.86"/><circle cx="1021.5" cy="522.5" r="1.86"/><circle cx="1021.5" cy="511.5" r="1.86"/><circle cx="1022.5" cy="541.5" r="1.86"/><circle cx="1022.5" cy="497.5" r="1.86"/><circle cx="1023.5" cy="532.5" r="1.86"/><circle cx="1023.5" cy="513.5" r="1.86"/><circle cx="1023.5" cy="504.5" r="1.86"/><circle cx="1024.5" cy="472.5" r="1.86"/><circle cx="1024.5" cy="490.5" r="1.86"/><circle cx="1025.5" cy="500.5" r="1.86"/><circle cx="1025.5" cy="503.5" r="1.86"/><circle cx="1026.5" cy="535.5" r="1.86"/><circle cx="1026.5" cy="531.5" r="1.86"/><circle cx="1027.5" cy="535.5" r="1.86"/><circle cx="1028.5" cy="548.5" r="1.86"/><circle cx="1028.5" cy="527.5" r="1.86"/><circle cx="1029.5" cy="508.5" r="1.86"/><circle cx="1029.5" cy="553.5" r="1.86"/><circle cx="1030.5" cy="523.5" r="1.86"/><circle cx="1030.5" cy="504.5" r="1.86"/><circle cx="1030.5" cy="554.5" r="1.86"/><circle cx="1031.5" cy="516.5" r="1.86"/><circle cx="1031.5" cy="524.5" r="1.86"/><circle cx="1032.5" cy="543.5" r="1.86"/><circle cx="1032.5" cy="570.5" r="1.86"/><circle cx="1033.5" cy="548.5" r="1.86"/><circle cx="1033.5" cy="530.5" r="1.86"/><circle cx="1034.5" cy="545.5" r="1.86"/><circle cx="1034.5" cy="544.5" r="1.86"/><circle cx="1035.5" cy="529.5" r="1.86"/><circle cx="1035.5" cy="544.5" r="1.86"/><circle cx="1036.5" cy="534.5" r="1.86"/><circle cx="1036.5" cy="545.5" r="1.86"/><circle cx="1036.5" cy="547.5" r="1.86"/><circle cx="1037.5" cy="543.5" r="1.86"/><circle cx="1037.5" cy="470.5" r="1.86"/><circle cx="1038.5" cy="534.5" r="1.86"/><circle cx="1038.5" cy="532.5" r="1.86"/><circle cx="1039.5" cy="541.5" r="1.86"/><circle cx="1039.5" cy="493.5" r="1.86"/><circle cx="1040.5" cy="526.5" r="1.86"/><circle cx="1041.5" cy="528.5" r="1.86"/><circle cx="1041.5" cy="563.5" r="1.86"/><circle cx="1042.5" cy="538.5" r="1.86"/><circle cx="1042.5" cy="571.5" r="1.86"/><circle cx="1043.5" cy="587.5" r="1.86"/><circle cx="1043.5" cy="544.5" r="1.86"/><circle cx="1044.5" cy="565.5" r="1.86"/><circle cx="1045.5" cy="574.5" r="1.86"/><circle cx="1045.5" cy="571.5" r="1.86"/><circle cx="1046.5" cy="576.5" r="1.86"/><circle cx="1046.5" cy="557.5" r="1.86"/><circle cx="1047.5" cy="531.5" r="1.86"/><circle cx="1047.5" cy="567.5" r="1.86"/><circle cx="1048.5" cy="555.5" r="1.86"/><circle cx="1048.5" cy="562.5" r="1.86"/><circle cx="1049.5" cy="533.5" r="1.86"/><circle cx="1049.5" cy="552.5" r="1.86"/><circle cx="1049.5" cy="536.5" r="1.86"/><circle cx="1050.5" cy="546.5" r="1.86"/><circle cx="1050.5" cy="533.5" r="1.86"/><circle cx="1051.5" cy="549.5" r="1.86"/><circle cx="1051.5" cy="537.5" r="1.86"/><circle cx="1052.5" cy="534.5" r="1.86"/><circle cx="1052.5" cy="549.5" r="1.86"/><circle cx="1053.5" cy="538.5" r="1.86"/><circle cx="1053.5" cy="549.5" r="1.86"/><circle cx="1054.5" cy="541.5" r="1.86"/><circle cx="1054.5" cy="524.5" r="1.86"/><circle cx="1055.5" cy="519.5" r="1.86"/><circle cx="1055.5" cy="560.5" r="1.86"/><circle cx="1056.5" cy="519.5" r="1.86"/><circle cx="1056.5" cy="523.5" r="1.86"/><circle cx="1056.5" cy="512.5" r="1.86"/><circle cx="1057.5" cy="514.5" r="1.86"/><circle cx="1057.5" cy="568.5" r="1.86"/><circle cx="1058.5" cy="536.5" r="1.86"/><circle cx="1058.5" cy="556.5" r="1.86"/><circle cx="1059.5" cy="537.5" r="1.86"/><circle cx="1059.5" cy="570.5" r="1.86"/><circle cx="1060.5" cy="536.5" r="1.86"/><circle cx="1061.5" cy="564.5" r="1.86"/><circle cx="1061.5" cy="552.5" r="1.86"/><circle cx="1062.5" cy="528.5" r="1.86"/><circle cx="1062.5" cy="520.5" r="1.86"/><circle cx="1062.5" cy="555.5" r="1.86"/><circle cx="1063.5" cy="517.5" r="1.86"/><circle cx="1063.5" cy="550.5" r="1.86"/><circle cx="1064.5" cy="527.5" r="1.86"/><circle cx="1064.5" cy="547.5" r="1.86"/><circle cx="1065.5" cy="514.5" r="1.86"/><circle cx="1065.5" cy="553.5" r="1.86"/><circle cx="1066.5" cy="515.5" r="1.86"/><circle cx="1066.5" cy="522.5" r="1.86"/><circle cx="1067.5" cy="544.5" r="1.86"/><circle cx="1067.5" cy="561.5" r="1.86"/><circle cx="1068.5" cy="549.5" r="1.86"/><circle cx="1068.5" cy="554.5" r="1.86"/><circle cx="1069.5" cy="556.5" r="1.86"/><circle cx="1069.5" cy="537.5" r="1.86"/><circle cx="1069.5" cy="545.5" r="1.86"/><circle cx="1070.5" cy="520.5" r="1.86"/><circle cx="1070.5" cy="528.5" r="1.86"/><circle cx="1071.5" cy="531.5" r="1.86"/><circle cx="1071.5" cy="528.5" r="1.86"/><circle cx="1072.5" cy="526.5" r="1.86"/><circle cx="1072.5" cy="523.5" r="1.86"/><circle cx="1073.5" cy="524.5" r="1.86"/><circle cx="1073.5" cy="553.5" r="1.86"/><circle cx="1074.5" cy="517.5" r="1.86"/><circle cx="1074.5" cy="527.5" r="1.86"/><circle cx="1075.5" cy="514.5" r="1.86"/><circle cx="1075.5" cy="524.5" r="1.86"/><circle cx="1076.5" cy="519.5" r="1.86"/><circle cx="1076.5" cy="520.5" r="1.86"/><circle cx="1077.5" cy="552.5" r="1.86"/><circle cx="1077.5" cy="516.5" r="1.86"/><circle cx="1078.5" cy="533.5" r="1.86"/><circle cx="1078.5" cy="544.5" r="1.86"/><circle cx="1079.5" cy="539.5" r="1.86"/><circle cx="1079.5" cy="554.5" r="1.86"/><circle cx="1080.5" cy="542.5" r="1.86"/><circle cx="1080.5" cy="497.5" r="1.86"/><circle cx="1081.5" cy="538.5" r="1.86"/><circle cx="1081.5" cy="549.5" r="1.86"/><circle cx="1082.5" cy="509.5" r="1.86"/><circle cx="1082.5" cy="514.5" r="1.86"/><circle cx="1082.5" cy="565.5" r="1.86"/><circle cx="1083.5" cy="502.5" r="1.86"/><circle cx="1083.5" cy="518.5" r="1.86"/><circle cx="1084.5" cy="525.5" r="1.86"/><circle cx="1084.5" cy="562.5" r="1.86"/><circle cx="1085.5" cy="510.5" r="1.86"/><circle cx="1085.5" cy="544.5" r="1.86"/><circle cx="1086.5" cy="545.5" r="1.86"/><circle cx="1086.5" cy="515.5" r="1.86"/><circle cx="1087.5" cy="548.5" r="1.86"/><circle cx="1087.5" cy="514.5" r="1.86"/><circle cx="1088.5" cy="530.5" r="1.86"/><circle cx="1088.5" cy="500.5" r="1.86"/><circle cx="1088.5" cy="557.5" r="1.86"/><circle cx="1089.5" cy="541.5" r="1.86"/><circle cx="1089.5" cy="494.5" r="1.86"/><circle cx="1090.5" cy="548.5" r="1.86"/><circle cx="1090.5" cy="486.5" r="1.86"/><circle cx="1091.5" cy="518.5" r="1.86"/><circle cx="1091.5" cy="502.5" r="1.86"/><circle cx="1092.5" cy="501.5" r="1.86"/><circle cx="1092.5" cy="500.5" r="1.86"/><circle cx="1093.5" cy="507.5" r="1.86"/><circle cx="1093.5" cy="505.5" r="1.86"/><circle cx="1094.5" cy="518.5" r="1.86"/><circle cx="1094.5" cy="524.5" r="1.86"/><circle cx="1095.5" cy="545.5" r="1.86"/><circle cx="1095.5" cy="541.5" r="1.86"/><circle cx="1095.5" cy="531.5" r="1.86"/><circle cx="1096.5" cy="548.5" r="1.86"/><circle cx="1096.5" cy="557.5" r="1.86"/><circle cx="1097.5" cy="517.5" r="1.86"/><circle cx="1097.5" cy="520.5" r="1.86"/><circle cx="1098.5" cy="536.5" r="1.86"/><circle cx="1098.5" cy="520.5" r="1.86"/><circle cx="1099.5" cy="552.5" r="1.86"/><circle cx="1099.5" cy="515.5" r="1.86"/><circle cx="1100.5" cy="504.5" r="1.86"/><circle cx="1100.5" cy="553.5" r="1.86"/><circle cx="1101.5" cy="515.5" r="1.86"/><circle cx="1101.5" cy="499.5" r="1.86"/><circle cx="1101.5" cy="537.5" r="1.86"/><circle cx="1102.5" cy="512.5" r="1.86"/><circle cx="1102.5" cy="535.5" r="1.86"/><circle cx="1103.5" cy="538.5" r="1.86"/><circle cx="1103.5" cy="554.5" r="1.86"/><circle cx="1104.5" cy="561.5" r="1.86"/><circle cx="1104.5" cy="547.5" r="1.86"/><circle cx="1105.5" cy="543.5" r="1.86"/><circle cx="1105.5" cy="525.5" r="1.86"/><circle cx="1106.5" cy="517.5" r="1.86"/><circle cx="1106.5" cy="483.5" r="1.86"/><circle cx="1107.5" cy="506.5" r="1.86"/><circle cx="1107.5" cy="481.5" r="1.86"/><circle cx="1108.5" cy="486.5" r="1.86"/><circle cx="1108.5" cy="537.5" r="1.86"/><circle cx="1108.5" cy="533.5" r="1.86"/><circle cx="1109.5" cy="539.5" r="1.86"/><circle cx="1109.5" cy="536.5" r="1.86"/><circle cx="1110.5" cy="515.5" r="1.86"/><circle cx="1110.5" cy="537.5" r="1.86"/><circle cx="1111.5" cy="495.5" r="1.86"/><circle cx="1111.5" cy="507.5" r="1.86"/><circle cx="1112.5" cy="509.5" r="1.86"/><circle cx="1113.5" cy="520.5" r="1.86"/><circle cx="1113.5" cy="538.5" r="1.86"/><circle cx="1114.5" cy="538.5" r="1.86"/><circle cx="1114.5" cy="524.5" r="1.86"/><circle cx="1114.5" cy="549.5" r="1.86"/><circle cx="1115.5" cy="504.5" r="1.86"/><circle cx="1115.5" cy="535.5" r="1.86"/><circle cx="1116.5" cy="554.5" r="1.86"/><circle cx="1116.5" cy="551.5" r="1.86"/><circle cx="1117.5" cy="521.5" r="1.86"/><circle cx="1117.5" cy="503.5" r="1.86"/><circle cx="1118.5" cy="516.5" r="1.86"/><circle cx="1118.5" cy="522.5" r="1.86"/><circle cx="1119.5" cy="525.5" r="1.86"/><circle cx="1119.5" cy="517.5" r="1.86"/><circle cx="1120.5" cy="529.5" r="1.86"/><circle cx="1120.5" cy="489.5" r="1.86"/><circle cx="1121.5" cy="495.5" r="1.86"/><circle cx="1121.5" cy="508.5" r="1.86"/><circle cx="1121.5" cy="475.5" r="1.86"/><circle cx="1122.5" cy="490.5" r="1.86"/><circle cx="1122.5" cy="479.5" r="1.86"/><circle cx="1123.5" cy="509.5" r="1.86"/><circle cx="1123.5" cy="505.5" r="1.86"/><circle cx="1124.5" cy="515.5" r="1.86"/><circle cx="1124.5" cy="514.5" r="1.86"/><circle cx="1125.5" cy="504.5" r="1.86"/><circle cx="1125.5" cy="461.5" r="1.86"/><circle cx="1126.5" cy="473.5" r="1.86"/><circle cx="1126.5" cy="465.5" r="1.86"/><circle cx="1127.5" cy="507.5" r="1.86"/><circle cx="1127.5" cy="515.5" r="1.86"/><circle cx="1127.5" cy="512.5" r="1.86"/><circle cx="1128.5" cy="500.5" r="1.86"/><circle cx="1128.5" cy="511.5" r="1.86"/><circle cx="1129.5" cy="478.5" r="1.86"/><circle cx="1129.5" cy="505.5" r="1.86"/><circle cx="1130.5" cy="506.5" r="1.86"/><circle cx="1130.5" cy="464.5" r="1.86"/><circle cx="1131.5" cy="516.5" r="1.86"/><circle cx="1131.5" cy="488.5" r="1.86"/><circle cx="1132.5" cy="515.5" r="1.86"/><circle cx="1132.5" cy="502.5" r="1.86"/><circle cx="1133.5" cy="503.5" r="1.86"/><circle cx="1133.5" cy="497.5" r="1.86"/><circle cx="1134.5" cy="490.5" r="1.86"/><circle cx="1134.5" cy="502.5" r="1.86"/><circle cx="1134.5" cy="505.5" r="1.86"/><circle cx="1135.5" cy="483.5" r="1.86"/><circle cx="1135.5" cy="493.5" r="1.86"/><circle cx="1136.5" cy="513.5" r="1.86"/><circle cx="1136.5" cy="501.5" r="1.86"/><circle cx="1137.5" cy="510.5" r="1.86"/><circle cx="1137.5" cy="508.5" r="1.86"/><circle cx="1138.5" cy="482.5" r="1.86"/><circle cx="1138.5" cy="499.5" r="1.86"/><circle cx="1139.5" cy="499.5" r="1.86"/><circle cx="1139.5" cy="511.5" r="1.86"/><circle cx="1140.5" cy="470.5" r="1.86"/><circle cx="1140.5" cy="512.5" r="1.86"/><circle cx="1140.5" cy="493.5" r="1.86"/><circle cx="1141.5" cy="516.5" r="1.86"/><circle cx="1141.5" cy="488.5" r="1.86"/><circle cx="1142.5" cy="468.5" r="1.86"/><circle cx="1142.5" cy="500.5" r="1.86"/><circle cx="1143.5" cy="511.5" r="1.86"/><circle cx="1143.5" cy="473.5" r="1.86"/><circle cx="1144.5" cy="503.5" r="1.86"/><circle cx="1144.5" cy="470.5" r="1.86"/><circle cx="1145.5" cy="508.5" r="1.86"/><circle cx="1145.5" cy="501.5" r="1.86"/><circle cx="1146.5" cy="494.5" r="1.86"/><circle cx="1146.5" cy="501.5" r="1.86"/><circle cx="1147.5" cy="517.5" r="1.86"/><circle cx="1147.5" cy="504.5" r="1.86"/><circle cx="1147.5" cy="480.5" r="1.86"/><circle cx="1148.5" cy="531.5" r="1.86"/><circle cx="1148.5" cy="528.5" r="1.86"/><circle cx="1149.5" cy="512.5" r="1.86"/><circle cx="1149.5" cy="506.5" r="1.86"/><circle cx="1150.5" cy="501.5" r="1.86"/><circle cx="1150.5" cy="510.5" r="1.86"/><circle cx="1151.5" cy="506.5" r="1.86"/><circle cx="1151.5" cy="517.5" r="1.86"/><circle cx="1152.5" cy="506.5" r="1.86"/><circle cx="1152.5" cy="521.5" r="1.86"/><circle cx="1153.5" cy="521.5" r="1.86"/><circle cx="1153.5" cy="543.5" r="1.86"/><circle cx="1153.5" cy="490.5" r="1.86"/><circle cx="1154.5" cy="498.5" r="1.86"/><circle cx="1154.5" cy="495.5" r="1.86"/><circle cx="1155.5" cy="480.5" r="1.86"/><circle cx="1155.5" cy="492.5" r="1.86"/><circle cx="1156.5" cy="524.5" r="1.86"/><circle cx="1156.5" cy="531.5" r="1.86"/><circle cx="1157.5" cy="522.5" r="1.86"/><circle cx="1157.5" cy="532.5" r="1.86"/><circle cx="1158.5" cy="533.5" r="1.86"/><circle cx="1158.5" cy="481.5" r="1.86"/><circle cx="1159.5" cy="533.5" r="1.86"/><circle cx="1159.5" cy="495.5" r="1.86"/><circle cx="1160.5" cy="521.5" r="1.86"/><circle cx="1160.5" cy="504.5" r="1.86"/><circle cx="1160.5" cy="497.5" r="1.86"/><circle cx="1161.5" cy="514.5" r="1.86"/><circle cx="1161.5" cy="501.5" r="1.86"/><circle cx="1162.5" cy="494.5" r="1.86"/><circle cx="1162.5" cy="484.5" r="1.86"/><circle cx="1163.5" cy="497.5" r="1.86"/><circle cx="1163.5" cy="523.5" r="1.86"/><circle cx="1164.5" cy="504.5" r="1.86"/><circle cx="1164.5" cy="528.5" r="1.86"/><circle cx="1165.5" cy="481.5" r="1.86"/><circle cx="1165.5" cy="496.5" r="1.86"/><circle cx="1166.5" cy="511.5" r="1.86"/><circle cx="1166.5" cy="506.5" r="1.86"/><circle cx="1167.5" cy="509.5" r="1.86"/><circle cx="1167.5" cy="501.5" r="1.86"/><circle cx="1168.5" cy="514.5" r="1.86"/><circle cx="1168.5" cy="526.5" r="1.86"/><circle cx="1169.5" cy="523.5" r="1.86"/><circle cx="1169.5" cy="464.5" r="1.86"/><circle cx="1170.5" cy="521.5" r="1.86"/><circle cx="1170.5" cy="485.5" r="1.86"/><circle cx="1171.5" cy="478.5" r="1.86"/><circle cx="1171.5" cy="515.5" r="1.86"/><circle cx="1172.5" cy="500.5" r="1.86"/><circle cx="1172.5" cy="506.5" r="1.86"/><circle cx="1173.5" cy="509.5" r="1.86"/><circle cx="1173.5" cy="499.5" r="1.86"/><circle cx="1173.5" cy="512.5" r="1.86"/><circle cx="1174.5" cy="504.5" r="1.86"/><circle cx="1174.5" cy="479.5" r="1.86"/><circle cx="1175.5" cy="500.5" r="1.86"/><circle cx="1175.5" cy="491.5" r="1.86"/><circle cx="1176.5" cy="507.5" r="1.86"/><circle cx="1176.5" cy="485.5" r="1.86"/><circle cx="1177.5" cy="509.5" r="1.86"/><circle cx="1177.5" cy="491.5" r="1.86"/><circle cx="1178.5" cy="517.5" r="1.86"/><circle cx="1178.5" cy="472.5" r="1.86"/><circle cx="1179.5" cy="507.5" r="1.86"/><circle cx="1180.5" cy="505.5" r="1.86"/><circle cx="1180.5" cy="481.5" r="1.86"/><circle cx="1181.5" cy="471.5" r="1.86"/><circle cx="1181.5" cy="465.5" r="1.86"/><circle cx="1182.5" cy="476.5" r="1.86"/><circle cx="1183.5" cy="492.5" r="1.86"/><circle cx="1184.5" cy="503.5" r="1.86"/><circle cx="1184.5" cy="501.5" r="1.86"/><circle cx="1185.5" cy="523.5" r="1.86"/><circle cx="1185.5" cy="501.5" r="1.86"/><circle cx="1186.5" cy="514.5" r="1.86"/><circle cx="1186.5" cy="508.5" r="1.86"/><circle cx="1186.5" cy="509.5" r="1.86"/><circle cx="1187.5" cy="501.5" r="1.86"/><circle cx="1187.5" cy="505.5" r="1.86"/><circle cx="1188.5" cy="513.5" r="1.86"/><circle cx="1188.5" cy="493.5" r="1.86"/><circle cx="1189.5" cy="507.5" r="1.86"/><circle cx="1189.5" cy="511.5" r="1.86"/><circle cx="1190.5" cy="503.5" r="1.86"/><circle cx="1190.5" cy="513.5" r="1.86"/><circle cx="1191.5" cy="524.5" r="1.86"/><circle cx="1191.5" cy="493.5" r="1.86"/><circle cx="1192.5" cy="481.5" r="1.86"/><circle cx="1192.5" cy="517.5" r="1.86"/><circle cx="1192.5" cy="519.5" r="1.86"/><circle cx="1193.5" cy="496.5" r="1.86"/><circle cx="1193.5" cy="489.5" r="1.86"/><circle cx="1194.5" cy="506.5" r="1.86"/><circle cx="1194.5" cy="469.5" r="1.86"/><circle cx="1195.5" cy="509.5" r="1.86"/><circle cx="1195.5" cy="524.5" r="1.86"/><circle cx="1196.5" cy="510.5" r="1.86"/><circle cx="1196.5" cy="524.5" r="1.86"/><circle cx="1197.5" cy="515.5" r="1.86"/><circle cx="1197.5" cy="525.5" r="1.86"/><circle cx="1198.5" cy="544.5" r="1.86"/><circle cx="1198.5" cy="525.5" r="1.86"/><circle cx="1199.5" cy="567.5" r="1.86"/><circle cx="1199.5" cy="517.5" r="1.86"/><circle cx="1199.5" cy="579.5" r="1.86"/><circle cx="1200.5" cy="571.5" r="1.86"/><circle cx="1200.5" cy="576.5" r="1.86"/><circle cx="1201.5" cy="558.5" r="1.86"/><circle cx="1201.5" cy="563.5" r="1.86"/><circle cx="1202.5" cy="535.5" r="1.86"/><circle cx="1202.5" cy="583.5" r="1.86"/><circle cx="1203.5" cy="537.5" r="1.86"/><circle cx="1203.5" cy="561.5" r="1.86"/><circle cx="1204.5" cy="576.5" r="1.86"/><circle cx="1204.5" cy="532.5" r="1.86"/><circle cx="1205.5" cy="532.5" r="1.86"/><circle cx="1205.5" cy="561.5" r="1.86"/><circle cx="1205.5" cy="531.5" r="1.86"/><circle cx="1206.5" cy="540.5" r="1.86"/><circle cx="1206.5" cy="542.5" r="1.86"/><circle cx="1207.5" cy="542.5" r="1.86"/><circle cx="1207.5" cy="537.5" r="1.86"/><circle cx="1208.5" cy="548.5" r="1.86"/><circle cx="1208.5" cy="517.5" r="1.86"/><circle cx="1209.5" cy="515.5" r="1.86"/><circle cx="1209.5" cy="529.5" r="1.86"/><circle cx="1210.5" cy="522.5" r="1.86"/><circle cx="1210.5" cy="529.5" r="1.86"/><circle cx="1211.5" cy="516.5" r="1.86"/><circle cx="1211.5" cy="492.5" r="1.86"/><circle cx="1212.5" cy="501.5" r="1.86"/><circle cx="1212.5" cy="478.5" r="1.86"/><circle cx="1212.5" cy="503.5" r="1.86"/><circle cx="1213.5" cy="519.5" r="1.86"/><circle cx="1213.5" cy="495.5" r="1.86"/><circle cx="1214.5" cy="499.5" r="1.86"/><circle cx="1214.5" cy="503.5" r="1.86"/><circle cx="1215.5" cy="493.5" r="1.86"/><circle cx="1215.5" cy="496.5" r="1.86"/><circle cx="1216.5" cy="514.5" r="1.86"/><circle cx="1216.5" cy="505.5" r="1.86"/><circle cx="1217.5" cy="509.5" r="1.86"/><circle cx="1217.5" cy="524.5" r="1.86"/><circle cx="1218.5" cy="500.5" r="1.86"/><circle cx="1218.5" cy="479.5" r="1.86"/><circle cx="1218.5" cy="537.5" r="1.86"/><circle cx="1219.5" cy="533.5" r="1.86"/><circle cx="1219.5" cy="513.5" r="1.86"/><circle cx="1220.5" cy="539.5" r="1.86"/><circle cx="1220.5" cy="531.5" r="1.86"/><circle cx="1221.5" cy="531.5" r="1.86"/><circle cx="1221.5" cy="541.5" r="1.86"/><circle cx="1222.5" cy="520.5" r="1.86"/><circle cx="1222.5" cy="531.5" r="1.86"/><circle cx="1223.5" cy="548.5" r="1.86"/><circle cx="1223.5" cy="543.5" r="1.86"/><circle cx="1224.5" cy="532.5" r="1.86"/><circle cx="1224.5" cy="509.5" r="1.86"/><circle cx="1225.5" cy="517.5" r="1.86"/><circle cx="1225.5" cy="510.5" r="1.86"/><circle cx="1225.5" cy="505.5" r="1.86"/><circle cx="1226.5" cy="537.5" r="1.86"/><circle cx="1226.5" cy="551.5" r="1.86"/><circle cx="1227.5" cy="528.5" r="1.86"/><circle cx="1227.5" cy="534.5" r="1.86"/><circle cx="1228.5" cy="531.5" r="1.86"/><circle cx="1228.5" cy="540.5" r="1.86"/><circle cx="1229.5" cy="512.5" r="1.86"/><circle cx="1229.5" cy="571.5" r="1.86"/><circle cx="1230.5" cy="507.5" r="1.86"/><circle cx="1230.5" cy="518.5" r="1.86"/><circle cx="1231.5" cy="542.5" r="1.86"/><circle cx="1231.5" cy="532.5" r="1.86"/><circle cx="1231.5" cy="533.5" r="1.86"/><circle cx="1232.5" cy="509.5" r="1.86"/><circle cx="1232.5" cy="539.5" r="1.86"/><circle cx="1233.5" cy="541.5" r="1.86"/><circle cx="1233.5" cy="536.5" r="1.86"/><circle cx="1234.5" cy="539.5" r="1.86"/><circle cx="1234.5" cy="522.5" r="1.86"/><circle cx="1235.5" cy="535.5" r="1.86"/><circle cx="1235.5" cy="537.5" r="1.86"/><circle cx="1236.5" cy="568.5" r="1.86"/><circle cx="1236.5" cy="544.5" r="1.86"/><circle cx="1237.5" cy="551.5" r="1.86"/><circle cx="1237.5" cy="543.5" r="1.86"/><circle cx="1238.5" cy="536.5" r="1.86"/><circle cx="1238.5" cy="521.5" r="1.86"/><circle cx="1238.5" cy="512.5" r="1.86"/><circle cx="1239.5" cy="511.5" r="1.86"/><circle cx="1239.5" cy="507.5" r="1.86"/><circle cx="1240.5" cy="513.5" r="1.86"/><circle cx="1240.5" cy="559.5" r="1.86"/><circle cx="1241.5" cy="505.5" r="1.86"/><circle cx="1241.5" cy="542.5" r="1.86"/><circle cx="1242.5" cy="531.5" r="1.86"/><circle cx="1242.5" cy="537.5" r="1.86"/><circle cx="1243.5" cy="539.5" r="1.86"/><circle cx="1243.5" cy="531.5" r="1.86"/><circle cx="1244.5" cy="516.5" r="1.86"/><circle cx="1244.5" cy="533.5" r="1.86"/><circle cx="1244.5" cy="506.5" r="1.86"/><circle cx="1245.5" cy="531.5" r="1.86"/><circle cx="1245.5" cy="536.5" r="1.86"/><circle cx="1246.5" cy="544.5" r="1.86"/><circle cx="1246.5" cy="543.5" r="1.86"/><circle cx="1247.5" cy="541.5" r="1.86"/><circle cx="1247.5" cy="488.5" r="1.86"/><circle cx="1248.5" cy="535.5" r="1.86"/><circle cx="1248.5" cy="479.5" r="1.86"/><circle cx="1249.5" cy="546.5" r="1.86"/><circle cx="1249.5" cy="536.5" r="1.86"/><circle cx="1250.5" cy="533.5" r="1.86"/><circle cx="1250.5" cy="544.5" r="1.86"/><circle cx="1251.5" cy="546.5" r="1.86"/><circle cx="1251.5" cy="540.5" r="1.86"/><circle cx="1251.5" cy="525.5" r="1.86"/><circle cx="1252.5" cy="548.5" r="1.86"/><circle cx="1252.5" cy="486.5" r="1.86"/><circle cx="1253.5" cy="532.5" r="1.86"/><circle cx="1253.5" cy="510.5" r="1.86"/><circle cx="1254.5" cy="535.5" r="1.86"/><circle cx="1254.5" cy="541.5" r="1.86"/><circle cx="1255.5" cy="533.5" r="1.86"/><circle cx="1255.5" cy="557.5" r="1.86"/><circle cx="1256.5" cy="517.5" r="1.86"/><circle cx="1256.5" cy="506.5" r="1.86"/><circle cx="1257.5" cy="576.5" r="1.86"/><circle cx="1257.5" cy="527.5" r="1.86"/><circle cx="1257.5" cy="514.5" r="1.86"/><circle cx="1258.5" cy="540.5" r="1.86"/><circle cx="1258.5" cy="522.5" r="1.86"/><circle cx="1259.5" cy="541.5" r="1.86"/><circle cx="1259.5" cy="515.5" r="1.86"/><circle cx="1260.5" cy="574.5" r="1.86"/><circle cx="1260.5" cy="568.5" r="1.86"/><circle cx="1261.5" cy="576.5" r="1.86"/><circle cx="1261.5" cy="562.5" r="1.86"/><circle cx="1262.5" cy="574.5" r="1.86"/><circle cx="1263.5" cy="567.5" r="1.86"/><circle cx="1263.5" cy="539.5" r="1.86"/><circle cx="1264.5" cy="502.5" r="1.86"/><circle cx="1264.5" cy="539.5" r="1.86"/><circle cx="1264.5" cy="526.5" r="1.86"/><circle cx="1265.5" cy="531.5" r="1.86"/><circle cx="1265.5" cy="508.5" r="1.86"/><circle cx="1266.5" cy="527.5" r="1.86"/><circle cx="1266.5" cy="526.5" r="1.86"/><circle cx="1267.5" cy="540.5" r="1.86"/><circle cx="1267.5" cy="517.5" r="1.86"/><circle cx="1268.5" cy="503.5" r="1.86"/><circle cx="1268.5" cy="516.5" r="1.86"/><circle cx="1269.5" cy="503.5" r="1.86"/><circle cx="1269.5" cy="548.5" r="1.86"/><circle cx="1270.5" cy="479.5" r="1.86"/><circle cx="1270.5" cy="525.5" r="1.86"/><circle cx="1270.5" cy="539.5" r="1.86"/><circle cx="1271.5" cy="562.5" r="1.86"/><circle cx="1271.5" cy="546.5" r="1.86"/><circle cx="1272.5" cy="512.5" r="1.86"/><circle cx="1272.5" cy="555.5" r="1.86"/><circle cx="1273.5" cy="523.5" r="1.86"/><circle cx="1273.5" cy="525.5" r="1.86"/><circle cx="1274.5" cy="521.5" r="1.86"/><circle cx="1274.5" cy="517.5" r="1.86"/><circle cx="1275.5" cy="500.5" r="1.86"/><circle cx="1275.5" cy="561.5" r="1.86"/><circle cx="1276.5" cy="503.5" r="1.86"/><circle cx="1276.5" cy="555.5" r="1.86"/><circle cx="1277.5" cy="506.5" r="1.86"/><circle cx="1277.5" cy="539.5" r="1.86"/><circle cx="1277.5" cy="501.5" r="1.86"/><circle cx="1278.5" cy="537.5" r="1.86"/><circle cx="1278.5" cy="541.5" r="1.86"/><circle cx="1279.5" cy="529.5" r="1.86"/><circle cx="1279.5" cy="524.5" r="1.86"/><circle cx="1280.5" cy="527.5" r="1.86"/><circle cx="1280.5" cy="499.5" r="1.86"/><circle cx="1281.5" cy="491.5" r="1.86"/><circle cx="1281.5" cy="501.5" r="1.86"/><circle cx="1282.5" cy="497.5" r="1.86"/><circle cx="1282.5" cy="476.5" r="1.86"/><circle cx="1283.5" cy="465.5" r="1.86"/><circle cx="1283.5" cy="473.5" r="1.86"/><circle cx="1283.5" cy="508.5" r="1.86"/><circle cx="1284.5" cy="483.5" r="1.86"/><circle cx="1285.5" cy="471.5" r="1.86"/><circle cx="1285.5" cy="504.5" r="1.86"/><circle cx="1286.5" cy="512.5" r="1.86"/><circle cx="1286.5" cy="507.5" r="1.86"/><circle cx="1287.5" cy="507.5" r="1.86"/><circle cx="1287.5" cy="506.5" r="1.86"/><circle cx="1288.5" cy="509.5" r="1.86"/><circle cx="1288.5" cy="497.5" r="1.86"/><circle cx="1289.5" cy="504.5" r="1.86"/><circle cx="1289.5" cy="514.5" r="1.86"/><circle cx="1290.5" cy="512.5" r="1.86"/><circle cx="1290.5" cy="508.5" r="1.86"/><circle cx="1290.5" cy="514.5" r="1.86"/><circle cx="1291.5" cy="538.5" r="1.86"/><circle cx="1292.5" cy="535.5" r="1.86"/><circle cx="1292.5" cy="541.5" r="1.86"/><circle cx="1293.5" cy="530.5" r="1.86"/><circle cx="1293.5" cy="529.5" r="1.86"/><circle cx="1294.5" cy="543.5" r="1.86"/><circle cx="1294.5" cy="497.5" r="1.86"/><circle cx="1295.5" cy="512.5" r="1.86"/><circle cx="1295.5" cy="489.5" r="1.86"/><circle cx="1296.5" cy="493.5" r="1.86"/><circle cx="1296.5" cy="510.5" r="1.86"/><circle cx="1296.5" cy="505.5" r="1.86"/><circle cx="1297.5" cy="534.5" r="1.86"/><circle cx="1297.5" cy="506.5" r="1.86"/><circle cx="1298.5" cy="481.5" r="1.86"/><circle cx="1298.5" cy="491.5" r="1.86"/><circle cx="1299.5" cy="543.5" r="1.86"/><circle cx="1299.5" cy="477.5" r="1.86"/><circle cx="1300.5" cy="487.5" r="1.86"/><circle cx="1301.5" cy="460.5" r="1.86"/><circle cx="1301.5" cy="499.5" r="1.86"/><circle cx="1302.5" cy="465.5" r="1.86"/><circle cx="1302.5" cy="476.5" r="1.86"/><circle cx="1303.5" cy="478.5" r="1.86"/></g>
<path d="M669.6 660.7H675.4L672.5 667.6ZM1180.6 660.7H1186.4L1183.5 667.6Z" fill="#ffa500"/>
<rect x="103.5" y="499.5" width="1257" height="48" fill="#f00" fill-opacity="0.1" stroke="#f00" stroke-opacity="0.1" stroke-width="1.39"/>
<path d="M162.5 523.5H1303.5" stroke="#ffa500" stroke-width="2.78" stroke-linecap="square" fill="none"/>
<path d="M162 666V380" stroke="#800080" stroke-width="2.08" stroke-dasharray="2.0833 3.4375" fill="none"/>
<path d="M1303 666V380" stroke="#800080" stroke-width="2.08" stroke-dasharray="2.0833 3.4375" fill="none"/>
<path d="M105 523H1360" stroke="#f00" stroke-width="2.08" stroke-linecap="square" fill="none"/>
</g>
<text x="732.3" y="657.26" text-anchor="middle" letter-spacing="-0.014">25982</text>
<rect x="105.5" y="380.5" width="1380" height="286" fill="none" stroke="#000" stroke-width="1.11" stroke-linejoin="miter"/>
<text x="163.44" y="687" text-anchor="middle">0</text>
<text x="387.88" y="687" text-anchor="middle" letter-spacing="-0.360">500</text>
<text x="615.21" y="687" text-anchor="middle" letter-spacing="-0.250">1000</text>
<text x="841.23" y="687" text-anchor="middle" letter-spacing="-0.220">1500</text>
<text x="1067.7" y="687" text-anchor="middle">2000</text>
<text x="1294.47" y="687" text-anchor="middle" letter-spacing="0.050">2500</text>
<path d="M162.5 666.5V671.5M389.5 666.5V671.5M615.5 666.5V671.5M842.5 666.5V671.5M1068.5 666.5V671.5M1294.5 666.5V671.5" stroke="#000" stroke-width="1.11" fill="none"/>
<text x="95.92" y="659" text-anchor="end">8.56</text>
<text x="95.92" y="602" text-anchor="end">8.58</text>
<text x="95.92" y="545" text-anchor="end">8.60</text>
<text x="95.92" y="488" text-anchor="end">8.62</text>
<text x="95.92" y="431" text-anchor="end">8.64</text>
<path d="M105.5 654.5H100.5M105.5 597.5H100.5M105.5 539.5H100.5M105.5 482.5H100.5M105.5 425.5H100.5" stroke="#000" stroke-width="1.11" fill="none"/>
<text x="795.19" y="371.97" text-anchor="middle" class="t12" letter-spacing="0.045">Magnitude Estimates</text>
<rect x="1348.5" y="613.5" width="130" height="46" rx="2.78" ry="2.78" fill="#fff" fill-opacity="0.8" stroke="#ccc" stroke-opacity="0.8" stroke-width="1.39"/>
<circle cx="1367.5" cy="626.5" r="1.86" fill="#ffa500"/>
<text x="1393.11" y="629.83" letter-spacing="-0.100">Highlighted</text>
<circle cx="1367.5" cy="647.5" r="1.86" fill="#000"/>
<text x="1392.83" y="650.78" letter-spacing="-0.961">OK</text>
<rect x="1365.5" y="387.5" width="113" height="48" rx="2.78" ry="2.78" fill="#fff" fill-opacity="0.8" stroke="#ccc" stroke-opacity="0.8" stroke-width="1.39"/>
<path d="M1370.5 399.5H1398.5" stroke="#ffa500" stroke-width="2.78" stroke-linecap="square" fill="none"/>
<text x="1409.98" y="403.8" letter-spacing="-0.079">mag<tspan class="sub" dx="-0.6" dy="2.4">OBSID</tspan></text>
<path d="M1370 422H1398" stroke="#f00" stroke-width="2.08" stroke-linecap="square" fill="none"/>
<text x="1408.95" y="426.74" letter-spacing="-0.452">mag</text>
<rect x="162.5" y="498.5" width="1141" height="50" fill="#ffa500" fill-opacity="0.1" stroke="#ffa500" stroke-opacity="0.1" stroke-width="1.39"/>
<clipPath id="c3"><rect x="105.1" y="725.3" width="1379.9" height="228.78"/></clipPath>
<g clip-path="url(#c3)">
<g fill="#000"><circle cx="223.5" cy="840.5" r="1.55"/><circle cx="235.5" cy="840.5" r="1.55"/><circle cx="237.5" cy="840.5" r="1.55"/><circle cx="245.5" cy="840.5" r="1.55"/><circle cx="246.5" cy="840.5" r="1.55"/><circle cx="375.5" cy="840.5" r="1.55"/><circle cx="380.5" cy="840.5" r="1.55"/><circle cx="421.5" cy="840.5" r="1.55"/><circle cx="545.5" cy="840.5" r="1.55"/><circle cx="546.5" cy="840.5" r="1.55"/><circle cx="572.5" cy="840.5" r="1.55"/><circle cx="622.5" cy="840.5" r="1.55"/><circle cx="627.5" cy="840.5" r="1.55"/><circle cx="640.5" cy="840.5" r="1.55"/><circle cx="730.5" cy="840.5" r="1.55"/><circle cx="737.5" cy="840.5" r="1.55"/><circle cx="738.5" cy="840.5" r="1.55"/><circle cx="816.5" cy="840.5" r="1.55"/><circle cx="818.5" cy="840.5" r="1.55"/><circle cx="902.5" cy="840.5" r="1.55"/><circle cx="938.5" cy="840.5" r="1.55"/><circle cx="943.5" cy="840.5" r="1.55"/><circle cx="949.5" cy="840.5" r="1.55"/><circle cx="952.5" cy="840.5" r="1.55"/><circle cx="953.5" cy="840.5" r="1.55"/><circle cx="991.5" cy="840.5" r="1.55"/><circle cx="1039.5" cy="840.5" r="1.55"/><circle cx="1065.5" cy="840.5" r="1.55"/><circle cx="1125.5" cy="840.5" r="1.55"/><circle cx="1126.5" cy="840.5" r="1.55"/><circle cx="1128.5" cy="840.5" r="1.55"/><circle cx="1130.5" cy="840.5" r="1.55"/><circle cx="1131.5" cy="840.5" r="1.55"/><circle cx="1133.5" cy="840.5" r="1.55"/><circle cx="1135.5" cy="840.5" r="1.55"/><circle cx="1136.5" cy="840.5" r="1.55"/><circle cx="1138.5" cy="840.5" r="1.55"/><circle cx="1143.5" cy="840.5" r="1.55"/><circle cx="1146.5" cy="840.5" r="1.55"/><circle cx="1150.5" cy="840.5" r="1.55"/><circle cx="1151.5" cy="840.5" r="1.55"/><circle cx="1153.5" cy="840.5" r="1.55"/><circle cx="1155.5" cy="840.5" r="1.55"/><circle cx="1156.5" cy="840.5" r="1.55"/><circle cx="1158.5" cy="840.5" r="1.55"/><circle cx="1160.5" cy="840.5" r="1.55"/><circle cx="1161.5" cy="840.5" r="1.55"/><circle cx="1183.5" cy="840.5" r="1.55"/><circle cx="1202.5" cy="840.5" r="1.55"/><circle cx="1203.5" cy="840.5" r="1.55"/><circle cx="1286.5" cy="840.5" r="1.55"/><circle cx="1287.5" cy="840.5" r="1.55"/></g>
<g fill="#000"><circle cx="223.5" cy="878.5" r="1.55"/><circle cx="235.5" cy="878.5" r="1.55"/><circle cx="237.5" cy="878.5" r="1.55"/><circle cx="245.5" cy="878.5" r="1.55"/><circle cx="246.5" cy="878.5" r="1.55"/><circle cx="375.5" cy="878.5" r="1.55"/><circle cx="380.5" cy="878.5" r="1.55"/><circle cx="421.5" cy="878.5" r="1.55"/><circle cx="545.5" cy="878.5" r="1.55"/><circle cx="546.5" cy="878.5" r="1.55"/><circle cx="572.5" cy="878.5" r="1.55"/><circle cx="622.5" cy="878.5" r="1.55"/><circle cx="627.5" cy="878.5" r="1.55"/><circle cx="640.5" cy="878.5" r="1.55"/><circle cx="730.5" cy="878.5" r="1.55"/><circle cx="737.5" cy="878.5" r="1.55"/><circle cx="738.5" cy="878.5" r="1.55"/><circle cx="816.5" cy="878.5" r="1.55"/><circle cx="818.5" cy="878.5" r="1.55"/><circle cx="902.5" cy="878.5" r="1.55"/><circle cx="938.5" cy="878.5" r="1.55"/><circle cx="943.5" cy="878.5" r="1.55"/><circle cx="949.5" cy="878.5" r="1.55"/><circle cx="952.5" cy="878.5" r="1.55"/><circle cx="953.5" cy="878.5" r="1.55"/><circle cx="991.5" cy="878.5" r="1.55"/><circle cx="1039.5" cy="878.5" r="1.55"/><circle cx="1065.5" cy="878.5" r="1.55"/><circle cx="1125.5" cy="878.5" r="1.55"/><circle cx="1126.5" cy="878.5" r="1.55"/><circle cx="1128.5" cy="878.5" r="1.55"/><circle cx="1130.5" cy="878.5" r="1.55"/><circle cx="1131.5" cy="878.5" r="1.55"/><circle cx="1133.5" cy="878.5" r="1.55"/><circle cx="1135.5" cy="878.5" r="1.55"/><circle cx="1136.5" cy="878.5" r="1.55"/><circle cx="1138.5" cy="878.5" r="1.55"/><circle cx="1143.5" cy="878.5" r="1.55"/><circle cx="1146.5" cy="878.5" r="1.55"/><circle cx="1150.5" cy="878.5" r="1.55"/><circle cx="1151.5" cy="878.5" r="1.55"/><circle cx="1153.5" cy="878.5" r="1.55"/><circle cx="1155.5" cy="878.5" r="1.55"/><circle cx="1156.5" cy="878.5" r="1.55"/><circle cx="1158.5" cy="878.5" r="1.55"/><circle cx="1160.5" cy="878.5" r="1.55"/><circle cx="1161.5" cy="878.5" r="1.55"/><circle cx="1183.5" cy="878.5" r="1.55"/><circle cx="1202.5" cy="878.5" r="1.55"/><circle cx="1203.5" cy="878.5" r="1.55"/><circle cx="1286.5" cy="878.5" r="1.55"/><circle cx="1287.5" cy="878.5" r="1.55"/></g>
<path d="M105.5 763.5H1485.5M105.5 802.5H1485.5M105.5 840.5H1485.5M105.5 878.5H1485.5M105.5 916.5H1485.5" stroke="#b0b0b0" stroke-width="1.11" stroke-dasharray="1.1111 1.8333" fill="none"/>
<path d="M162 954V725" stroke="#800080" stroke-width="2.08" stroke-dasharray="2.0833 3.4375" fill="none"/>
<path d="M1303 954V725" stroke="#800080" stroke-width="2.08" stroke-dasharray="2.0833 3.4375" fill="none"/>
</g>
<rect x="105.5" y="725.5" width="1380" height="229" fill="none" stroke="#000" stroke-width="1.11" stroke-linejoin="miter"/>
<text x="95.5" y="921" text-anchor="end" letter-spacing="0.007">OBS not OK</text>
<text x="95.74" y="883" text-anchor="end" letter-spacing="-0.015">dr &gt; 5</text>
<text x="95.59" y="845" text-anchor="end" letter-spacing="-0.016">Ion. rad.</text>
<text x="95.72" y="807" text-anchor="end" letter-spacing="0.034">not track</text>
<text x="95.17" y="769" text-anchor="end" letter-spacing="-0.007">not Kalman</text>
<path d="M105.5 916.5H100.5M105.5 878.5H100.5M105.5 840.5H100.5M105.5 802.5H100.5M105.5 763.5H100.5" stroke="#000" stroke-width="1.11" fill="none"/>
<clipPath id="c4"><rect x="105.1" y="954.08" width="1379.9" height="57.2"/></clipPath>
<g clip-path="url(#c4)">
<g fill="#000"><circle cx="162.5" cy="1004.5" r="1.55"/><circle cx="163.5" cy="1004.5" r="1.55"/><circle cx="164.5" cy="1004.5" r="1.55"/><circle cx="165.5" cy="1004.5" r="1.55"/><circle cx="166.5" cy="1004.5" r="1.55"/><circle cx="167.5" cy="1004.5" r="1.55"/><circle cx="168.5" cy="1005.5" r="1.55"/><circle cx="169.5" cy="1005.5" r="1.55"/><circle cx="169.5" cy="1006.5" r="1.55"/><circle cx="170.5" cy="1006.5" r="1.55"/><circle cx="171.5" cy="1006.5" r="1.55"/><circle cx="172.5" cy="1006.5" r="1.55"/><circle cx="173.5" cy="1006.5" r="1.55"/><circle cx="174.5" cy="1006.5" r="1.55"/><circle cx="175.5" cy="1006.5" r="1.55"/><circle cx="176.5" cy="1006.5" r="1.55"/><circle cx="177.5" cy="1006.5" r="1.55"/><circle cx="178.5" cy="1006.5" r="1.55"/><circle cx="179.5" cy="1006.5" r="1.55"/><circle cx="180.5" cy="1006.5" r="1.55"/><circle cx="181.5" cy="1006.5" r="1.55"/><circle cx="182.5" cy="1006.5" r="1.55"/><circle cx="183.5" cy="1006.5" r="1.55"/><circle cx="184.5" cy="1006.5" r="1.55"/><circle cx="184.5" cy="1005.5" r="1.55"/><circle cx="185.5" cy="1003.5" r="1.55"/><circle cx="185.5" cy="1002.5" r="1.55"/><circle cx="186.5" cy="1001.5" r="1.55"/><circle cx="187.5" cy="1002.5" r="1.55"/><circle cx="188.5" cy="1002.5" r="1.55"/><circle cx="189.5" cy="1003.5" r="1.55"/><circle cx="190.5" cy="1003.5" r="1.55"/><circle cx="191.5" cy="1004.5" r="1.55"/><circle cx="192.5" cy="1004.5" r="1.55"/><circle cx="193.5" cy="1005.5" r="1.55"/><circle cx="194.5" cy="1005.5" r="1.55"/><circle cx="195.5" cy="1006.5" r="1.55"/><circle cx="196.5" cy="1006.5" r="1.55"/><circle cx="196.5" cy="1007.5" r="1.55"/><circle cx="197.5" cy="1006.5" r="1.55"/><circle cx="198.5" cy="1006.5" r="1.55"/><circle cx="199.5" cy="1007.5" r="1.55"/><circle cx="199.5" cy="1006.5" r="1.55"/><circle cx="200.5" cy="1006.5" r="1.55"/><circle cx="201.5" cy="1006.5" r="1.55"/><circle cx="202.5" cy="1006.5" r="1.55"/><circle cx="203.5" cy="1006.5" r="1.55"/><circle cx="204.5" cy="1006.5" r="1.55"/><circle cx="205.5" cy="1006.5" r="1.55"/><circle cx="206.5" cy="1006.5" r="1.55"/><circle cx="206.5" cy="1005.5" r="1.55"/><circle cx="207.5" cy="1005.5" r="1.55"/><circle cx="208.5" cy="1005.5" r="1.55"/><circle cx="209.5" cy="1005.5" r="1.55"/><circle cx="210.5" cy="1005.5" r="1.55"/><circle cx="211.5" cy="1005.5" r="1.55"/><circle cx="212.5" cy="1005.5" r="1.55"/><circle cx="213.5" cy="1005.5" r="1.55"/><circle cx="214.5" cy="1005.5" r="1.55"/><circle cx="214.5" cy="1004.5" r="1.55"/><circle cx="215.5" cy="1004.5" r="1.55"/><circle cx="216.5" cy="1004.5" r="1.55"/><circle cx="217.5" cy="1005.5" r="1.55"/><circle cx="217.5" cy="1004.5" r="1.55"/><circle cx="218.5" cy="1004.5" r="1.55"/><circle cx="219.5" cy="1004.5" r="1.55"/><circle cx="220.5" cy="1004.5" r="1.55"/><circle cx="220.5" cy="1005.5" r="1.55"/><circle cx="221.5" cy="1004.5" r="1.55"/><circle cx="221.5" cy="1005.5" r="1.55"/><circle cx="222.5" cy="1004.5" r="1.55"/><circle cx="222.5" cy="1005.5" r="1.55"/><circle cx="222.5" cy="1006.5" r="1.55"/><circle cx="223.5" cy="1008.5" r="1.55"/><circle cx="224.5" cy="1008.5" r="1.55"/><circle cx="225.5" cy="1008.5" r="1.55"/><circle cx="226.5" cy="1008.5" r="1.55"/><circle cx="227.5" cy="1007.5" r="1.55"/><circle cx="228.5" cy="1007.5" r="1.55"/><circle cx="229.5" cy="1007.5" r="1.55"/><circle cx="230.5" cy="1007.5" r="1.55"/><circle cx="231.5" cy="1007.5" r="1.55"/><circle cx="232.5" cy="1007.5" r="1.55"/><circle cx="232.5" cy="1006.5" r="1.55"/><circle cx="233.5" cy="1006.5" r="1.55"/><circle cx="234.5" cy="1006.5" r="1.55"/><circle cx="235.5" cy="1006.5" r="1.55"/><circle cx="236.5" cy="1005.5" r="1.55"/><circle cx="237.5" cy="1005.5" r="1.55"/><circle cx="238.5" cy="1005.5" r="1.55"/><circle cx="239.5" cy="1005.5" r="1.55"/><circle cx="240.5" cy="1005.5" r="1.55"/><circle cx="240.5" cy="1004.5" r="1.55"/><circle cx="241.5" cy="1004.5" r="1.55"/><circle cx="242.5" cy="1004.5" r="1.55"/><circle cx="243.5" cy="1004.5" r="1.55"/><circle cx="244.5" cy="1004.5" r="1.55"/><circle cx="244.5" cy="1003.5" r="1.55"/><circle cx="245.5" cy="1003.5" r="1.55"/><circle cx="246.5" cy="1003.5" r="1.55"/><circle cx="247.5" cy="1004.5" r="1.55"/><circle cx="247.5" cy="1005.5" r="1.55"/><circle cx="248.5" cy="1007.5" r="1.55"/><circle cx="248.5" cy="1008.5" r="1.55"/><circle cx="249.5" cy="1008.5" r="1.55"/><circle cx="250.5" cy="1008.5" r="1.55"/><circle cx="251.5" cy="1008.5" r="1.55"/><circle cx="252.5" cy="1008.5" r="1.55"/><circle cx="253.5" cy="1008.5" r="1.55"/><circle cx="254.5" cy="1008.5" r="1.55"/><circle cx="255.5" cy="1008.5" r="1.55"/><circle cx="255.5" cy="1007.5" r="1.55"/><circle cx="256.5" cy="1007.5" r="1.55"/><circle cx="257.5" cy="1007.5" r="1.55"/><circle cx="258.5" cy="1006.5" r="1.55"/><circle cx="259.5" cy="1007.5" r="1.55"/><circle cx="260.5" cy="1007.5" r="1.55"/><circle cx="261.5" cy="1007.5" r="1.55"/><circle cx="261.5" cy="1008.5" r="1.55"/><circle cx="262.5" cy="1008.5" r="1.55"/><circle cx="263.5" cy="1009.5" r="1.55"/><circle cx="264.5" cy="1009.5" r="1.55"/><circle cx="265.5" cy="1009.5" r="1.55"/><circle cx="265.5" cy="1008.5" r="1.55"/><circle cx="266.5" cy="1008.5" r="1.55"/><circle cx="267.5" cy="1008.5" r="1.55"/><circle cx="268.5" cy="1008.5" r="1.55"/><circle cx="268.5" cy="1007.5" r="1.55"/><circle cx="269.5" cy="1007.5" r="1.55"/><circle cx="270.5" cy="1007.5" r="1.55"/><circle cx="271.5" cy="1007.5" r="1.55"/><circle cx="271.5" cy="1006.5" r="1.55"/><circle cx="272.5" cy="1007.5" r="1.55"/><circle cx="272.5" cy="1006.5" r="1.55"/><circle cx="273.5" cy="1006.5" r="1.55"/><circle cx="274.5" cy="1006.5" r="1.55"/><circle cx="275.5" cy="1005.5" r="1.55"/><circle cx="276.5" cy="1006.5" r="1.55"/><circle cx="277.5" cy="1005.5" r="1.55"/><circle cx="277.5" cy="1006.5" r="1.55"/><circle cx="278.5" cy="1006.5" r="1.55"/><circle cx="279.5" cy="1006.5" r="1.55"/><circle cx="280.5" cy="1006.5" r="1.55"/><circle cx="281.5" cy="1006.5" r="1.55"/><circle cx="282.5" cy="1007.5" r="1.55"/><circle cx="283.5" cy="1007.5" r="1.55"/><circle cx="284.5" cy="1007.5" r="1.55"/><circle cx="285.5" cy="1007.5" r="1.55"/><circle cx="285.5" cy="1008.5" r="1.55"/><circle cx="286.5" cy="1008.5" r="1.55"/><circle cx="287.5" cy="1008.5" r="1.55"/><circle cx="288.5" cy="1008.5" r="1.55"/><circle cx="289.5" cy="1008.5" r="1.55"/><circle cx="290.5" cy="1008.5" r="1.55"/><circle cx="291.5" cy="1008.5" r="1.55"/><circle cx="292.5" cy="1008.5" r="1.55"/><circle cx="293.5" cy="1008.5" r="1.55"/><circle cx="293.5" cy="1007.5" r="1.55"/><circle cx="294.5" cy="1007.5" r="1.55"/><circle cx="295.5" cy="1007.5" r="1.55"/><circle cx="296.5" cy="1007.5" r="1.55"/><circle cx="297.5" cy="1007.5" r="1.55"/><circle cx="298.5" cy="1007.5" r="1.55"/><circle cx="299.5" cy="1007.5" r="1.55"/><circle cx="300.5" cy="1007.5" r="1.55"/><circle cx="301.5" cy="1007.5" r="1.55"/><circle cx="302.5" cy="1006.5" r="1.55"/><circle cx="303.5" cy="1007.5" r="1.55"/><circle cx="304.5" cy="1007.5" r="1.55"/><circle cx="305.5" cy="1007.5" r="1.55"/><circle cx="306.5" cy="1007.5" r="1.55"/><circle cx="307.5" cy="1007.5" r="1.55"/><circle cx="308.5" cy="1008.5" r="1.55"/><circle cx="309.5" cy="1008.5" r="1.55"/><circle cx="310.5" cy="1008.5" r="1.55"/><circle cx="311.5" cy="1008.5" r="1.55"/><circle cx="312.5" cy="1008.5" r="1.55"/><circle cx="313.5" cy="1008.5" r="1.55"/><circle cx="314.5" cy="1008.5" r="1.55"/><circle cx="315.5" cy="1008.5" r="1.55"/><circle cx="316.5" cy="1008.5" r="1.55"/><circle cx="317.5" cy="1008.5" r="1.55"/><circle cx="318.5" cy="1008.5" r="1.55"/><circle cx="319.5" cy="1007.5" r="1.55"/><circle cx="320.5" cy="1007.5" r="1.55"/><circle cx="321.5" cy="1007.5" r="1.55"/><circle cx="321.5" cy="1006.5" r="1.55"/><circle cx="322.5" cy="1006.5" r="1.55"/><circle cx="323.5" cy="1006.5" r="1.55"/><circle cx="324.5" cy="1006.5" r="1.55"/><circle cx="325.5" cy="1006.5" r="1.55"/><circle cx="326.5" cy="1006.5" r="1.55"/><circle cx="327.5" cy="1006.5" r="1.55"/><circle cx="328.5" cy="1006.5" r="1.55"/><circle cx="329.5" cy="1007.5" r="1.55"/><circle cx="330.5" cy="1007.5" r="1.55"/><circle cx="330.5" cy="1008.5" r="1.55"/><circle cx="331.5" cy="1008.5" r="1.55"/><circle cx="332.5" cy="1008.5" r="1.55"/><circle cx="333.5" cy="1008.5" r="1.55"/><circle cx="333.5" cy="1007.5" r="1.55"/><circle cx="334.5" cy="1007.5" r="1.55"/><circle cx="335.5" cy="1007.5" r="1.55"/><circle cx="336.5" cy="1007.5" r="1.55"/><circle cx="337.5" cy="1007.5" r="1.55"/><circle cx="338.5" cy="1006.5" r="1.55"/><circle cx="339.5" cy="1006.5" r="1.55"/><circle cx="340.5" cy="1006.5" r="1.55"/><circle cx="340.5" cy="1007.5" r="1.55"/><circle cx="341.5" cy="1007.5" r="1.55"/><circle cx="342.5" cy="1006.5" r="1.55"/><circle cx="342.5" cy="1007.5" r="1.55"/><circle cx="343.5" cy="1007.5" r="1.55"/><circle cx="344.5" cy="1007.5" r="1.55"/><circle cx="345.5" cy="1007.5" r="1.55"/><circle cx="346.5" cy="1007.5" r="1.55"/><circle cx="347.5" cy="1007.5" r="1.55"/><circle cx="348.5" cy="1007.5" r="1.55"/><circle cx="349.5" cy="1007.5" r="1.55"/><circle cx="349.5" cy="1008.5" r="1.55"/><circle cx="350.5" cy="1008.5" r="1.55"/><circle cx="351.5" cy="1008.5" r="1.55"/><circle cx="352.5" cy="1008.5" r="1.55"/><circle cx="353.5" cy="1008.5" r="1.55"/><circle cx="354.5" cy="1008.5" r="1.55"/><circle cx="355.5" cy="1008.5" r="1.55"/><circle cx="356.5" cy="1008.5" r="1.55"/><circle cx="357.5" cy="1007.5" r="1.55"/><circle cx="358.5" cy="1007.5" r="1.55"/><circle cx="359.5" cy="1007.5" r="1.55"/><circle cx="360.5" cy="1007.5" r="1.55"/><circle cx="361.5" cy="1007.5" r="1.55"/><circle cx="362.5" cy="1007.5" r="1.55"/><circle cx="363.5" cy="1007.5" r="1.55"/><circle cx="364.5" cy="1007.5" r="1.55"/><circle cx="365.5" cy="1007.5" r="1.55"/><circle cx="365.5" cy="1006.5" r="1.55"/><circle cx="366.5" cy="1007.5" r="1.55"/><circle cx="366.5" cy="1006.5" r="1.55"/><circle cx="367.5" cy="1006.5" r="1.55"/><circle cx="367.5" cy="1007.5" r="1.55"/><circle cx="368.5" cy="1006.5" r="1.55"/><circle cx="368.5" cy="1007.5" r="1.55"/><circle cx="369.5" cy="1006.5" r="1.55"/><circle cx="370.5" cy="1006.5" r="1.55"/><circle cx="371.5" cy="1006.5" r="1.55"/><circle cx="372.5" cy="1006.5" r="1.55"/><circle cx="373.5" cy="1006.5" r="1.55"/><circle cx="374.5" cy="1006.5" r="1.55"/><circle cx="375.5" cy="1006.5" r="1.55"/><circle cx="375.5" cy="1005.5" r="1.55"/><circle cx="376.5" cy="1005.5" r="1.55"/><circle cx="377.5" cy="1005.5" r="1.55"/><circle cx="377.5" cy="1004.5" r="1.55"/><circle cx="378.5" cy="1004.5" r="1.55"/><circle cx="379.5" cy="1005.5" r="1.55"/><circle cx="380.5" cy="1006.5" r="1.55"/><circle cx="381.5" cy="1006.5" r="1.55"/><circle cx="381.5" cy="1007.5" r="1.55"/><circle cx="382.5" cy="1007.5" r="1.55"/><circle cx="383.5" cy="1008.5" r="1.55"/><circle cx="384.5" cy="1008.5" r="1.55"/><circle cx="384.5" cy="1009.5" r="1.55"/><circle cx="385.5" cy="1009.5" r="1.55"/><circle cx="386.5" cy="1009.5" r="1.55"/><circle cx="386.5" cy="1008.5" r="1.55"/><circle cx="387.5" cy="1008.5" r="1.55"/><circle cx="388.5" cy="1008.5" r="1.55"/><circle cx="389.5" cy="1007.5" r="1.55"/><circle cx="390.5" cy="1007.5" r="1.55"/><circle cx="391.5" cy="1007.5" r="1.55"/><circle cx="391.5" cy="1006.5" r="1.55"/><circle cx="392.5" cy="1006.5" r="1.55"/><circle cx="393.5" cy="1006.5" r="1.55"/><circle cx="394.5" cy="1005.5" r="1.55"/><circle cx="395.5" cy="1005.5" r="1.55"/><circle cx="396.5" cy="1005.5" r="1.55"/><circle cx="397.5" cy="1004.5" r="1.55"/><circle cx="398.5" cy="1004.5" r="1.55"/><circle cx="399.5" cy="1004.5" r="1.55"/><circle cx="399.5" cy="1003.5" r="1.55"/><circle cx="400.5" cy="1003.5" r="1.55"/><circle cx="401.5" cy="1002.5" r="1.55"/><circle cx="402.5" cy="1002.5" r="1.55"/><circle cx="402.5" cy="1001.5" r="1.55"/><circle cx="403.5" cy="1001.5" r="1.55"/><circle cx="403.5" cy="1002.5" r="1.55"/><circle cx="404.5" cy="1002.5" r="1.55"/><circle cx="405.5" cy="1003.5" r="1.55"/><circle cx="405.5" cy="1004.5" r="1.55"/><circle cx="406.5" cy="1004.5" r="1.55"/><circle cx="406.5" cy="1005.5" r="1.55"/><circle cx="407.5" cy="1005.5" r="1.55"/><circle cx="407.5" cy="1006.5" r="1.55"/><circle cx="408.5" cy="1006.5" r="1.55"/><circle cx="409.5" cy="1007.5" r="1.55"/><circle cx="410.5" cy="1007.5" r="1.55"/><circle cx="411.5" cy="1007.5" r="1.55"/><circle cx="412.5" cy="1007.5" r="1.55"/><circle cx="413.5" cy="1007.5" r="1.55"/><circle cx="414.5" cy="1007.5" r="1.55"/><circle cx="415.5" cy="1007.5" r="1.55"/><circle cx="415.5" cy="1006.5" r="1.55"/><circle cx="416.5" cy="1006.5" r="1.55"/><circle cx="417.5" cy="1006.5" r="1.55"/><circle cx="418.5" cy="1007.5" r="1.55"/><circle cx="419.5" cy="1007.5" r="1.55"/><circle cx="420.5" cy="1007.5" r="1.55"/><circle cx="421.5" cy="1007.5" r="1.55"/><circle cx="422.5" cy="1007.5" r="1.55"/><circle cx="423.5" cy="1007.5" r="1.55"/><circle cx="424.5" cy="1007.5" r="1.55"/><circle cx="425.5" cy="1007.5" r="1.55"/><circle cx="426.5" cy="1007.5" r="1.55"/><circle cx="427.5" cy="1007.5" r="1.55"/><circle cx="428.5" cy="1007.5" r="1.55"/><circle cx="429.5" cy="1007.5" r="1.55"/><circle cx="430.5" cy="1007.5" r="1.55"/><circle cx="431.5" cy="1008.5" r="1.55"/><circle cx="431.5" cy="1007.5" r="1.55"/><circle cx="432.5" cy="1008.5" r="1.55"/><circle cx="433.5" cy="1007.5" r="1.55"/><circle cx="434.5" cy="1007.5" r="1.55"/><circle cx="435.5" cy="1008.5" r="1.55"/><circle cx="436.5" cy="1008.5" r="1.55"/><circle cx="437.5" cy="1008.5" r="1.55"/><circle cx="438.5" cy="1008.5" r="1.55"/><circle cx="439.5" cy="1008.5" r="1.55"/><circle cx="440.5" cy="1008.5" r="1.55"/><circle cx="441.5" cy="1008.5" r="1.55"/><circle cx="442.5" cy="1008.5" r="1.55"/><circle cx="443.5" cy="1008.5" r="1.55"/><circle cx="444.5" cy="1008.5" r="1.55"/><circle cx="445.5" cy="1008.5" r="1.55"/><circle cx="446.5" cy="1008.5" r="1.55"/><circle cx="447.5" cy="1008.5" r="1.55"/><circle cx="448.5" cy="1008.5" r="1.55"/><circle cx="449.5" cy="1008.5" r="1.55"/><circle cx="450.5" cy="1008.5" r="1.55"/><circle cx="450.5" cy="1007.5" r="1.55"/><circle cx="451.5" cy="1007.5" r="1.55"/><circle cx="452.5" cy="1007.5" r="1.55"/><circle cx="453.5" cy="1007.5" r="1.55"/><circle cx="454.5" cy="1007.5" r="1.55"/><circle cx="455.5" cy="1007.5" r="1.55"/><circle cx="456.5" cy="1007.5" r="1.55"/><circle cx="457.5" cy="1007.5" r="1.55"/><circle cx="458.5" cy="1007.5" r="1.55"/><circle cx="459.5" cy="1007.5" r="1.55"/><circle cx="460.5" cy="1007.5" r="1.55"/><circle cx="461.5" cy="1007.5" r="1.55"/><circle cx="462.5" cy="1007.5" r="1.55"/><circle cx="463.5" cy="1007.5" r="1.55"/><circle cx="464.5" cy="1007.5" r="1.55"/><circle cx="465.5" cy="1007.5" r="1.55"/><circle cx="465.5" cy="1008.5" r="1.55"/><circle cx="466.5" cy="1008.5" r="1.55"/><circle cx="467.5" cy="1008.5" r="1.55"/><circle cx="468.5" cy="1008.5" r="1.55"/><circle cx="469.5" cy="1008.5" r="1.55"/><circle cx="470.5" cy="1008.5" r="1.55"/><circle cx="471.5" cy="1008.5" r="1.55"/><circle cx="472.5" cy="1008.5" r="1.55"/><circle cx="473.5" cy="1008.5" r="1.55"/><circle cx="474.5" cy="1008.5" r="1.55"/><circle cx="475.5" cy="1008.5" r="1.55"/><circle cx="476.5" cy="1008.5" r="1.55"/><circle cx="477.5" cy="1008.5" r="1.55"/><circle cx="478.5" cy="1008.5" r="1.55"/><circle cx="478.5" cy="1007.5" r="1.55"/><circle cx="479.5" cy="1008.5" r="1.55"/><circle cx="479.5" cy="1007.5" r="1.55"/><circle cx="480.5" cy="1007.5" r="1.55"/><circle cx="481.5" cy="1007.5" r="1.55"/><circle cx="482.5" cy="1007.5" r="1.55"/><circle cx="483.5" cy="1007.5" r="1.55"/><circle cx="484.5" cy="1007.5" r="1.55"/><circle cx="485.5" cy="1007.5" r="1.55"/><circle cx="486.5" cy="1007.5" r="1.55"/><circle cx="487.5" cy="1007.5" r="1.55"/><circle cx="488.5" cy="1007.5" r="1.55"/><circle cx="489.5" cy="1007.5" r="1.55"/><circle cx="490.5" cy="1007.5" r="1.55"/><circle cx="491.5" cy="1007.5" r="1.55"/><circle cx="491.5" cy="1006.5" r="1.55"/><circle cx="492.5" cy="1006.5" r="1.55"/><circle cx="493.5" cy="1006.5" r="1.55"/><circle cx="494.5" cy="1005.5" r="1.55"/><circle cx="495.5" cy="1005.5" r="1.55"/><circle cx="496.5" cy="1005.5" r="1.55"/><circle cx="496.5" cy="1004.5" r="1.55"/><circle cx="497.5" cy="1004.5" r="1.55"/><circle cx="498.5" cy="1004.5" r="1.55"/><circle cx="499.5" cy="1004.5" r="1.55"/><circle cx="500.5" cy="1004.5" r="1.55"/><circle cx="501.5" cy="1004.5" r="1.55"/><circle cx="502.5" cy="1004.5" r="1.55"/><circle cx="503.5" cy="1004.5" r="1.55"/><circle cx="504.5" cy="1004.5" r="1.55"/><circle cx="505.5" cy="1005.5" r="1.55"/><circle cx="506.5" cy="1005.5" r="1.55"/><circle cx="507.5" cy="1005.5" r="1.55"/><circle cx="508.5" cy="1006.5" r="1.55"/><circle cx="509.5" cy="1006.5" r="1.55"/><circle cx="509.5" cy="1005.5" r="1.55"/><circle cx="510.5" cy="1006.5" r="1.55"/><circle cx="511.5" cy="1005.5" r="1.55"/><circle cx="512.5" cy="1005.5" r="1.55"/><circle cx="513.5" cy="1005.5" r="1.55"/><circle cx="514.5" cy="1005.5" r="1.55"/><circle cx="514.5" cy="1006.5" r="1.55"/><circle cx="515.5" cy="1005.5" r="1.55"/><circle cx="516.5" cy="1005.5" r="1.55"/><circle cx="516.5" cy="1004.5" r="1.55"/><circle cx="517.5" cy="1004.5" r="1.55"/><circle cx="518.5" cy="1004.5" r="1.55"/><circle cx="519.5" cy="1004.5" r="1.55"/><circle cx="519.5" cy="1003.5" r="1.55"/><circle cx="520.5" cy="1003.5" r="1.55"/><circle cx="521.5" cy="1003.5" r="1.55"/><circle cx="522.5" cy="1004.5" r="1.55"/><circle cx="523.5" cy="1005.5" r="1.55"/><circle cx="524.5" cy="1005.5" r="1.55"/><circle cx="525.5" cy="1005.5" r="1.55"/><circle cx="526.5" cy="1005.5" r="1.55"/><circle cx="527.5" cy="1005.5" r="1.55"/><circle cx="528.5" cy="1005.5" r="1.55"/><circle cx="529.5" cy="1005.5" r="1.55"/><circle cx="530.5" cy="1005.5" r="1.55"/><circle cx="531.5" cy="1005.5" r="1.55"/><circle cx="532.5" cy="1005.5" r="1.55"/><circle cx="533.5" cy="1005.5" r="1.55"/><circle cx="533.5" cy="1006.5" r="1.55"/><circle cx="534.5" cy="1006.5" r="1.55"/><circle cx="534.5" cy="1007.5" r="1.55"/><circle cx="535.5" cy="1007.5" r="1.55"/><circle cx="535.5" cy="1008.5" r="1.55"/><circle cx="536.5" cy="1008.5" r="1.55"/><circle cx="537.5" cy="1008.5" r="1.55"/><circle cx="538.5" cy="1007.5" r="1.55"/><circle cx="539.5" cy="1007.5" r="1.55"/><circle cx="540.5" cy="1007.5" r="1.55"/><circle cx="540.5" cy="1006.5" r="1.55"/><circle cx="541.5" cy="1007.5" r="1.55"/><circle cx="541.5" cy="1006.5" r="1.55"/><circle cx="542.5" cy="1006.5" r="1.55"/><circle cx="543.5" cy="1006.5" r="1.55"/><circle cx="544.5" cy="1006.5" r="1.55"/><circle cx="545.5" cy="1007.5" r="1.55"/><circle cx="546.5" cy="1007.5" r="1.55"/><circle cx="546.5" cy="1008.5" r="1.55"/><circle cx="547.5" cy="1008.5" r="1.55"/><circle cx="547.5" cy="1007.5" r="1.55"/><circle cx="548.5" cy="1007.5" r="1.55"/><circle cx="549.5" cy="1007.5" r="1.55"/><circle cx="550.5" cy="1007.5" r="1.55"/><circle cx="551.5" cy="1007.5" r="1.55"/><circle cx="552.5" cy="1007.5" r="1.55"/><circle cx="553.5" cy="1007.5" r="1.55"/><circle cx="554.5" cy="1007.5" r="1.55"/><circle cx="555.5" cy="1007.5" r="1.55"/><circle cx="556.5" cy="1007.5" r="1.55"/><circle cx="557.5" cy="1007.5" r="1.55"/><circle cx="558.5" cy="1007.5" r="1.55"/><circle cx="559.5" cy="1007.5" r="1.55"/><circle cx="560.5" cy="1007.5" r="1.55"/><circle cx="561.5" cy="1007.5" r="1.55"/><circle cx="562.5" cy="1008.5" r="1.55"/><circle cx="562.5" cy="1007.5" r="1.55"/><circle cx="563.5" cy="1007.5" r="1.55"/><circle cx="563.5" cy="1008.5" r="1.55"/><circle cx="564.5" cy="1008.5" r="1.55"/><circle cx="565.5" cy="1007.5" r="1.55"/><circle cx="566.5" cy="1007.5" r="1.55"/><circle cx="567.5" cy="1007.5" r="1.55"/><circle cx="568.5" cy="1007.5" r="1.55"/><circle cx="569.5" cy="1007.5" r="1.55"/><circle cx="570.5" cy="1007.5" r="1.55"/><circle cx="571.5" cy="1007.5" r="1.55"/><circle cx="572.5" cy="1007.5" r="1.55"/><circle cx="573.5" cy="1007.5" r="1.55"/><circle cx="573.5" cy="1006.5" r="1.55"/><circle cx="574.5" cy="1006.5" r="1.55"/><circle cx="575.5" cy="1006.5" r="1.55"/><circle cx="576.5" cy="1006.5" r="1.55"/><circle cx="576.5" cy="1007.5" r="1.55"/><circle cx="577.5" cy="1007.5" r="1.55"/><circle cx="578.5" cy="1007.5" r="1.55"/><circle cx="578.5" cy="1008.5" r="1.55"/><circle cx="579.5" cy="1008.5" r="1.55"/><circle cx="580.5" cy="1008.5" r="1.55"/><circle cx="581.5" cy="1008.5" r="1.55"/><circle cx="582.5" cy="1008.5" r="1.55"/><circle cx="583.5" cy="1008.5" r="1.55"/><circle cx="584.5" cy="1007.5" r="1.55"/><circle cx="584.5" cy="1008.5" r="1.55"/><circle cx="585.5" cy="1007.5" r="1.55"/><circle cx="586.5" cy="1007.5" r="1.55"/><circle cx="587.5" cy="1007.5" r="1.55"/><circle cx="588.5" cy="1007.5" r="1.55"/><circle cx="588.5" cy="1006.5" r="1.55"/><circle cx="589.5" cy="1006.5" r="1.55"/><circle cx="590.5" cy="1006.5" r="1.55"/><circle cx="591.5" cy="1006.5" r="1.55"/><circle cx="592.5" cy="1005.5" r="1.55"/><circle cx="593.5" cy="1005.5" r="1.55"/><circle cx="593.5" cy="1006.5" r="1.55"/><circle cx="594.5" cy="1006.5" r="1.55"/><circle cx="595.5" cy="1006.5" r="1.55"/><circle cx="596.5" cy="1006.5" r="1.55"/><circle cx="597.5" cy="1006.5" r="1.55"/><circle cx="598.5" cy="1006.5" r="1.55"/><circle cx="599.5" cy="1007.5" r="1.55"/><circle cx="600.5" cy="1007.5" r="1.55"/><circle cx="601.5" cy="1007.5" r="1.55"/><circle cx="602.5" cy="1008.5" r="1.55"/><circle cx="603.5" cy="1008.5" r="1.55"/><circle cx="604.5" cy="1008.5" r="1.55"/><circle cx="605.5" cy="1008.5" r="1.55"/><circle cx="606.5" cy="1008.5" r="1.55"/><circle cx="607.5" cy="1007.5" r="1.55"/><circle cx="608.5" cy="1007.5" r="1.55"/><circle cx="609.5" cy="1007.5" r="1.55"/><circle cx="610.5" cy="1007.5" r="1.55"/><circle cx="610.5" cy="1006.5" r="1.55"/><circle cx="611.5" cy="1006.5" r="1.55"/><circle cx="612.5" cy="1006.5" r="1.55"/><circle cx="613.5" cy="1006.5" r="1.55"/><circle cx="614.5" cy="1006.5" r="1.55"/><circle cx="615.5" cy="1006.5" r="1.55"/><circle cx="616.5" cy="1006.5" r="1.55"/><circle cx="617.5" cy="1006.5" r="1.55"/><circle cx="618.5" cy="1006.5" r="1.55"/><circle cx="619.5" cy="1006.5" r="1.55"/><circle cx="620.5" cy="1006.5" r="1.55"/><circle cx="621.5" cy="1006.5" r="1.55"/><circle cx="622.5" cy="1007.5" r="1.55"/><circle cx="623.5" cy="1007.5" r="1.55"/><circle cx="624.5" cy="1007.5" r="1.55"/><circle cx="625.5" cy="1008.5" r="1.55"/><circle cx="626.5" cy="1008.5" r="1.55"/><circle cx="627.5" cy="1008.5" r="1.55"/><circle cx="628.5" cy="1008.5" r="1.55"/><circle cx="629.5" cy="1008.5" r="1.55"/><circle cx="630.5" cy="1008.5" r="1.55"/><circle cx="631.5" cy="1008.5" r="1.55"/><circle cx="631.5" cy="1007.5" r="1.55"/><circle cx="632.5" cy="1007.5" r="1.55"/><circle cx="633.5" cy="1007.5" r="1.55"/><circle cx="634.5" cy="1007.5" r="1.55"/><circle cx="635.5" cy="1007.5" r="1.55"/><circle cx="636.5" cy="1006.5" r="1.55"/><circle cx="637.5" cy="1006.5" r="1.55"/><circle cx="637.5" cy="1007.5" r="1.55"/><circle cx="638.5" cy="1007.5" r="1.55"/><circle cx="639.5" cy="1007.5" r="1.55"/><circle cx="640.5" cy="1007.5" r="1.55"/><circle cx="641.5" cy="1007.5" r="1.55"/><circle cx="642.5" cy="1008.5" r="1.55"/><circle cx="643.5" cy="1007.5" r="1.55"/><circle cx="644.5" cy="1007.5" r="1.55"/><circle cx="645.5" cy="1007.5" r="1.55"/><circle cx="646.5" cy="1007.5" r="1.55"/><circle cx="646.5" cy="1006.5" r="1.55"/><circle cx="647.5" cy="1006.5" r="1.55"/><circle cx="648.5" cy="1006.5" r="1.55"/><circle cx="649.5" cy="1006.5" r="1.55"/><circle cx="650.5" cy="1006.5" r="1.55"/><circle cx="651.5" cy="1006.5" r="1.55"/><circle cx="651.5" cy="1005.5" r="1.55"/><circle cx="652.5" cy="1005.5" r="1.55"/><circle cx="653.5" cy="1005.5" r="1.55"/><circle cx="654.5" cy="1005.5" r="1.55"/><circle cx="655.5" cy="1005.5" r="1.55"/><circle cx="656.5" cy="1004.5" r="1.55"/><circle cx="657.5" cy="1004.5" r="1.55"/><circle cx="657.5" cy="1005.5" r="1.55"/><circle cx="658.5" cy="1005.5" r="1.55"/><circle cx="659.5" cy="1006.5" r="1.55"/><circle cx="660.5" cy="1006.5" r="1.55"/><circle cx="661.5" cy="1006.5" r="1.55"/><circle cx="661.5" cy="1007.5" r="1.55"/><circle cx="662.5" cy="1007.5" r="1.55"/><circle cx="663.5" cy="1007.5" r="1.55"/><circle cx="664.5" cy="1008.5" r="1.55"/><circle cx="665.5" cy="1008.5" r="1.55"/><circle cx="666.5" cy="1009.5" r="1.55"/><circle cx="667.5" cy="1009.5" r="1.55"/><circle cx="668.5" cy="1009.5" r="1.55"/><circle cx="669.5" cy="1009.5" r="1.55"/><circle cx="669.5" cy="1008.5" r="1.55"/><circle cx="670.5" cy="1008.5" r="1.55"/><circle cx="671.5" cy="1008.5" r="1.55"/><circle cx="672.5" cy="1008.5" r="1.55"/><circle cx="672.5" cy="1007.5" r="1.55"/><circle cx="673.5" cy="1006.5" r="1.55"/><circle cx="674.5" cy="1005.5" r="1.55"/><circle cx="674.5" cy="1004.5" r="1.55"/><circle cx="675.5" cy="1005.5" r="1.55"/><circle cx="676.5" cy="1005.5" r="1.55"/><circle cx="677.5" cy="1005.5" r="1.55"/><circle cx="678.5" cy="1005.5" r="1.55"/><circle cx="678.5" cy="1006.5" r="1.55"/><circle cx="679.5" cy="1006.5" r="1.55"/><circle cx="680.5" cy="1006.5" r="1.55"/><circle cx="681.5" cy="1007.5" r="1.55"/><circle cx="682.5" cy="1007.5" r="1.55"/><circle cx="682.5" cy="1008.5" r="1.55"/><circle cx="683.5" cy="1008.5" r="1.55"/><circle cx="684.5" cy="1008.5" r="1.55"/><circle cx="684.5" cy="1007.5" r="1.55"/><circle cx="685.5" cy="1006.5" r="1.55"/><circle cx="686.5" cy="1005.5" r="1.55"/><circle cx="687.5" cy="1005.5" r="1.55"/><circle cx="688.5" cy="1005.5" r="1.55"/><circle cx="689.5" cy="1005.5" r="1.55"/><circle cx="690.5" cy="1005.5" r="1.55"/><circle cx="691.5" cy="1006.5" r="1.55"/><circle cx="691.5" cy="1005.5" r="1.55"/><circle cx="692.5" cy="1007.5" r="1.55"/><circle cx="692.5" cy="1008.5" r="1.55"/><circle cx="693.5" cy="1009.5" r="1.55"/><circle cx="694.5" cy="1009.5" r="1.55"/><circle cx="694.5" cy="1008.5" r="1.55"/><circle cx="695.5" cy="1008.5" r="1.55"/><circle cx="696.5" cy="1008.5" r="1.55"/><circle cx="696.5" cy="1007.5" r="1.55"/><circle cx="697.5" cy="1007.5" r="1.55"/><circle cx="698.5" cy="1007.5" r="1.55"/><circle cx="698.5" cy="1006.5" r="1.55"/><circle cx="699.5" cy="1006.5" r="1.55"/><circle cx="700.5" cy="1006.5" r="1.55"/><circle cx="701.5" cy="1006.5" r="1.55"/><circle cx="702.5" cy="1006.5" r="1.55"/><circle cx="703.5" cy="1005.5" r="1.55"/><circle cx="704.5" cy="1005.5" r="1.55"/><circle cx="705.5" cy="1005.5" r="1.55"/><circle cx="706.5" cy="1005.5" r="1.55"/><circle cx="707.5" cy="1005.5" r="1.55"/><circle cx="708.5" cy="1005.5" r="1.55"/><circle cx="709.5" cy="1004.5" r="1.55"/><circle cx="710.5" cy="1004.5" r="1.55"/><circle cx="711.5" cy="1004.5" r="1.55"/><circle cx="712.5" cy="1004.5" r="1.55"/><circle cx="712.5" cy="1003.5" r="1.55"/><circle cx="713.5" cy="1003.5" r="1.55"/><circle cx="714.5" cy="1003.5" r="1.55"/><circle cx="715.5" cy="1003.5" r="1.55"/><circle cx="716.5" cy="1003.5" r="1.55"/><circle cx="716.5" cy="1004.5" r="1.55"/><circle cx="717.5" cy="1004.5" r="1.55"/><circle cx="717.5" cy="1005.5" r="1.55"/><circle cx="718.5" cy="1005.5" r="1.55"/><circle cx="718.5" cy="1006.5" r="1.55"/><circle cx="719.5" cy="1006.5" r="1.55"/><circle cx="720.5" cy="1006.5" r="1.55"/><circle cx="720.5" cy="1007.5" r="1.55"/><circle cx="721.5" cy="1007.5" r="1.55"/><circle cx="722.5" cy="1008.5" r="1.55"/><circle cx="723.5" cy="1008.5" r="1.55"/><circle cx="723.5" cy="1009.5" r="1.55"/><circle cx="724.5" cy="1009.5" r="1.55"/><circle cx="725.5" cy="1009.5" r="1.55"/><circle cx="726.5" cy="1008.5" r="1.55"/><circle cx="727.5" cy="1008.5" r="1.55"/><circle cx="728.5" cy="1008.5" r="1.55"/><circle cx="729.5" cy="1007.5" r="1.55"/><circle cx="730.5" cy="1007.5" r="1.55"/><circle cx="731.5" cy="1007.5" r="1.55"/><circle cx="732.5" cy="1007.5" r="1.55"/><circle cx="733.5" cy="1007.5" r="1.55"/><circle cx="734.5" cy="1007.5" r="1.55"/><circle cx="735.5" cy="1007.5" r="1.55"/><circle cx="736.5" cy="1007.5" r="1.55"/><circle cx="737.5" cy="1007.5" r="1.55"/><circle cx="738.5" cy="1007.5" r="1.55"/><circle cx="739.5" cy="1007.5" r="1.55"/><circle cx="740.5" cy="1007.5" r="1.55"/><circle cx="741.5" cy="1007.5" r="1.55"/><circle cx="742.5" cy="1007.5" r="1.55"/><circle cx="742.5" cy="1006.5" r="1.55"/><circle cx="743.5" cy="1006.5" r="1.55"/><circle cx="744.5" cy="1006.5" r="1.55"/><circle cx="745.5" cy="1006.5" r="1.55"/><circle cx="746.5" cy="1007.5" r="1.55"/><circle cx="746.5" cy="1006.5" r="1.55"/><circle cx="747.5" cy="1007.5" r="1.55"/><circle cx="748.5" cy="1007.5" r="1.55"/><circle cx="749.5" cy="1008.5" r="1.55"/><circle cx="750.5" cy="1008.5" r="1.55"/><circle cx="751.5" cy="1008.5" r="1.55"/><circle cx="752.5" cy="1008.5" r="1.55"/><circle cx="753.5" cy="1008.5" r="1.55"/><circle cx="754.5" cy="1008.5" r="1.55"/><circle cx="755.5" cy="1008.5" r="1.55"/><circle cx="756.5" cy="1008.5" r="1.55"/><circle cx="756.5" cy="1007.5" r="1.55"/><circle cx="757.5" cy="1007.5" r="1.55"/><circle cx="758.5" cy="1007.5" r="1.55"/><circle cx="759.5" cy="1007.5" r="1.55"/><circle cx="760.5" cy="1007.5" r="1.55"/><circle cx="761.5" cy="1007.5" r="1.55"/><circle cx="762.5" cy="1006.5" r="1.55"/><circle cx="763.5" cy="1006.5" r="1.55"/><circle cx="764.5" cy="1006.5" r="1.55"/><circle cx="765.5" cy="1005.5" r="1.55"/><circle cx="766.5" cy="1005.5" r="1.55"/><circle cx="767.5" cy="1005.5" r="1.55"/><circle cx="768.5" cy="1005.5" r="1.55"/><circle cx="769.5" cy="1005.5" r="1.55"/><circle cx="770.5" cy="1005.5" r="1.55"/><circle cx="771.5" cy="1005.5" r="1.55"/><circle cx="771.5" cy="1004.5" r="1.55"/><circle cx="772.5" cy="1005.5" r="1.55"/><circle cx="772.5" cy="1004.5" r="1.55"/><circle cx="773.5" cy="1005.5" r="1.55"/><circle cx="773.5" cy="1004.5" r="1.55"/><circle cx="774.5" cy="1004.5" r="1.55"/><circle cx="775.5" cy="1005.5" r="1.55"/><circle cx="776.5" cy="1005.5" r="1.55"/><circle cx="777.5" cy="1005.5" r="1.55"/><circle cx="778.5" cy="1005.5" r="1.55"/><circle cx="779.5" cy="1005.5" r="1.55"/><circle cx="779.5" cy="1006.5" r="1.55"/><circle cx="780.5" cy="1006.5" r="1.55"/><circle cx="781.5" cy="1006.5" r="1.55"/><circle cx="782.5" cy="1006.5" r="1.55"/><circle cx="782.5" cy="1007.5" r="1.55"/><circle cx="783.5" cy="1007.5" r="1.55"/><circle cx="784.5" cy="1007.5" r="1.55"/><circle cx="785.5" cy="1008.5" r="1.55"/><circle cx="786.5" cy="1008.5" r="1.55"/><circle cx="787.5" cy="1008.5" r="1.55"/><circle cx="788.5" cy="1007.5" r="1.55"/><circle cx="789.5" cy="1007.5" r="1.55"/><circle cx="790.5" cy="1007.5" r="1.55"/><circle cx="791.5" cy="1007.5" r="1.55"/><circle cx="791.5" cy="1006.5" r="1.55"/><circle cx="792.5" cy="1006.5" r="1.55"/><circle cx="793.5" cy="1006.5" r="1.55"/><circle cx="794.5" cy="1006.5" r="1.55"/><circle cx="794.5" cy="1005.5" r="1.55"/><circle cx="795.5" cy="1006.5" r="1.55"/><circle cx="796.5" cy="1006.5" r="1.55"/><circle cx="796.5" cy="1007.5" r="1.55"/><circle cx="797.5" cy="1007.5" r="1.55"/><circle cx="798.5" cy="1007.5" r="1.55"/><circle cx="798.5" cy="1008.5" r="1.55"/><circle cx="799.5" cy="1008.5" r="1.55"/><circle cx="800.5" cy="1008.5" r="1.55"/><circle cx="801.5" cy="1008.5" r="1.55"/><circle cx="801.5" cy="1007.5" r="1.55"/><circle cx="802.5" cy="1007.5" r="1.55"/><circle cx="803.5" cy="1007.5" r="1.55"/><circle cx="804.5" cy="1007.5" r="1.55"/><circle cx="805.5" cy="1007.5" r="1.55"/><circle cx="806.5" cy="1007.5" r="1.55"/><circle cx="806.5" cy="1006.5" r="1.55"/><circle cx="807.5" cy="1006.5" r="1.55"/><circle cx="808.5" cy="1006.5" r="1.55"/><circle cx="809.5" cy="1006.5" r="1.55"/><circle cx="810.5" cy="1005.5" r="1.55"/><circle cx="810.5" cy="1006.5" r="1.55"/><circle cx="811.5" cy="1005.5" r="1.55"/><circle cx="812.5" cy="1005.5" r="1.55"/><circle cx="813.5" cy="1005.5" r="1.55"/><circle cx="814.5" cy="1005.5" r="1.55"/><circle cx="815.5" cy="1004.5" r="1.55"/><circle cx="815.5" cy="1005.5" r="1.55"/><circle cx="816.5" cy="1005.5" r="1.55"/><circle cx="817.5" cy="1005.5" r="1.55"/><circle cx="817.5" cy="1006.5" r="1.55"/><circle cx="818.5" cy="1006.5" r="1.55"/><circle cx="819.5" cy="1006.5" r="1.55"/><circle cx="820.5" cy="1007.5" r="1.55"/><circle cx="821.5" cy="1007.5" r="1.55"/><circle cx="822.5" cy="1007.5" r="1.55"/><circle cx="823.5" cy="1007.5" r="1.55"/><circle cx="824.5" cy="1007.5" r="1.55"/><circle cx="824.5" cy="1008.5" r="1.55"/><circle cx="825.5" cy="1008.5" r="1.55"/><circle cx="825.5" cy="1007.5" r="1.55"/><circle cx="826.5" cy="1008.5" r="1.55"/><circle cx="827.5" cy="1008.5" r="1.55"/><circle cx="828.5" cy="1008.5" r="1.55"/><circle cx="829.5" cy="1008.5" r="1.55"/><circle cx="830.5" cy="1008.5" r="1.55"/><circle cx="831.5" cy="1008.5" r="1.55"/><circle cx="832.5" cy="1008.5" r="1.55"/><circle cx="833.5" cy="1008.5" r="1.55"/><circle cx="833.5" cy="1007.5" r="1.55"/><circle cx="834.5" cy="1007.5" r="1.55"/><circle cx="835.5" cy="1007.5" r="1.55"/><circle cx="836.5" cy="1007.5" r="1.55"/><circle cx="837.5" cy="1007.5" r="1.55"/><circle cx="837.5" cy="1005.5" r="1.55"/><circle cx="838.5" cy="1003.5" r="1.55"/><circle cx="839.5" cy="1004.5" r="1.55"/><circle cx="840.5" cy="1004.5" r="1.55"/><circle cx="841.5" cy="1004.5" r="1.55"/><circle cx="841.5" cy="1005.5" r="1.55"/><circle cx="842.5" cy="1005.5" r="1.55"/><circle cx="843.5" cy="1005.5" r="1.55"/><circle cx="843.5" cy="1004.5" r="1.55"/><circle cx="844.5" cy="1005.5" r="1.55"/><circle cx="844.5" cy="1004.5" r="1.55"/><circle cx="845.5" cy="1004.5" r="1.55"/><circle cx="846.5" cy="1004.5" r="1.55"/><circle cx="847.5" cy="1005.5" r="1.55"/><circle cx="847.5" cy="1006.5" r="1.55"/><circle cx="848.5" cy="1007.5" r="1.55"/><circle cx="849.5" cy="1007.5" r="1.55"/><circle cx="850.5" cy="1007.5" r="1.55"/><circle cx="851.5" cy="1007.5" r="1.55"/><circle cx="852.5" cy="1007.5" r="1.55"/><circle cx="853.5" cy="1007.5" r="1.55"/><circle cx="854.5" cy="1007.5" r="1.55"/><circle cx="855.5" cy="1007.5" r="1.55"/><circle cx="856.5" cy="1007.5" r="1.55"/><circle cx="857.5" cy="1007.5" r="1.55"/><circle cx="858.5" cy="1007.5" r="1.55"/><circle cx="859.5" cy="1006.5" r="1.55"/><circle cx="860.5" cy="1006.5" r="1.55"/><circle cx="861.5" cy="1006.5" r="1.55"/><circle cx="861.5" cy="1005.5" r="1.55"/><circle cx="862.5" cy="1005.5" r="1.55"/><circle cx="863.5" cy="1005.5" r="1.55"/><circle cx="864.5" cy="1005.5" r="1.55"/><circle cx="864.5" cy="1004.5" r="1.55"/><circle cx="865.5" cy="1004.5" r="1.55"/><circle cx="866.5" cy="1004.5" r="1.55"/><circle cx="867.5" cy="1004.5" r="1.55"/><circle cx="868.5" cy="1004.5" r="1.55"/><circle cx="869.5" cy="1004.5" r="1.55"/><circle cx="870.5" cy="1004.5" r="1.55"/><circle cx="871.5" cy="1004.5" r="1.55"/><circle cx="871.5" cy="1005.5" r="1.55"/><circle cx="872.5" cy="1005.5" r="1.55"/><circle cx="873.5" cy="1006.5" r="1.55"/><circle cx="873.5" cy="1007.5" r="1.55"/><circle cx="874.5" cy="1007.5" r="1.55"/><circle cx="875.5" cy="1007.5" r="1.55"/><circle cx="876.5" cy="1007.5" r="1.55"/><circle cx="877.5" cy="1007.5" r="1.55"/><circle cx="878.5" cy="1007.5" r="1.55"/><circle cx="879.5" cy="1007.5" r="1.55"/><circle cx="880.5" cy="1007.5" r="1.55"/><circle cx="881.5" cy="1007.5" r="1.55"/><circle cx="882.5" cy="1007.5" r="1.55"/><circle cx="883.5" cy="1007.5" r="1.55"/><circle cx="884.5" cy="1007.5" r="1.55"/><circle cx="884.5" cy="1008.5" r="1.55"/><circle cx="885.5" cy="1008.5" r="1.55"/><circle cx="886.5" cy="1008.5" r="1.55"/><circle cx="887.5" cy="1008.5" r="1.55"/><circle cx="888.5" cy="1008.5" r="1.55"/><circle cx="889.5" cy="1008.5" r="1.55"/><circle cx="890.5" cy="1008.5" r="1.55"/><circle cx="891.5" cy="1008.5" r="1.55"/><circle cx="892.5" cy="1008.5" r="1.55"/><circle cx="893.5" cy="1007.5" r="1.55"/><circle cx="894.5" cy="1007.5" r="1.55"/><circle cx="895.5" cy="1007.5" r="1.55"/><circle cx="896.5" cy="1007.5" r="1.55"/><circle cx="897.5" cy="1007.5" r="1.55"/><circle cx="898.5" cy="1007.5" r="1.55"/><circle cx="899.5" cy="1007.5" r="1.55"/><circle cx="899.5" cy="1006.5" r="1.55"/><circle cx="900.5" cy="1006.5" r="1.55"/><circle cx="901.5" cy="1006.5" r="1.55"/><circle cx="902.5" cy="1006.5" r="1.55"/><circle cx="903.5" cy="1006.5" r="1.55"/><circle cx="904.5" cy="1006.5" r="1.55"/><circle cx="905.5" cy="1006.5" r="1.55"/><circle cx="906.5" cy="1007.5" r="1.55"/><circle cx="907.5" cy="1007.5" r="1.55"/><circle cx="908.5" cy="1007.5" r="1.55"/><circle cx="909.5" cy="1007.5" r="1.55"/><circle cx="910.5" cy="1007.5" r="1.55"/><circle cx="911.5" cy="1007.5" r="1.55"/><circle cx="912.5" cy="1007.5" r="1.55"/><circle cx="913.5" cy="1007.5" r="1.55"/><circle cx="914.5" cy="1007.5" r="1.55"/><circle cx="915.5" cy="1007.5" r="1.55"/><circle cx="916.5" cy="1007.5" r="1.55"/><circle cx="917.5" cy="1007.5" r="1.55"/><circle cx="918.5" cy="1007.5" r="1.55"/><circle cx="919.5" cy="1007.5" r="1.55"/><circle cx="920.5" cy="1007.5" r="1.55"/><circle cx="921.5" cy="1007.5" r="1.55"/><circle cx="922.5" cy="1007.5" r="1.55"/><circle cx="923.5" cy="1007.5" r="1.55"/><circle cx="924.5" cy="1006.5" r="1.55"/><circle cx="925.5" cy="1006.5" r="1.55"/><circle cx="926.5" cy="1006.5" r="1.55"/><circle cx="927.5" cy="1006.5" r="1.55"/><circle cx="928.5" cy="1006.5" r="1.55"/><circle cx="929.5" cy="1006.5" r="1.55"/><circle cx="930.5" cy="1006.5" r="1.55"/><circle cx="931.5" cy="1005.5" r="1.55"/><circle cx="931.5" cy="1006.5" r="1.55"/><circle cx="932.5" cy="1006.5" r="1.55"/><circle cx="932.5" cy="1005.5" r="1.55"/><circle cx="933.5" cy="1006.5" r="1.55"/><circle cx="933.5" cy="1005.5" r="1.55"/><circle cx="934.5" cy="1005.5" r="1.55"/><circle cx="935.5" cy="1005.5" r="1.55"/><circle cx="935.5" cy="1006.5" r="1.55"/><circle cx="936.5" cy="1005.5" r="1.55"/><circle cx="937.5" cy="1005.5" r="1.55"/><circle cx="938.5" cy="1005.5" r="1.55"/><circle cx="938.5" cy="1007.5" r="1.55"/><circle cx="939.5" cy="1008.5" r="1.55"/><circle cx="940.5" cy="1008.5" r="1.55"/><circle cx="941.5" cy="1008.5" r="1.55"/><circle cx="942.5" cy="1008.5" r="1.55"/><circle cx="942.5" cy="1007.5" r="1.55"/><circle cx="943.5" cy="1007.5" r="1.55"/><circle cx="944.5" cy="1007.5" r="1.55"/><circle cx="945.5" cy="1007.5" r="1.55"/><circle cx="946.5" cy="1007.5" r="1.55"/><circle cx="947.5" cy="1007.5" r="1.55"/><circle cx="948.5" cy="1007.5" r="1.55"/><circle cx="949.5" cy="1007.5" r="1.55"/><circle cx="950.5" cy="1007.5" r="1.55"/><circle cx="951.5" cy="1006.5" r="1.55"/><circle cx="952.5" cy="1006.5" r="1.55"/><circle cx="953.5" cy="1006.5" r="1.55"/><circle cx="954.5" cy="1006.5" r="1.55"/><circle cx="955.5" cy="1006.5" r="1.55"/><circle cx="956.5" cy="1006.5" r="1.55"/><circle cx="957.5" cy="1006.5" r="1.55"/><circle cx="958.5" cy="1006.5" r="1.55"/><circle cx="959.5" cy="1006.5" r="1.55"/><circle cx="960.5" cy="1006.5" r="1.55"/><circle cx="961.5" cy="1005.5" r="1.55"/><circle cx="961.5" cy="1006.5" r="1.55"/><circle cx="962.5" cy="1005.5" r="1.55"/><circle cx="963.5" cy="1005.5" r="1.55"/><circle cx="964.5" cy="1005.5" r="1.55"/><circle cx="965.5" cy="1005.5" r="1.55"/><circle cx="966.5" cy="1005.5" r="1.55"/><circle cx="967.5" cy="1005.5" r="1.55"/><circle cx="968.5" cy="1005.5" r="1.55"/><circle cx="969.5" cy="1005.5" r="1.55"/><circle cx="970.5" cy="1006.5" r="1.55"/><circle cx="970.5" cy="1005.5" r="1.55"/><circle cx="971.5" cy="1005.5" r="1.55"/><circle cx="971.5" cy="1006.5" r="1.55"/><circle cx="972.5" cy="1006.5" r="1.55"/><circle cx="973.5" cy="1006.5" r="1.55"/><circle cx="974.5" cy="1006.5" r="1.55"/><circle cx="975.5" cy="1006.5" r="1.55"/><circle cx="976.5" cy="1006.5" r="1.55"/><circle cx="977.5" cy="1006.5" r="1.55"/><circle cx="977.5" cy="1007.5" r="1.55"/><circle cx="978.5" cy="1006.5" r="1.55"/><circle cx="978.5" cy="1007.5" r="1.55"/><circle cx="979.5" cy="1007.5" r="1.55"/><circle cx="980.5" cy="1007.5" r="1.55"/><circle cx="981.5" cy="1007.5" r="1.55"/><circle cx="982.5" cy="1007.5" r="1.55"/><circle cx="983.5" cy="1007.5" r="1.55"/><circle cx="984.5" cy="1007.5" r="1.55"/><circle cx="984.5" cy="1006.5" r="1.55"/><circle cx="985.5" cy="1006.5" r="1.55"/><circle cx="986.5" cy="1006.5" r="1.55"/><circle cx="987.5" cy="1006.5" r="1.55"/><circle cx="988.5" cy="1006.5" r="1.55"/><circle cx="989.5" cy="1006.5" r="1.55"/><circle cx="990.5" cy="1006.5" r="1.55"/><circle cx="990.5" cy="1005.5" r="1.55"/><circle cx="991.5" cy="1006.5" r="1.55"/><circle cx="992.5" cy="1006.5" r="1.55"/><circle cx="993.5" cy="1006.5" r="1.55"/><circle cx="994.5" cy="1006.5" r="1.55"/><circle cx="995.5" cy="1006.5" r="1.55"/><circle cx="996.5" cy="1007.5" r="1.55"/><circle cx="996.5" cy="1006.5" r="1.55"/><circle cx="997.5" cy="1007.5" r="1.55"/><circle cx="998.5" cy="1007.5" r="1.55"/><circle cx="999.5" cy="1007.5" r="1.55"/><circle cx="1000.5" cy="1007.5" r="1.55"/><circle cx="1001.5" cy="1007.5" r="1.55"/><circle cx="1002.5" cy="1007.5" r="1.55"/><circle cx="1003.5" cy="1007.5" r="1.55"/><circle cx="1003.5" cy="1008.5" r="1.55"/><circle cx="1004.5" cy="1007.5" r="1.55"/><circle cx="1004.5" cy="1008.5" r="1.55"/><circle cx="1005.5" cy="1008.5" r="1.55"/><circle cx="1006.5" cy="1008.5" r="1.55"/><circle cx="1007.5" cy="1008.5" r="1.55"/><circle cx="1008.5" cy="1008.5" r="1.55"/><circle cx="1009.5" cy="1008.5" r="1.55"/><circle cx="1010.5" cy="1008.5" r="1.55"/><circle cx="1011.5" cy="1008.5" r="1.55"/><circle cx="1012.5" cy="1008.5" r="1.55"/><circle cx="1013.5" cy="1008.5" r="1.55"/><circle cx="1014.5" cy="1007.5" r="1.55"/><circle cx="1015.5" cy="1007.5" r="1.55"/><circle cx="1016.5" cy="1007.5" r="1.55"/><circle cx="1017.5" cy="1007.5" r="1.55"/><circle cx="1018.5" cy="1007.5" r="1.55"/><circle cx="1019.5" cy="1007.5" r="1.55"/><circle cx="1020.5" cy="1007.5" r="1.55"/><circle cx="1020.5" cy="1006.5" r="1.55"/><circle cx="1021.5" cy="1007.5" r="1.55"/><circle cx="1021.5" cy="1006.5" r="1.55"/><circle cx="1022.5" cy="1006.5" r="1.55"/><circle cx="1023.5" cy="1006.5" r="1.55"/><circle cx="1024.5" cy="1006.5" r="1.55"/><circle cx="1025.5" cy="1006.5" r="1.55"/><circle cx="1026.5" cy="1006.5" r="1.55"/><circle cx="1027.5" cy="1006.5" r="1.55"/><circle cx="1028.5" cy="1006.5" r="1.55"/><circle cx="1029.5" cy="1006.5" r="1.55"/><circle cx="1030.5" cy="1006.5" r="1.55"/><circle cx="1031.5" cy="1006.5" r="1.55"/><circle cx="1032.5" cy="1006.5" r="1.55"/><circle cx="1033.5" cy="1006.5" r="1.55"/><circle cx="1034.5" cy="1006.5" r="1.55"/><circle cx="1035.5" cy="1006.5" r="1.55"/><circle cx="1036.5" cy="1006.5" r="1.55"/><circle cx="1037.5" cy="1005.5" r="1.55"/><circle cx="1038.5" cy="1005.5" r="1.55"/><circle cx="1039.5" cy="1005.5" r="1.55"/><circle cx="1040.5" cy="1005.5" r="1.55"/><circle cx="1041.5" cy="1005.5" r="1.55"/><circle cx="1042.5" cy="1005.5" r="1.55"/><circle cx="1043.5" cy="1005.5" r="1.55"/><circle cx="1043.5" cy="1006.5" r="1.55"/><circle cx="1044.5" cy="1006.5" r="1.55"/><circle cx="1045.5" cy="1007.5" r="1.55"/><circle cx="1046.5" cy="1007.5" r="1.55"/><circle cx="1047.5" cy="1007.5" r="1.55"/><circle cx="1048.5" cy="1007.5" r="1.55"/><circle cx="1048.5" cy="1008.5" r="1.55"/><circle cx="1049.5" cy="1008.5" r="1.55"/><circle cx="1050.5" cy="1008.5" r="1.55"/><circle cx="1051.5" cy="1008.5" r="1.55"/><circle cx="1052.5" cy="1007.5" r="1.55"/><circle cx="1053.5" cy="1007.5" r="1.55"/><circle cx="1054.5" cy="1007.5" r="1.55"/><circle cx="1055.5" cy="1007.5" r="1.55"/><circle cx="1055.5" cy="1006.5" r="1.55"/><circle cx="1056.5" cy="1006.5" r="1.55"/><circle cx="1057.5" cy="1006.5" r="1.55"/><circle cx="1058.5" cy="1006.5" r="1.55"/><circle cx="1059.5" cy="1005.5" r="1.55"/><circle cx="1059.5" cy="1006.5" r="1.55"/><circle cx="1060.5" cy="1006.5" r="1.55"/><circle cx="1061.5" cy="1006.5" r="1.55"/><circle cx="1062.5" cy="1006.5" r="1.55"/><circle cx="1063.5" cy="1007.5" r="1.55"/><circle cx="1064.5" cy="1007.5" r="1.55"/><circle cx="1065.5" cy="1007.5" r="1.55"/><circle cx="1066.5" cy="1007.5" r="1.55"/><circle cx="1067.5" cy="1007.5" r="1.55"/><circle cx="1068.5" cy="1007.5" r="1.55"/><circle cx="1069.5" cy="1007.5" r="1.55"/><circle cx="1070.5" cy="1007.5" r="1.55"/><circle cx="1071.5" cy="1007.5" r="1.55"/><circle cx="1072.5" cy="1007.5" r="1.55"/><circle cx="1073.5" cy="1007.5" r="1.55"/><circle cx="1074.5" cy="1007.5" r="1.55"/><circle cx="1075.5" cy="1007.5" r="1.55"/><circle cx="1076.5" cy="1007.5" r="1.55"/><circle cx="1077.5" cy="1007.5" r="1.55"/><circle cx="1078.5" cy="1007.5" r="1.55"/><circle cx="1079.5" cy="1007.5" r="1.55"/><circle cx="1080.5" cy="1007.5" r="1.55"/><circle cx="1081.5" cy="1007.5" r="1.55"/><circle cx="1081.5" cy="1006.5" r="1.55"/><circle cx="1082.5" cy="1007.5" r="1.55"/><circle cx="1082.5" cy="1006.5" r="1.55"/><circle cx="1083.5" cy="1006.5" r="1.55"/><circle cx="1084.5" cy="1006.5" r="1.55"/><circle cx="1085.5" cy="1006.5" r="1.55"/><circle cx="1086.5" cy="1006.5" r="1.55"/><circle cx="1087.5" cy="1006.5" r="1.55"/><circle cx="1088.5" cy="1006.5" r="1.55"/><circle cx="1089.5" cy="1006.5" r="1.55"/><circle cx="1090.5" cy="1006.5" r="1.55"/><circle cx="1090.5" cy="1007.5" r="1.55"/><circle cx="1091.5" cy="1007.5" r="1.55"/><circle cx="1092.5" cy="1007.5" r="1.55"/><circle cx="1093.5" cy="1007.5" r="1.55"/><circle cx="1094.5" cy="1007.5" r="1.55"/><circle cx="1095.5" cy="1007.5" r="1.55"/><circle cx="1096.5" cy="1007.5" r="1.55"/><circle cx="1097.5" cy="1007.5" r="1.55"/><circle cx="1097.5" cy="1008.5" r="1.55"/><circle cx="1098.5" cy="1007.5" r="1.55"/><circle cx="1098.5" cy="1008.5" r="1.55"/><circle cx="1099.5" cy="1008.5" r="1.55"/><circle cx="1100.5" cy="1008.5" r="1.55"/><circle cx="1101.5" cy="1008.5" r="1.55"/><circle cx="1102.5" cy="1008.5" r="1.55"/><circle cx="1103.5" cy="1008.5" r="1.55"/><circle cx="1104.5" cy="1007.5" r="1.55"/><circle cx="1105.5" cy="1007.5" r="1.55"/><circle cx="1106.5" cy="1007.5" r="1.55"/><circle cx="1107.5" cy="1007.5" r="1.55"/><circle cx="1107.5" cy="1006.5" r="1.55"/><circle cx="1108.5" cy="1006.5" r="1.55"/><circle cx="1109.5" cy="1006.5" r="1.55"/><circle cx="1109.5" cy="1007.5" r="1.55"/><circle cx="1110.5" cy="1007.5" r="1.55"/><circle cx="1111.5" cy="1007.5" r="1.55"/><circle cx="1112.5" cy="1007.5" r="1.55"/><circle cx="1113.5" cy="1007.5" r="1.55"/><circle cx="1114.5" cy="1007.5" r="1.55"/><circle cx="1115.5" cy="1007.5" r="1.55"/><circle cx="1116.5" cy="1007.5" r="1.55"/><circle cx="1116.5" cy="1006.5" r="1.55"/><circle cx="1117.5" cy="1006.5" r="1.55"/><circle cx="1118.5" cy="1006.5" r="1.55"/><circle cx="1119.5" cy="1006.5" r="1.55"/><circle cx="1120.5" cy="1006.5" r="1.55"/><circle cx="1120.5" cy="1005.5" r="1.55"/><circle cx="1121.5" cy="1005.5" r="1.55"/><circle cx="1122.5" cy="1005.5" r="1.55"/><circle cx="1123.5" cy="1004.5" r="1.55"/><circle cx="1123.5" cy="1005.5" r="1.55"/><circle cx="1124.5" cy="1005.5" r="1.55"/><circle cx="1125.5" cy="1005.5" r="1.55"/><circle cx="1126.5" cy="1006.5" r="1.55"/><circle cx="1127.5" cy="1006.5" r="1.55"/><circle cx="1128.5" cy="1006.5" r="1.55"/><circle cx="1128.5" cy="1007.5" r="1.55"/><circle cx="1129.5" cy="1007.5" r="1.55"/><circle cx="1130.5" cy="1007.5" r="1.55"/><circle cx="1130.5" cy="1008.5" r="1.55"/><circle cx="1131.5" cy="1008.5" r="1.55"/><circle cx="1132.5" cy="1008.5" r="1.55"/><circle cx="1133.5" cy="1008.5" r="1.55"/><circle cx="1134.5" cy="1008.5" r="1.55"/><circle cx="1134.5" cy="1009.5" r="1.55"/><circle cx="1135.5" cy="1009.5" r="1.55"/><circle cx="1136.5" cy="1009.5" r="1.55"/><circle cx="1137.5" cy="1009.5" r="1.55"/><circle cx="1138.5" cy="1009.5" r="1.55"/><circle cx="1139.5" cy="1009.5" r="1.55"/><circle cx="1140.5" cy="1009.5" r="1.55"/><circle cx="1140.5" cy="1008.5" r="1.55"/><circle cx="1141.5" cy="1008.5" r="1.55"/><circle cx="1142.5" cy="1008.5" r="1.55"/><circle cx="1143.5" cy="1008.5" r="1.55"/><circle cx="1144.5" cy="1008.5" r="1.55"/><circle cx="1145.5" cy="1008.5" r="1.55"/><circle cx="1146.5" cy="1008.5" r="1.55"/><circle cx="1147.5" cy="1008.5" r="1.55"/><circle cx="1147.5" cy="1007.5" r="1.55"/><circle cx="1148.5" cy="1007.5" r="1.55"/><circle cx="1149.5" cy="1007.5" r="1.55"/><circle cx="1150.5" cy="1007.5" r="1.55"/><circle cx="1151.5" cy="1007.5" r="1.55"/><circle cx="1152.5" cy="1007.5" r="1.55"/><circle cx="1153.5" cy="1007.5" r="1.55"/><circle cx="1154.5" cy="1007.5" r="1.55"/><circle cx="1155.5" cy="1006.5" r="1.55"/><circle cx="1156.5" cy="1006.5" r="1.55"/><circle cx="1157.5" cy="1006.5" r="1.55"/><circle cx="1158.5" cy="1006.5" r="1.55"/><circle cx="1159.5" cy="1006.5" r="1.55"/><circle cx="1160.5" cy="1006.5" r="1.55"/><circle cx="1160.5" cy="1005.5" r="1.55"/><circle cx="1161.5" cy="1007.5" r="1.55"/><circle cx="1162.5" cy="1008.5" r="1.55"/><circle cx="1163.5" cy="1008.5" r="1.55"/><circle cx="1164.5" cy="1008.5" r="1.55"/><circle cx="1165.5" cy="1007.5" r="1.55"/><circle cx="1166.5" cy="1007.5" r="1.55"/><circle cx="1167.5" cy="1007.5" r="1.55"/><circle cx="1168.5" cy="1007.5" r="1.55"/><circle cx="1169.5" cy="1007.5" r="1.55"/><circle cx="1170.5" cy="1006.5" r="1.55"/><circle cx="1171.5" cy="1006.5" r="1.55"/><circle cx="1172.5" cy="1006.5" r="1.55"/><circle cx="1173.5" cy="1006.5" r="1.55"/><circle cx="1173.5" cy="1005.5" r="1.55"/><circle cx="1174.5" cy="1005.5" r="1.55"/><circle cx="1175.5" cy="1005.5" r="1.55"/><circle cx="1176.5" cy="1005.5" r="1.55"/><circle cx="1177.5" cy="1004.5" r="1.55"/><circle cx="1178.5" cy="1004.5" r="1.55"/><circle cx="1178.5" cy="1003.5" r="1.55"/><circle cx="1179.5" cy="1003.5" r="1.55"/><circle cx="1179.5" cy="1002.5" r="1.55"/><circle cx="1180.5" cy="1002.5" r="1.55"/><circle cx="1181.5" cy="1001.5" r="1.55"/><circle cx="1182.5" cy="1001.5" r="1.55"/><circle cx="1183.5" cy="1000.5" r="1.55"/><circle cx="1184.5" cy="1001.5" r="1.55"/><circle cx="1184.5" cy="1007.5" r="1.55"/><circle cx="1185.5" cy="1007.5" r="1.55"/><circle cx="1186.5" cy="1007.5" r="1.55"/><circle cx="1187.5" cy="1007.5" r="1.55"/><circle cx="1187.5" cy="1008.5" r="1.55"/><circle cx="1188.5" cy="1008.5" r="1.55"/><circle cx="1189.5" cy="1008.5" r="1.55"/><circle cx="1190.5" cy="1008.5" r="1.55"/><circle cx="1191.5" cy="1008.5" r="1.55"/><circle cx="1192.5" cy="1008.5" r="1.55"/><circle cx="1193.5" cy="1007.5" r="1.55"/><circle cx="1194.5" cy="1007.5" r="1.55"/><circle cx="1195.5" cy="1007.5" r="1.55"/><circle cx="1196.5" cy="1007.5" r="1.55"/><circle cx="1197.5" cy="1007.5" r="1.55"/><circle cx="1198.5" cy="1007.5" r="1.55"/><circle cx="1198.5" cy="1006.5" r="1.55"/><circle cx="1199.5" cy="1006.5" r="1.55"/><circle cx="1200.5" cy="1007.5" r="1.55"/><circle cx="1200.5" cy="1006.5" r="1.55"/><circle cx="1201.5" cy="1006.5" r="1.55"/><circle cx="1201.5" cy="1007.5" r="1.55"/><circle cx="1202.5" cy="1006.5" r="1.55"/><circle cx="1202.5" cy="1007.5" r="1.55"/><circle cx="1203.5" cy="1007.5" r="1.55"/><circle cx="1204.5" cy="1007.5" r="1.55"/><circle cx="1205.5" cy="1007.5" r="1.55"/><circle cx="1206.5" cy="1007.5" r="1.55"/><circle cx="1207.5" cy="1007.5" r="1.55"/><circle cx="1208.5" cy="1007.5" r="1.55"/><circle cx="1209.5" cy="1007.5" r="1.55"/><circle cx="1210.5" cy="1007.5" r="1.55"/><circle cx="1211.5" cy="1007.5" r="1.55"/><circle cx="1212.5" cy="1007.5" r="1.55"/><circle cx="1213.5" cy="1007.5" r="1.55"/><circle cx="1214.5" cy="1007.5" r="1.55"/><circle cx="1215.5" cy="1007.5" r="1.55"/><circle cx="1216.5" cy="1007.5" r="1.55"/><circle cx="1217.5" cy="1007.5" r="1.55"/><circle cx="1218.5" cy="1007.5" r="1.55"/><circle cx="1219.5" cy="1007.5" r="1.55"/><circle cx="1220.5" cy="1007.5" r="1.55"/><circle cx="1221.5" cy="1007.5" r="1.55"/><circle cx="1222.5" cy="1007.5" r="1.55"/><circle cx="1223.5" cy="1007.5" r="1.55"/><circle cx="1224.5" cy="1007.5" r="1.55"/><circle cx="1225.5" cy="1007.5" r="1.55"/><circle cx="1226.5" cy="1007.5" r="1.55"/><circle cx="1227.5" cy="1007.5" r="1.55"/><circle cx="1228.5" cy="1007.5" r="1.55"/><circle cx="1229.5" cy="1007.5" r="1.55"/><circle cx="1230.5" cy="1007.5" r="1.55"/><circle cx="1231.5" cy="1007.5" r="1.55"/><circle cx="1232.5" cy="1007.5" r="1.55"/><circle cx="1233.5" cy="1007.5" r="1.55"/><circle cx="1234.5" cy="1007.5" r="1.55"/><circle cx="1235.5" cy="1007.5" r="1.55"/><circle cx="1235.5" cy="1006.5" r="1.55"/><circle cx="1236.5" cy="1007.5" r="1.55"/><circle cx="1236.5" cy="1006.5" r="1.55"/><circle cx="1237.5" cy="1007.5" r="1.55"/><circle cx="1238.5" cy="1007.5" r="1.55"/><circle cx="1238.5" cy="1006.5" r="1.55"/><circle cx="1239.5" cy="1006.5" r="1.55"/><circle cx="1240.5" cy="1006.5" r="1.55"/><circle cx="1241.5" cy="1006.5" r="1.55"/><circle cx="1242.5" cy="1006.5" r="1.55"/><circle cx="1243.5" cy="1006.5" r="1.55"/><circle cx="1244.5" cy="1006.5" r="1.55"/><circle cx="1245.5" cy="1006.5" r="1.55"/><circle cx="1246.5" cy="1006.5" r="1.55"/><circle cx="1247.5" cy="1006.5" r="1.55"/><circle cx="1247.5" cy="1007.5" r="1.55"/><circle cx="1248.5" cy="1007.5" r="1.55"/><circle cx="1249.5" cy="1007.5" r="1.55"/><circle cx="1250.5" cy="1007.5" r="1.55"/><circle cx="1251.5" cy="1007.5" r="1.55"/><circle cx="1251.5" cy="1008.5" r="1.55"/><circle cx="1252.5" cy="1008.5" r="1.55"/><circle cx="1253.5" cy="1008.5" r="1.55"/><circle cx="1254.5" cy="1007.5" r="1.55"/><circle cx="1255.5" cy="1007.5" r="1.55"/><circle cx="1256.5" cy="1007.5" r="1.55"/><circle cx="1257.5" cy="1007.5" r="1.55"/><circle cx="1257.5" cy="1006.5" r="1.55"/><circle cx="1258.5" cy="1006.5" r="1.55"/><circle cx="1259.5" cy="1006.5" r="1.55"/><circle cx="1260.5" cy="1006.5" r="1.55"/><circle cx="1261.5" cy="1006.5" r="1.55"/><circle cx="1262.5" cy="1007.5" r="1.55"/><circle cx="1263.5" cy="1007.5" r="1.55"/><circle cx="1264.5" cy="1008.5" r="1.55"/><circle cx="1265.5" cy="1008.5" r="1.55"/><circle cx="1266.5" cy="1008.5" r="1.55"/><circle cx="1266.5" cy="1007.5" r="1.55"/><circle cx="1267.5" cy="1007.5" r="1.55"/><circle cx="1268.5" cy="1007.5" r="1.55"/><circle cx="1269.5" cy="1007.5" r="1.55"/><circle cx="1270.5" cy="1007.5" r="1.55"/><circle cx="1270.5" cy="1006.5" r="1.55"/><circle cx="1271.5" cy="1006.5" r="1.55"/><circle cx="1272.5" cy="1006.5" r="1.55"/><circle cx="1273.5" cy="1006.5" r="1.55"/><circle cx="1274.5" cy="1006.5" r="1.55"/><circle cx="1275.5" cy="1006.5" r="1.55"/><circle cx="1276.5" cy="1006.5" r="1.55"/><circle cx="1277.5" cy="1006.5" r="1.55"/><circle cx="1278.5" cy="1006.5" r="1.55"/><circle cx="1278.5" cy="1005.5" r="1.55"/><circle cx="1279.5" cy="1006.5" r="1.55"/><circle cx="1279.5" cy="1005.5" r="1.55"/><circle cx="1280.5" cy="1005.5" r="1.55"/><circle cx="1281.5" cy="1005.5" r="1.55"/><circle cx="1282.5" cy="1005.5" r="1.55"/><circle cx="1283.5" cy="1005.5" r="1.55"/><circle cx="1283.5" cy="1004.5" r="1.55"/><circle cx="1284.5" cy="1004.5" r="1.55"/><circle cx="1285.5" cy="1004.5" r="1.55"/><circle cx="1286.5" cy="1004.5" r="1.55"/><circle cx="1287.5" cy="1004.5" r="1.55"/><circle cx="1288.5" cy="1004.5" r="1.55"/><circle cx="1288.5" cy="1005.5" r="1.55"/><circle cx="1289.5" cy="1005.5" r="1.55"/><circle cx="1290.5" cy="1005.5" r="1.55"/><circle cx="1290.5" cy="1006.5" r="1.55"/><circle cx="1291.5" cy="1006.5" r="1.55"/><circle cx="1292.5" cy="1006.5" r="1.55"/><circle cx="1292.5" cy="1007.5" r="1.55"/><circle cx="1293.5" cy="1007.5" r="1.55"/><circle cx="1294.5" cy="1007.5" r="1.55"/><circle cx="1295.5" cy="1007.5" r="1.55"/><circle cx="1296.5" cy="1008.5" r="1.55"/><circle cx="1297.5" cy="1008.5" r="1.55"/><circle cx="1298.5" cy="1007.5" r="1.55"/><circle cx="1299.5" cy="1006.5" r="1.55"/><circle cx="1300.5" cy="1006.5" r="1.55"/><circle cx="1301.5" cy="1006.5" r="1.55"/><circle cx="1302.5" cy="1006.5" r="1.55"/><circle cx="1303.5" cy="1006.5" r="1.55"/></g>
<path d="M223.5 955L221.6 959.7H225.4ZM235.5 955L233.6 959.7H237.4ZM237.5 955L235.6 959.7H239.4ZM245.5 955L243.6 959.7H247.4ZM246.5 955L244.6 959.7H248.4ZM375.5 955L373.6 959.7H377.4ZM380.5 955L378.6 959.7H382.4ZM421.5 955L419.6 959.7H423.4ZM545.5 955L543.6 959.7H547.4ZM546.5 955L544.6 959.7H548.4ZM572.5 955L570.6 959.7H574.4ZM622.5 955L620.6 959.7H624.4ZM627.5 955L625.6 959.7H629.4ZM640.5 955L638.6 959.7H642.4ZM730.5 955L728.6 959.7H732.4ZM737.5 955L735.6 959.7H739.4ZM738.5 955L736.6 959.7H740.4ZM816.5 955L814.6 959.7H818.4ZM818.5 955L816.6 959.7H820.4ZM902.5 955L900.6 959.7H904.4ZM938.5 955L936.6 959.7H940.4ZM943.5 955L941.6 959.7H945.4ZM949.5 955L947.6 959.7H951.4ZM952.5 955L950.6 959.7H954.4ZM953.5 955L951.6 959.7H955.4ZM991.5 955L989.6 959.7H993.4ZM1039.5 955L1037.6 959.7H1041.4ZM1065.5 955L1063.6 959.7H1067.4ZM1125.5 955L1123.6 959.7H1127.4ZM1126.5 955L1124.6 959.7H1128.4ZM1128.5 955L1126.6 959.7H1130.4ZM1130.5 955L1128.6 959.7H1132.4ZM1131.5 955L1129.6 959.7H1133.4ZM1133.5 955L1131.6 959.7H1135.4ZM1135.5 955L1133.6 959.7H1137.4ZM1136.5 955L1134.6 959.7H1138.4ZM1138.5 955L1136.6 959.7H1140.4ZM1143.5 955L1141.6 959.7H1145.4ZM1146.5 955L1144.6 959.7H1148.4ZM1150.5 955L1148.6 959.7H1152.4ZM1151.5 955L1149.6 959.7H1153.4ZM1153.5 955L1151.6 959.7H1155.4ZM1155.5 955L1153.6 959.7H1157.4ZM1156.5 955L1154.6 959.7H1158.4ZM1158.5 955L1156.6 959.7H1160.4ZM1160.5 955L1158.6 959.7H1162.4ZM1161.5 955L1159.6 959.7H1163.4ZM1183.5 955L1181.6 959.7H1185.4ZM1202.5 955L1200.6 959.7H1204.4ZM1203.5 955L1201.6 959.7H1205.4ZM1286.5 955L1284.6 959.7H1288.4ZM1287.5 955L1285.6 959.7H1289.4Z" fill="#f00"/>
<path d="M105.5 1009.5H1485.5M105.5 983.5H1485.5M105.5 957.5H1485.5" stroke="#b0b0b0" stroke-width="1.11" stroke-dasharray="1.1111 1.8333" fill="none"/>
<path d="M162 1011V954" stroke="#800080" stroke-width="2.08" stroke-dasharray="2.0833 3.4375" fill="none"/>
<path d="M1303 1011V954" stroke="#800080" stroke-width="2.08" stroke-dasharray="2.0833 3.4375" fill="none"/>
</g>
<rect x="105.5" y="954.5" width="1380" height="57" fill="none" stroke="#000" stroke-width="1.11" stroke-linejoin="miter"/>
<text x="163.44" y="1032" text-anchor="middle">0</text>
<text x="387.88" y="1032" text-anchor="middle" letter-spacing="-0.360">500</text>
<text x="615.21" y="1032" text-anchor="middle" letter-spacing="-0.250">1000</text>
<text x="841.23" y="1032" text-anchor="middle" letter-spacing="-0.220">1500</text>
<text x="1067.7" y="1032" text-anchor="middle">2000</text>
<text x="1294.47" y="1032" text-anchor="middle" letter-spacing="0.050">2500</text>
<path d="M162.5 1011.5V1016.5M389.5 1011.5V1016.5M615.5 1011.5V1016.5M842.5 1011.5V1016.5M1068.5 1011.5V1016.5M1294.5 1011.5V1016.5" stroke="#000" stroke-width="1.11" fill="none"/>
<text x="96.77" y="1014" text-anchor="end">0</text>
<text x="95.77" y="988" text-anchor="end">5</text>
<text x="93.84" y="962" text-anchor="end" letter-spacing="-0.854">10</text>
<path d="M105.5 1009.5H100.5M105.5 983.5H100.5M105.5 957.5H100.5M105.5 996.5H102.5M105.5 970.5H102.5" stroke="#000" stroke-width="1.11" fill="none"/>
<text transform="translate(69.19 984.69) rotate(-90)" text-anchor="middle" letter-spacing="-1.151">dr</text>
</svg></body></html>
